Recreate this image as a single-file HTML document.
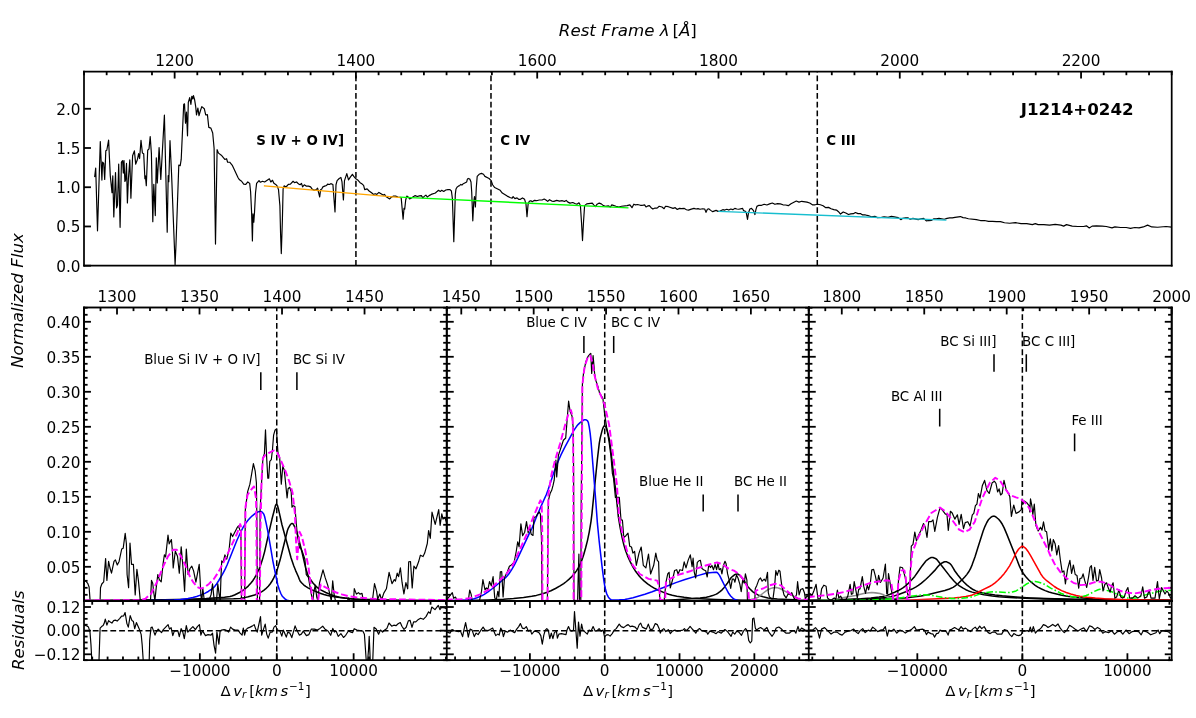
<!DOCTYPE html>
<html><head><meta charset="utf-8"><style>html,body{margin:0;padding:0;background:#fff;overflow:hidden}svg{display:block}</style></head><body>
<svg width="1196" height="718" viewBox="0 0 861.12 516.96" version="1.1">
 <defs>
  <style type="text/css">*{stroke-linejoin: round; stroke-linecap: butt}</style>
 </defs>
 <g id="figure_1">
  <g id="patch_1">
   <path d="M 0 516.96 L 861.12 516.96 L 861.12 0 L 0 0 z" style="fill: #ffffff"/>
  </g>
  <g id="axes_1">
   <g id="patch_2">
    <path d="M 60.48 191.304 L 843.624 191.304 L 843.624 51.552 L 60.48 51.552 z" style="fill: #ffffff"/>
   </g>
   <g id="matplotlib.axis_1">
    <g id="xtick_1">
     <g id="line2d_1">
      <g>
       <path d="M 0 0 L 0 5" transform="translate(125.742 51.552)" style="stroke: #000000; stroke-width: 1.3"/>
      </g>
     </g>
     <g id="text_1">
      <text style="font-size: 11px; font-family: 'DejaVu Sans', sans-serif; text-anchor: middle" x="125.742" y="47.764344" transform="rotate(-0 125.742 47.764344)">1200</text>
     </g>
    </g>
    <g id="xtick_2">
     <g id="line2d_2">
      <g>
       <path d="M 0 0 L 0 5" transform="translate(256.266 51.552)" style="stroke: #000000; stroke-width: 1.3"/>
      </g>
     </g>
     <g id="text_2">
      <text style="font-size: 11px; font-family: 'DejaVu Sans', sans-serif; text-anchor: middle" x="256.266" y="47.764344" transform="rotate(-0 256.266 47.764344)">1400</text>
     </g>
    </g>
    <g id="xtick_3">
     <g id="line2d_3">
      <g>
       <path d="M 0 0 L 0 5" transform="translate(386.79 51.552)" style="stroke: #000000; stroke-width: 1.3"/>
      </g>
     </g>
     <g id="text_3">
      <text style="font-size: 11px; font-family: 'DejaVu Sans', sans-serif; text-anchor: middle" x="386.79" y="47.764344" transform="rotate(-0 386.79 47.764344)">1600</text>
     </g>
    </g>
    <g id="xtick_4">
     <g id="line2d_4">
      <g>
       <path d="M 0 0 L 0 5" transform="translate(517.314 51.552)" style="stroke: #000000; stroke-width: 1.3"/>
      </g>
     </g>
     <g id="text_4">
      <text style="font-size: 11px; font-family: 'DejaVu Sans', sans-serif; text-anchor: middle" x="517.314" y="47.764344" transform="rotate(-0 517.314 47.764344)">1800</text>
     </g>
    </g>
    <g id="xtick_5">
     <g id="line2d_5">
      <g>
       <path d="M 0 0 L 0 5" transform="translate(647.838 51.552)" style="stroke: #000000; stroke-width: 1.3"/>
      </g>
     </g>
     <g id="text_5">
      <text style="font-size: 11px; font-family: 'DejaVu Sans', sans-serif; text-anchor: middle" x="647.838" y="47.764344" transform="rotate(-0 647.838 47.764344)">2000</text>
     </g>
    </g>
    <g id="xtick_6">
     <g id="line2d_6">
      <g>
       <path d="M 0 0 L 0 5" transform="translate(778.362 51.552)" style="stroke: #000000; stroke-width: 1.3"/>
      </g>
     </g>
     <g id="text_6">
      <text style="font-size: 11px; font-family: 'DejaVu Sans', sans-serif; text-anchor: middle" x="778.362" y="47.764344" transform="rotate(-0 778.362 47.764344)">2200</text>
     </g>
    </g>
    <g id="xtick_7">
     <g id="line2d_7">
      <g>
       <path d="M 0 0 L 0 2.6" transform="translate(60.48 51.552)" style="stroke: #000000; stroke-width: 1.3"/>
      </g>
     </g>
    </g>
    <g id="xtick_8">
     <g id="line2d_8">
      <g>
       <path d="M 0 0 L 0 2.6" transform="translate(76.7955 51.552)" style="stroke: #000000; stroke-width: 1.3"/>
      </g>
     </g>
    </g>
    <g id="xtick_9">
     <g id="line2d_9">
      <g>
       <path d="M 0 0 L 0 2.6" transform="translate(93.111 51.552)" style="stroke: #000000; stroke-width: 1.3"/>
      </g>
     </g>
    </g>
    <g id="xtick_10">
     <g id="line2d_10">
      <g>
       <path d="M 0 0 L 0 2.6" transform="translate(109.4265 51.552)" style="stroke: #000000; stroke-width: 1.3"/>
      </g>
     </g>
    </g>
    <g id="xtick_11">
     <g id="line2d_11">
      <g>
       <path d="M 0 0 L 0 2.6" transform="translate(142.0575 51.552)" style="stroke: #000000; stroke-width: 1.3"/>
      </g>
     </g>
    </g>
    <g id="xtick_12">
     <g id="line2d_12">
      <g>
       <path d="M 0 0 L 0 2.6" transform="translate(158.373 51.552)" style="stroke: #000000; stroke-width: 1.3"/>
      </g>
     </g>
    </g>
    <g id="xtick_13">
     <g id="line2d_13">
      <g>
       <path d="M 0 0 L 0 2.6" transform="translate(174.6885 51.552)" style="stroke: #000000; stroke-width: 1.3"/>
      </g>
     </g>
    </g>
    <g id="xtick_14">
     <g id="line2d_14">
      <g>
       <path d="M 0 0 L 0 2.6" transform="translate(191.004 51.552)" style="stroke: #000000; stroke-width: 1.3"/>
      </g>
     </g>
    </g>
    <g id="xtick_15">
     <g id="line2d_15">
      <g>
       <path d="M 0 0 L 0 2.6" transform="translate(207.3195 51.552)" style="stroke: #000000; stroke-width: 1.3"/>
      </g>
     </g>
    </g>
    <g id="xtick_16">
     <g id="line2d_16">
      <g>
       <path d="M 0 0 L 0 2.6" transform="translate(223.635 51.552)" style="stroke: #000000; stroke-width: 1.3"/>
      </g>
     </g>
    </g>
    <g id="xtick_17">
     <g id="line2d_17">
      <g>
       <path d="M 0 0 L 0 2.6" transform="translate(239.9505 51.552)" style="stroke: #000000; stroke-width: 1.3"/>
      </g>
     </g>
    </g>
    <g id="xtick_18">
     <g id="line2d_18">
      <g>
       <path d="M 0 0 L 0 2.6" transform="translate(272.5815 51.552)" style="stroke: #000000; stroke-width: 1.3"/>
      </g>
     </g>
    </g>
    <g id="xtick_19">
     <g id="line2d_19">
      <g>
       <path d="M 0 0 L 0 2.6" transform="translate(288.897 51.552)" style="stroke: #000000; stroke-width: 1.3"/>
      </g>
     </g>
    </g>
    <g id="xtick_20">
     <g id="line2d_20">
      <g>
       <path d="M 0 0 L 0 2.6" transform="translate(305.2125 51.552)" style="stroke: #000000; stroke-width: 1.3"/>
      </g>
     </g>
    </g>
    <g id="xtick_21">
     <g id="line2d_21">
      <g>
       <path d="M 0 0 L 0 2.6" transform="translate(321.528 51.552)" style="stroke: #000000; stroke-width: 1.3"/>
      </g>
     </g>
    </g>
    <g id="xtick_22">
     <g id="line2d_22">
      <g>
       <path d="M 0 0 L 0 2.6" transform="translate(337.8435 51.552)" style="stroke: #000000; stroke-width: 1.3"/>
      </g>
     </g>
    </g>
    <g id="xtick_23">
     <g id="line2d_23">
      <g>
       <path d="M 0 0 L 0 2.6" transform="translate(354.159 51.552)" style="stroke: #000000; stroke-width: 1.3"/>
      </g>
     </g>
    </g>
    <g id="xtick_24">
     <g id="line2d_24">
      <g>
       <path d="M 0 0 L 0 2.6" transform="translate(370.4745 51.552)" style="stroke: #000000; stroke-width: 1.3"/>
      </g>
     </g>
    </g>
    <g id="xtick_25">
     <g id="line2d_25">
      <g>
       <path d="M 0 0 L 0 2.6" transform="translate(403.1055 51.552)" style="stroke: #000000; stroke-width: 1.3"/>
      </g>
     </g>
    </g>
    <g id="xtick_26">
     <g id="line2d_26">
      <g>
       <path d="M 0 0 L 0 2.6" transform="translate(419.421 51.552)" style="stroke: #000000; stroke-width: 1.3"/>
      </g>
     </g>
    </g>
    <g id="xtick_27">
     <g id="line2d_27">
      <g>
       <path d="M 0 0 L 0 2.6" transform="translate(435.7365 51.552)" style="stroke: #000000; stroke-width: 1.3"/>
      </g>
     </g>
    </g>
    <g id="xtick_28">
     <g id="line2d_28">
      <g>
       <path d="M 0 0 L 0 2.6" transform="translate(452.052 51.552)" style="stroke: #000000; stroke-width: 1.3"/>
      </g>
     </g>
    </g>
    <g id="xtick_29">
     <g id="line2d_29">
      <g>
       <path d="M 0 0 L 0 2.6" transform="translate(468.3675 51.552)" style="stroke: #000000; stroke-width: 1.3"/>
      </g>
     </g>
    </g>
    <g id="xtick_30">
     <g id="line2d_30">
      <g>
       <path d="M 0 0 L 0 2.6" transform="translate(484.683 51.552)" style="stroke: #000000; stroke-width: 1.3"/>
      </g>
     </g>
    </g>
    <g id="xtick_31">
     <g id="line2d_31">
      <g>
       <path d="M 0 0 L 0 2.6" transform="translate(500.9985 51.552)" style="stroke: #000000; stroke-width: 1.3"/>
      </g>
     </g>
    </g>
    <g id="xtick_32">
     <g id="line2d_32">
      <g>
       <path d="M 0 0 L 0 2.6" transform="translate(533.6295 51.552)" style="stroke: #000000; stroke-width: 1.3"/>
      </g>
     </g>
    </g>
    <g id="xtick_33">
     <g id="line2d_33">
      <g>
       <path d="M 0 0 L 0 2.6" transform="translate(549.945 51.552)" style="stroke: #000000; stroke-width: 1.3"/>
      </g>
     </g>
    </g>
    <g id="xtick_34">
     <g id="line2d_34">
      <g>
       <path d="M 0 0 L 0 2.6" transform="translate(566.2605 51.552)" style="stroke: #000000; stroke-width: 1.3"/>
      </g>
     </g>
    </g>
    <g id="xtick_35">
     <g id="line2d_35">
      <g>
       <path d="M 0 0 L 0 2.6" transform="translate(582.576 51.552)" style="stroke: #000000; stroke-width: 1.3"/>
      </g>
     </g>
    </g>
    <g id="xtick_36">
     <g id="line2d_36">
      <g>
       <path d="M 0 0 L 0 2.6" transform="translate(598.8915 51.552)" style="stroke: #000000; stroke-width: 1.3"/>
      </g>
     </g>
    </g>
    <g id="xtick_37">
     <g id="line2d_37">
      <g>
       <path d="M 0 0 L 0 2.6" transform="translate(615.207 51.552)" style="stroke: #000000; stroke-width: 1.3"/>
      </g>
     </g>
    </g>
    <g id="xtick_38">
     <g id="line2d_38">
      <g>
       <path d="M 0 0 L 0 2.6" transform="translate(631.5225 51.552)" style="stroke: #000000; stroke-width: 1.3"/>
      </g>
     </g>
    </g>
    <g id="xtick_39">
     <g id="line2d_39">
      <g>
       <path d="M 0 0 L 0 2.6" transform="translate(664.1535 51.552)" style="stroke: #000000; stroke-width: 1.3"/>
      </g>
     </g>
    </g>
    <g id="xtick_40">
     <g id="line2d_40">
      <g>
       <path d="M 0 0 L 0 2.6" transform="translate(680.469 51.552)" style="stroke: #000000; stroke-width: 1.3"/>
      </g>
     </g>
    </g>
    <g id="xtick_41">
     <g id="line2d_41">
      <g>
       <path d="M 0 0 L 0 2.6" transform="translate(696.7845 51.552)" style="stroke: #000000; stroke-width: 1.3"/>
      </g>
     </g>
    </g>
    <g id="xtick_42">
     <g id="line2d_42">
      <g>
       <path d="M 0 0 L 0 2.6" transform="translate(713.1 51.552)" style="stroke: #000000; stroke-width: 1.3"/>
      </g>
     </g>
    </g>
    <g id="xtick_43">
     <g id="line2d_43">
      <g>
       <path d="M 0 0 L 0 2.6" transform="translate(729.4155 51.552)" style="stroke: #000000; stroke-width: 1.3"/>
      </g>
     </g>
    </g>
    <g id="xtick_44">
     <g id="line2d_44">
      <g>
       <path d="M 0 0 L 0 2.6" transform="translate(745.731 51.552)" style="stroke: #000000; stroke-width: 1.3"/>
      </g>
     </g>
    </g>
    <g id="xtick_45">
     <g id="line2d_45">
      <g>
       <path d="M 0 0 L 0 2.6" transform="translate(762.0465 51.552)" style="stroke: #000000; stroke-width: 1.3"/>
      </g>
     </g>
    </g>
    <g id="xtick_46">
     <g id="line2d_46">
      <g>
       <path d="M 0 0 L 0 2.6" transform="translate(794.6775 51.552)" style="stroke: #000000; stroke-width: 1.3"/>
      </g>
     </g>
    </g>
    <g id="xtick_47">
     <g id="line2d_47">
      <g>
       <path d="M 0 0 L 0 2.6" transform="translate(810.993 51.552)" style="stroke: #000000; stroke-width: 1.3"/>
      </g>
     </g>
    </g>
    <g id="xtick_48">
     <g id="line2d_48">
      <g>
       <path d="M 0 0 L 0 2.6" transform="translate(827.3085 51.552)" style="stroke: #000000; stroke-width: 1.3"/>
      </g>
     </g>
    </g>
    <g id="xtick_49">
     <g id="line2d_49">
      <g>
       <path d="M 0 0 L 0 2.6" transform="translate(843.624 51.552)" style="stroke: #000000; stroke-width: 1.3"/>
      </g>
     </g>
    </g>
    <g id="text_7">
     
     <g transform="translate(402.372 26.706062)">
      <text><tspan x="0" y="-0.859375" style="font-style: oblique; font-size: 12px; font-family: 'DejaVu Sans', sans-serif">Rest </tspan><tspan x="30.5742" y="-0.859375" style="font-style: oblique; font-size: 12px; font-family: 'DejaVu Sans', sans-serif">Frame </tspan><tspan x="72.7323" y="-0.859375" style="font-style: oblique; font-size: 12px; font-family: 'DejaVu Sans', sans-serif">λ </tspan><tspan x="81.7822" y="-0.859375" style="font-size: 12px; font-family: 'DejaVu Sans', sans-serif">[</tspan><tspan x="86.4638" y="-0.859375" style="font-style: oblique; font-size: 12px; font-family: 'DejaVu Sans', sans-serif">Å</tspan><tspan x="94.6728" y="-0.859375" style="font-size: 12px; font-family: 'DejaVu Sans', sans-serif">]</tspan></text>
     </g>
    </g>
   </g>
   <g id="matplotlib.axis_2">
    <g id="ytick_1">
     <g id="line2d_50">
      <g>
       <path d="M 0 0 L 5 0" transform="translate(60.48 191.304)" style="stroke: #000000; stroke-width: 1.3"/>
      </g>
     </g>
     <g id="text_8">
      <text style="font-size: 11px; font-family: 'DejaVu Sans', sans-serif; text-anchor: end" x="57.98" y="195.483141" transform="rotate(-0 57.98 195.483141)">0.0</text>
     </g>
    </g>
    <g id="ytick_2">
     <g id="line2d_51">
      <g>
       <path d="M 0 0 L 5 0" transform="translate(60.48 163.055294)" style="stroke: #000000; stroke-width: 1.3"/>
      </g>
     </g>
     <g id="text_9">
      <text style="font-size: 11px; font-family: 'DejaVu Sans', sans-serif; text-anchor: end" x="57.98" y="167.234434" transform="rotate(-0 57.98 167.234434)">0.5</text>
     </g>
    </g>
    <g id="ytick_3">
     <g id="line2d_52">
      <g>
       <path d="M 0 0 L 5 0" transform="translate(60.48 134.806587)" style="stroke: #000000; stroke-width: 1.3"/>
      </g>
     </g>
     <g id="text_10">
      <text style="font-size: 11px; font-family: 'DejaVu Sans', sans-serif; text-anchor: end" x="57.98" y="138.985728" transform="rotate(-0 57.98 138.985728)">1.0</text>
     </g>
    </g>
    <g id="ytick_4">
     <g id="line2d_53">
      <g>
       <path d="M 0 0 L 5 0" transform="translate(60.48 106.557881)" style="stroke: #000000; stroke-width: 1.3"/>
      </g>
     </g>
     <g id="text_11">
      <text style="font-size: 11px; font-family: 'DejaVu Sans', sans-serif; text-anchor: end" x="57.98" y="110.737022" transform="rotate(-0 57.98 110.737022)">1.5</text>
     </g>
    </g>
    <g id="ytick_5">
     <g id="line2d_54">
      <g>
       <path d="M 0 0 L 5 0" transform="translate(60.48 78.309175)" style="stroke: #000000; stroke-width: 1.3"/>
      </g>
     </g>
     <g id="text_12">
      <text style="font-size: 11px; font-family: 'DejaVu Sans', sans-serif; text-anchor: end" x="57.98" y="82.488315" transform="rotate(-0 57.98 82.488315)">2.0</text>
     </g>
    </g>
   </g>
   <g id="line2d_55">
    <path d="M 256.266 191.304 L 256.266 51.552" clip-path="url(#p3af174a0c6)" style="fill: none; stroke-dasharray: 4.18,2.145; stroke-dashoffset: 0; stroke: #000000; stroke-width: 1.1"/>
   </g>
   <g id="line2d_56">
    <path d="M 353.50638 191.304 L 353.50638 51.552" clip-path="url(#p3af174a0c6)" style="fill: none; stroke-dasharray: 4.18,2.145; stroke-dashoffset: 0; stroke: #000000; stroke-width: 1.1"/>
   </g>
   <g id="line2d_57">
    <path d="M 588.44958 191.304 L 588.44958 51.552" clip-path="url(#p3af174a0c6)" style="fill: none; stroke-dasharray: 4.18,2.145; stroke-dashoffset: 0; stroke: #000000; stroke-width: 1.1"/>
   </g>
   <g id="line2d_58">
    <path d="M 68.184 127.13506 L 68.904 120.962084 L 70.2 166.182718 L 72.216 101.940706 L 73.368 129.647317 L 73.872 116.655357 L 74.664 117.66026 L 75.384 129.144865 L 76.176 108.616133 L 76.896 108.185461 L 78.192 100.864025 L 79.416 126.632608 L 80.64 138.691444 L 81.216 126.632608 L 81.936 156.205467 L 83.16 124.192129 L 83.952 149.673598 L 84.6 147.663792 L 85.464 118.162712 L 86.472 163.670461 L 87.408 116.655357 L 88.272 115.650454 L 88.776 124.622802 L 89.28 115.650454 L 89.928 130.65222 L 90.432 129.647317 L 91.08 117.66026 L 91.728 146.156437 L 92.448 128.642414 L 93.456 115.148003 L 94.248 142.639277 L 95.472 112.133294 L 96.768 108.616133 L 97.704 118.162712 L 99 114.645551 L 99.792 110.625939 L 100.512 114.1431 L 101.52 101.079361 L 102.528 110.123488 L 103.464 110.625939 L 104.328 128.642414 L 104.688 126.632608 L 105.336 133.666929 L 106.344 108.185461 L 107.28 107.180558 L 108.144 98.279988 L 109.008 110.625939 L 110.016 159.650849 L 110.736 132.662026 L 111.816 155.200564 L 112.536 113.640648 L 113.256 131.657123 L 114.552 106.175655 L 115.776 129.144865 L 118.368 82.775771 L 120.384 167.187621 L 121.104 126.48905 L 121.536 130.795777 L 122.4 101.294697 L 123.552 125.771263 L 126.072 190.587505 L 126.72 176.016411 L 128.736 118.808721 L 129.744 119.311172 L 130.464 114.789109 L 132.264 75.238999 L 132.84 74.736547 L 133.56 88.73341 L 134.28 80.765965 L 135 97.777537 L 135.576 73.731644 L 136.584 70.286263 L 137.448 75.238999 L 138.096 69.28136 L 138.816 71.291166 L 139.248 68.778908 L 140.112 71.793617 L 140.904 76.746353 L 141.48 82.775771 L 142.488 77.751256 L 143.28 83.278223 L 144.288 79.761062 L 145.296 76.746353 L 147.096 78.253708 L 148.104 82.775771 L 149.328 82.560435 L 150.336 91.748119 L 151.848 92.250571 L 153.144 95.767731 L 154.152 106.749885 L 155.16 175.729296 L 156.312 107.754788 L 157.32 110.267045 L 159.336 111.7744 L 161.856 114.789109 L 163.152 114.286657 L 163.872 116.798915 L 165.384 116.798915 L 167.4 119.311172 L 171.432 127.996405 L 172.44 129.503759 L 173.952 130.508662 L 175.464 132.518468 L 176.976 132.805583 L 178.416 131.011114 L 179.784 132.016017 L 180.432 138.045435 L 181.152 153.047201 L 181.728 173.504154 L 182.16 154.052103 L 182.736 160.009743 L 183.24 153.047201 L 183.96 138.978559 L 184.752 132.016017 L 186.48 130.006211 L 187.488 131.22645 L 189 130.508662 L 190.512 131.011114 L 193.968 128.785972 L 194.976 131.011114 L 196.2 129.790875 L 197.208 132.016017 L 198.504 132.805583 L 199.512 133.810486 L 200.52 136.53808 L 201.528 148.022686 L 202.032 168.838533 L 202.536 182.548281 L 203.328 157.999937 L 203.832 136.035629 L 204.552 133.810486 L 205.56 134.528274 L 206.568 134.025823 L 207.576 132.805583 L 209.088 132.518468 L 211.032 130.508662 L 212.04 131.513565 L 213.552 131.011114 L 215.064 132.518468 L 216.072 133.02092 L 217.08 132.016017 L 217.872 134.528274 L 219.096 133.02092 L 220.608 134.025823 L 222.12 134.025823 L 223.632 134.528274 L 224.64 136.035629 L 226.152 137.040532 L 227.664 136.53808 L 228.672 135.533177 L 230.184 141.84971 L 230.832 136.53808 L 231.696 136.035629 L 232.488 134.528274 L 234.144 133.810486 L 235.152 133.523371 L 235.872 132.518468 L 237.168 132.805583 L 238.176 132.231353 L 239.688 132.805583 L 241.2 152.544749 L 241.92 133.02092 L 242.712 130.006211 L 244.224 128.498856 L 245.448 127.781069 L 246.24 131.011114 L 247.248 144.003074 L 248.04 130.006211 L 249.696 124.981696 L 250.92 129.503759 L 252.216 127.493953 L 253.728 125.484147 L 254.736 126.991502 L 255.96 128.498856 L 256.752 129.001308 L 257.976 130.006211 L 259.272 131.513565 L 260.784 132.518468 L 261.792 133.523371 L 262.584 136.53808 L 264.312 136.035629 L 265.752 137.542983 L 267.768 138.978559 L 268.776 139.983462 L 270.288 139.48101 L 271.296 139.983462 L 272.808 138.547886 L 275.832 140.485913 L 276.84 139.983462 L 277.848 141.490816 L 280.584 143.213507 L 281.88 141.84971 L 283.392 141.203701 L 284.904 141.203701 L 286.416 141.84971 L 287.856 141.993268 L 288.864 142.495719 L 290.232 157.856379 L 290.88 150.032492 L 291.384 150.534943 L 292.104 144.003074 L 292.896 141.203701 L 293.904 141.84971 L 294.912 143.213507 L 295.92 142.782834 L 298.944 140.844807 L 300.456 141.490816 L 301.968 140.988365 L 303.408 140.844807 L 304.416 142.495719 L 305.64 141.203701 L 306.648 140.485913 L 307.656 141.84971 L 308.952 140.844807 L 310.464 139.983462 L 313.488 138.978559 L 314.712 137.830098 L 315.72 137.040532 L 317.016 137.830098 L 318.024 137.040532 L 319.464 137.830098 L 320.976 136.825195 L 322.488 136.53808 L 324 136.53808 L 325.008 137.542983 L 325.728 142.998171 L 326.736 174.006605 L 327.816 139.983462 L 328.32 136.035629 L 329.04 134.815389 L 330.048 134.025823 L 331.056 133.523371 L 331.776 132.805583 L 332.568 133.236256 L 333.576 132.231353 L 336.024 131.011114 L 336.528 129.001308 L 337.104 128.498856 L 338.328 129.001308 L 339.12 131.011114 L 339.624 138.045435 L 340.416 159.00484 L 341.136 145.007977 L 341.64 141.490816 L 342.288 149.027589 L 342.936 135.030726 L 343.584 126.991502 L 344.952 125.484147 L 346.608 124.838138 L 348.12 125.484147 L 349.128 126.991502 L 352.152 128.498856 L 353.664 130.006211 L 354.672 133.02092 L 356.184 135.030726 L 360.144 137.040532 L 361.656 138.978559 L 365.184 141.203701 L 367.2 142.208604 L 368.712 142.782834 L 369.432 141.490816 L 370.728 142.998171 L 372.24 142.495719 L 373.392 143.500622 L 374.688 143.500622 L 376.2 142.495719 L 377.712 143.500622 L 378.72 147.017783 L 379.44 155.990131 L 380.232 147.017783 L 381.024 145.007977 L 382.248 144.505525 L 383.256 145.223313 L 384.768 144.21841 L 386.28 144.505525 L 388.296 144.003074 L 390.312 144.003074 L 391.824 143.285286 L 393.336 144.21841 L 394.344 145.007977 L 395.64 143.787737 L 397.296 144.79264 L 398.808 145.007977 L 400.824 144.290189 L 402.84 144.79264 L 404.856 144.505525 L 406.368 145.007977 L 407.664 144.290189 L 408.888 145.510428 L 410.4 146.228216 L 412.416 145.797543 L 413.856 146.515331 L 415.368 147.017783 L 416.88 146.01288 L 417.888 148.022686 L 418.68 160.009743 L 419.4 173.217039 L 420.12 160.009743 L 420.912 148.022686 L 422.424 146.802446 L 426.456 146.299995 L 427.464 147.520234 L 428.76 148.812252 L 429.912 147.017783 L 431.424 146.228216 L 432.936 146.802446 L 434.448 148.022686 L 435.96 148.525137 L 437.976 148.238022 L 439.488 149.027589 L 440.496 147.520234 L 443.52 148.525137 L 445.536 149.027589 L 447.552 148.525137 L 451.512 148.022686 L 453.528 147.520234 L 455.04 149.53004 L 456.336 147.017783 L 457.56 147.520234 L 459.072 147.233119 L 461.088 147.807349 L 462.6 147.807349 L 464.112 147.520234 L 465.12 149.027589 L 466.416 148.238022 L 467.568 148.022686 L 468.792 149.53004 L 470.088 150.534943 L 471.6 149.817155 L 473.112 149.817155 L 474.624 148.525137 L 476.64 149.027589 L 478.152 150.247828 L 479.16 148.525137 L 481.176 148.812252 L 484.632 150.032492 L 486.144 149.53004 L 487.656 150.822058 L 489.168 150.032492 L 490.68 150.247828 L 492.696 150.032492 L 494.208 151.037395 L 495.72 151.252731 L 497.736 150.534943 L 499.68 150.032492 L 501.12 150.463164 L 502.56 150.176049 L 504 150.678501 L 505.944 150.319607 L 507.384 150.463164 L 508.32 152.903643 L 509.328 150.678501 L 510.264 150.319607 L 511.704 151.468067 L 513.144 152.401191 L 515.592 151.468067 L 517.032 152.185855 L 518.472 151.89874 L 520.416 150.965616 L 521.856 151.252731 L 523.296 150.678501 L 524.736 151.252731 L 526.176 150.463164 L 527.616 150.965616 L 529.056 150.032492 L 530.496 150.463164 L 531.936 150.678501 L 534.672 150.032492 L 535.32 151.611625 L 536.256 151.89874 L 537.264 152.903643 L 538.2 157.999937 L 538.92 153.334316 L 539.856 150.463164 L 541.08 150.032492 L 542.52 151.611625 L 543.528 154.482776 L 544.248 150.965616 L 544.968 148.596916 L 546.408 147.807349 L 548.352 147.807349 L 550.224 147.089561 L 552.168 147.592013 L 554.112 146.802446 L 556.056 146.156437 L 557.928 147.089561 L 559.872 146.658889 L 561.816 146.802446 L 563.76 147.448455 L 565.632 147.592013 L 567.576 148.094464 L 569.52 146.658889 L 573.336 144.720862 L 575.28 145.510428 L 577.224 144.936198 L 581.04 145.510428 L 582.984 146.156437 L 584.928 147.448455 L 586.872 147.448455 L 588.816 147.089561 L 590.688 147.448455 L 592.632 148.094464 L 594.576 149.53004 L 596.52 149.314704 L 598.392 150.319607 L 600.336 150.965616 L 602.28 151.252731 L 603.72 152.401191 L 605.16 154.123882 L 607.104 152.616528 L 608.976 153.334316 L 610.92 154.482776 L 612.504 153.980325 L 614.448 153.836767 L 615.888 153.047201 L 617.76 153.836767 L 619.704 153.836767 L 621.144 154.769891 L 623.088 154.769891 L 625.032 155.272343 L 627.408 156.061909 L 629.856 155.774794 L 631.728 156.707918 L 634.608 156.492582 L 636.552 156.205467 L 639.432 156.492582 L 641.88 155.774794 L 646.704 156.707918 L 648.576 158.143494 L 650.016 157.21037 L 651.96 156.923255 L 653.904 156.923255 L 655.344 157.856379 L 657.288 157.21037 L 661.104 158.143494 L 663.048 157.497485 L 664.992 157.21037 L 666.936 159.076618 L 668.808 158.789503 L 670.752 158.645946 L 672.192 157.641043 L 674.136 157.497485 L 676.08 157.21037 L 679.896 157.856379 L 681.84 157.21037 L 683.784 156.923255 L 685.656 156.923255 L 687.6 156.492582 L 691.488 155.918352 L 693.36 156.707918 L 695.304 156.923255 L 697.248 157.497485 L 703.008 158.143494 L 705.888 158.789503 L 708.84 158.789503 L 711.72 159.363734 L 714.6 159.363734 L 717.48 159.57907 L 720.36 159.57907 L 723.24 160.368636 L 726.984 160.72753 L 731.088 160.296858 L 735.192 161.014646 L 739.224 161.014646 L 743.328 161.732433 L 745.416 161.014646 L 747.432 161.732433 L 751.536 161.732433 L 755.64 162.091327 L 759.744 161.588876 L 763.848 162.091327 L 765.864 162.809115 L 767.88 161.732433 L 771.984 162.809115 L 776.088 163.09623 L 780.192 163.09623 L 782.208 162.593779 L 784.296 164.101133 L 786.312 162.809115 L 789.408 162.593779 L 793.512 162.809115 L 796.536 163.09623 L 800.64 164.101133 L 802.728 163.383345 L 806.832 163.814018 L 810.864 163.814018 L 813.96 164.388248 L 817.056 163.814018 L 820.08 164.101133 L 823.176 163.383345 L 826.272 162.091327 L 829.296 163.383345 L 833.4 163.598682 L 839.52 163.09623 L 843.12 163.526903 L 843.12 163.526903" clip-path="url(#p3af174a0c6)" style="fill: none; stroke: #000000; stroke-width: 0.85; stroke-linecap: square"/>
   </g>
   <g id="line2d_59">
    <path d="M 190.512 133.810486 L 288.36 142.208604" clip-path="url(#p3af174a0c6)" style="fill: none; stroke: #ffa500; stroke-linecap: square"/>
   </g>
   <g id="line2d_60">
    <path d="M 288.36 141.921489 L 452.016 149.673598" clip-path="url(#p3af174a0c6)" style="fill: none; stroke: #00ff00; stroke-linecap: square"/>
   </g>
   <g id="line2d_61">
    <path d="M 517.68 152.185855 L 680.904 158.430609" clip-path="url(#p3af174a0c6)" style="fill: none; stroke: #17becf; stroke-linecap: square"/>
   </g>
   <g id="patch_3">
    <path d="M 60.48 191.304 L 60.48 51.552" style="fill: none; stroke: #000000; stroke-width: 1.25; stroke-linejoin: miter; stroke-linecap: square"/>
   </g>
   <g id="patch_4">
    <path d="M 843.624 191.304 L 843.624 51.552" style="fill: none; stroke: #000000; stroke-width: 1.25; stroke-linejoin: miter; stroke-linecap: square"/>
   </g>
   <g id="patch_5">
    <path d="M 60.48 191.304 L 843.624 191.304" style="fill: none; stroke: #000000; stroke-width: 1.25; stroke-linejoin: miter; stroke-linecap: square"/>
   </g>
   <g id="patch_6">
    <path d="M 60.48 51.552 L 843.624 51.552" style="fill: none; stroke: #000000; stroke-width: 1.25; stroke-linejoin: miter; stroke-linecap: square"/>
   </g>
   <g id="text_13">
    <text style="font-weight: 700; font-size: 9.65px; font-family: 'DejaVu Sans', sans-serif; text-anchor: start" x="184.536" y="104.6683" transform="rotate(-0 184.536 104.6683)">S IV + O IV]</text>
   </g>
   <g id="text_14">
    <text style="font-weight: 700; font-size: 9.65px; font-family: 'DejaVu Sans', sans-serif; text-anchor: start" x="360.216" y="104.6683" transform="rotate(-0 360.216 104.6683)">C IV</text>
   </g>
   <g id="text_15">
    <text style="font-weight: 700; font-size: 9.65px; font-family: 'DejaVu Sans', sans-serif; text-anchor: start" x="594.936" y="104.6683" transform="rotate(-0 594.936 104.6683)">C III</text>
   </g>
   <g id="text_16">
    <text style="font-weight: 700; font-size: 12px; font-family: 'DejaVu Sans', sans-serif; text-anchor: start" x="734.904" y="83.062886" transform="rotate(-0 734.904 83.062886)">J1214+0242</text>
   </g>
  </g>
  <g id="axes_2">
   <g id="patch_7">
    <path d="M 60.48 432.792 L 321.696 432.792 L 321.696 221.4 L 60.48 221.4 z" style="fill: #ffffff"/>
   </g>
   <g id="matplotlib.axis_3">
    <g id="xtick_50"/>
    <g id="xtick_51"/>
    <g id="xtick_52"/>
    <g id="xtick_53"/>
    <g id="xtick_54"/>
   </g>
   <g id="matplotlib.axis_4">
    <g id="ytick_6">
     <g id="line2d_62">
      <g>
       <path d="M 0 0 L 5 0" transform="translate(60.48 408.094318)" style="stroke: #000000; stroke-width: 1.3"/>
      </g>
     </g>
     <g id="line2d_63">
      <g>
       <path d="M 0 0 L -5 0" transform="translate(321.696 408.094318)" style="stroke: #000000; stroke-width: 1.3"/>
      </g>
     </g>
     <g id="text_17">
      <text style="font-size: 11px; font-family: 'DejaVu Sans', sans-serif; text-anchor: end" x="57.98" y="412.273458" transform="rotate(-0 57.98 412.273458)">0.05</text>
     </g>
    </g>
    <g id="ytick_7">
     <g id="line2d_64">
      <g>
       <path d="M 0 0 L 5 0" transform="translate(60.48 382.892601)" style="stroke: #000000; stroke-width: 1.3"/>
      </g>
     </g>
     <g id="line2d_65">
      <g>
       <path d="M 0 0 L -5 0" transform="translate(321.696 382.892601)" style="stroke: #000000; stroke-width: 1.3"/>
      </g>
     </g>
     <g id="text_18">
      <text style="font-size: 11px; font-family: 'DejaVu Sans', sans-serif; text-anchor: end" x="57.98" y="387.071741" transform="rotate(-0 57.98 387.071741)">0.10</text>
     </g>
    </g>
    <g id="ytick_8">
     <g id="line2d_66">
      <g>
       <path d="M 0 0 L 5 0" transform="translate(60.48 357.690884)" style="stroke: #000000; stroke-width: 1.3"/>
      </g>
     </g>
     <g id="line2d_67">
      <g>
       <path d="M 0 0 L -5 0" transform="translate(321.696 357.690884)" style="stroke: #000000; stroke-width: 1.3"/>
      </g>
     </g>
     <g id="text_19">
      <text style="font-size: 11px; font-family: 'DejaVu Sans', sans-serif; text-anchor: end" x="57.98" y="361.870025" transform="rotate(-0 57.98 361.870025)">0.15</text>
     </g>
    </g>
    <g id="ytick_9">
     <g id="line2d_68">
      <g>
       <path d="M 0 0 L 5 0" transform="translate(60.48 332.489167)" style="stroke: #000000; stroke-width: 1.3"/>
      </g>
     </g>
     <g id="line2d_69">
      <g>
       <path d="M 0 0 L -5 0" transform="translate(321.696 332.489167)" style="stroke: #000000; stroke-width: 1.3"/>
      </g>
     </g>
     <g id="text_20">
      <text style="font-size: 11px; font-family: 'DejaVu Sans', sans-serif; text-anchor: end" x="57.98" y="336.668308" transform="rotate(-0 57.98 336.668308)">0.20</text>
     </g>
    </g>
    <g id="ytick_10">
     <g id="line2d_70">
      <g>
       <path d="M 0 0 L 5 0" transform="translate(60.48 307.287451)" style="stroke: #000000; stroke-width: 1.3"/>
      </g>
     </g>
     <g id="line2d_71">
      <g>
       <path d="M 0 0 L -5 0" transform="translate(321.696 307.287451)" style="stroke: #000000; stroke-width: 1.3"/>
      </g>
     </g>
     <g id="text_21">
      <text style="font-size: 11px; font-family: 'DejaVu Sans', sans-serif; text-anchor: end" x="57.98" y="311.466591" transform="rotate(-0 57.98 311.466591)">0.25</text>
     </g>
    </g>
    <g id="ytick_11">
     <g id="line2d_72">
      <g>
       <path d="M 0 0 L 5 0" transform="translate(60.48 282.085734)" style="stroke: #000000; stroke-width: 1.3"/>
      </g>
     </g>
     <g id="line2d_73">
      <g>
       <path d="M 0 0 L -5 0" transform="translate(321.696 282.085734)" style="stroke: #000000; stroke-width: 1.3"/>
      </g>
     </g>
     <g id="text_22">
      <text style="font-size: 11px; font-family: 'DejaVu Sans', sans-serif; text-anchor: end" x="57.98" y="286.264875" transform="rotate(-0 57.98 286.264875)">0.30</text>
     </g>
    </g>
    <g id="ytick_12">
     <g id="line2d_74">
      <g>
       <path d="M 0 0 L 5 0" transform="translate(60.48 256.884017)" style="stroke: #000000; stroke-width: 1.3"/>
      </g>
     </g>
     <g id="line2d_75">
      <g>
       <path d="M 0 0 L -5 0" transform="translate(321.696 256.884017)" style="stroke: #000000; stroke-width: 1.3"/>
      </g>
     </g>
     <g id="text_23">
      <text style="font-size: 11px; font-family: 'DejaVu Sans', sans-serif; text-anchor: end" x="57.98" y="261.063158" transform="rotate(-0 57.98 261.063158)">0.35</text>
     </g>
    </g>
    <g id="ytick_13">
     <g id="line2d_76">
      <g>
       <path d="M 0 0 L 5 0" transform="translate(60.48 231.6823)" style="stroke: #000000; stroke-width: 1.3"/>
      </g>
     </g>
     <g id="line2d_77">
      <g>
       <path d="M 0 0 L -5 0" transform="translate(321.696 231.6823)" style="stroke: #000000; stroke-width: 1.3"/>
      </g>
     </g>
     <g id="text_24">
      <text style="font-size: 11px; font-family: 'DejaVu Sans', sans-serif; text-anchor: end" x="57.98" y="235.861441" transform="rotate(-0 57.98 235.861441)">0.40</text>
     </g>
    </g>
    <g id="ytick_14">
     <g id="line2d_78">
      <g>
       <path d="M 0 0 L 2.6 0" transform="translate(60.48 428.255691)" style="stroke: #000000; stroke-width: 1.3"/>
      </g>
     </g>
     <g id="line2d_79">
      <g>
       <path d="M 0 0 L -2.6 0" transform="translate(321.696 428.255691)" style="stroke: #000000; stroke-width: 1.3"/>
      </g>
     </g>
    </g>
    <g id="ytick_15">
     <g id="line2d_80">
      <g>
       <path d="M 0 0 L 2.6 0" transform="translate(60.48 423.215348)" style="stroke: #000000; stroke-width: 1.3"/>
      </g>
     </g>
     <g id="line2d_81">
      <g>
       <path d="M 0 0 L -2.6 0" transform="translate(321.696 423.215348)" style="stroke: #000000; stroke-width: 1.3"/>
      </g>
     </g>
    </g>
    <g id="ytick_16">
     <g id="line2d_82">
      <g>
       <path d="M 0 0 L 2.6 0" transform="translate(60.48 418.175004)" style="stroke: #000000; stroke-width: 1.3"/>
      </g>
     </g>
     <g id="line2d_83">
      <g>
       <path d="M 0 0 L -2.6 0" transform="translate(321.696 418.175004)" style="stroke: #000000; stroke-width: 1.3"/>
      </g>
     </g>
    </g>
    <g id="ytick_17">
     <g id="line2d_84">
      <g>
       <path d="M 0 0 L 2.6 0" transform="translate(60.48 413.134661)" style="stroke: #000000; stroke-width: 1.3"/>
      </g>
     </g>
     <g id="line2d_85">
      <g>
       <path d="M 0 0 L -2.6 0" transform="translate(321.696 413.134661)" style="stroke: #000000; stroke-width: 1.3"/>
      </g>
     </g>
    </g>
    <g id="ytick_18">
     <g id="line2d_86">
      <g>
       <path d="M 0 0 L 2.6 0" transform="translate(60.48 403.053974)" style="stroke: #000000; stroke-width: 1.3"/>
      </g>
     </g>
     <g id="line2d_87">
      <g>
       <path d="M 0 0 L -2.6 0" transform="translate(321.696 403.053974)" style="stroke: #000000; stroke-width: 1.3"/>
      </g>
     </g>
    </g>
    <g id="ytick_19">
     <g id="line2d_88">
      <g>
       <path d="M 0 0 L 2.6 0" transform="translate(60.48 398.013631)" style="stroke: #000000; stroke-width: 1.3"/>
      </g>
     </g>
     <g id="line2d_89">
      <g>
       <path d="M 0 0 L -2.6 0" transform="translate(321.696 398.013631)" style="stroke: #000000; stroke-width: 1.3"/>
      </g>
     </g>
    </g>
    <g id="ytick_20">
     <g id="line2d_90">
      <g>
       <path d="M 0 0 L 2.6 0" transform="translate(60.48 392.973288)" style="stroke: #000000; stroke-width: 1.3"/>
      </g>
     </g>
     <g id="line2d_91">
      <g>
       <path d="M 0 0 L -2.6 0" transform="translate(321.696 392.973288)" style="stroke: #000000; stroke-width: 1.3"/>
      </g>
     </g>
    </g>
    <g id="ytick_21">
     <g id="line2d_92">
      <g>
       <path d="M 0 0 L 2.6 0" transform="translate(60.48 387.932944)" style="stroke: #000000; stroke-width: 1.3"/>
      </g>
     </g>
     <g id="line2d_93">
      <g>
       <path d="M 0 0 L -2.6 0" transform="translate(321.696 387.932944)" style="stroke: #000000; stroke-width: 1.3"/>
      </g>
     </g>
    </g>
    <g id="ytick_22">
     <g id="line2d_94">
      <g>
       <path d="M 0 0 L 2.6 0" transform="translate(60.48 377.852258)" style="stroke: #000000; stroke-width: 1.3"/>
      </g>
     </g>
     <g id="line2d_95">
      <g>
       <path d="M 0 0 L -2.6 0" transform="translate(321.696 377.852258)" style="stroke: #000000; stroke-width: 1.3"/>
      </g>
     </g>
    </g>
    <g id="ytick_23">
     <g id="line2d_96">
      <g>
       <path d="M 0 0 L 2.6 0" transform="translate(60.48 372.811914)" style="stroke: #000000; stroke-width: 1.3"/>
      </g>
     </g>
     <g id="line2d_97">
      <g>
       <path d="M 0 0 L -2.6 0" transform="translate(321.696 372.811914)" style="stroke: #000000; stroke-width: 1.3"/>
      </g>
     </g>
    </g>
    <g id="ytick_24">
     <g id="line2d_98">
      <g>
       <path d="M 0 0 L 2.6 0" transform="translate(60.48 367.771571)" style="stroke: #000000; stroke-width: 1.3"/>
      </g>
     </g>
     <g id="line2d_99">
      <g>
       <path d="M 0 0 L -2.6 0" transform="translate(321.696 367.771571)" style="stroke: #000000; stroke-width: 1.3"/>
      </g>
     </g>
    </g>
    <g id="ytick_25">
     <g id="line2d_100">
      <g>
       <path d="M 0 0 L 2.6 0" transform="translate(60.48 362.731227)" style="stroke: #000000; stroke-width: 1.3"/>
      </g>
     </g>
     <g id="line2d_101">
      <g>
       <path d="M 0 0 L -2.6 0" transform="translate(321.696 362.731227)" style="stroke: #000000; stroke-width: 1.3"/>
      </g>
     </g>
    </g>
    <g id="ytick_26">
     <g id="line2d_102">
      <g>
       <path d="M 0 0 L 2.6 0" transform="translate(60.48 352.650541)" style="stroke: #000000; stroke-width: 1.3"/>
      </g>
     </g>
     <g id="line2d_103">
      <g>
       <path d="M 0 0 L -2.6 0" transform="translate(321.696 352.650541)" style="stroke: #000000; stroke-width: 1.3"/>
      </g>
     </g>
    </g>
    <g id="ytick_27">
     <g id="line2d_104">
      <g>
       <path d="M 0 0 L 2.6 0" transform="translate(60.48 347.610197)" style="stroke: #000000; stroke-width: 1.3"/>
      </g>
     </g>
     <g id="line2d_105">
      <g>
       <path d="M 0 0 L -2.6 0" transform="translate(321.696 347.610197)" style="stroke: #000000; stroke-width: 1.3"/>
      </g>
     </g>
    </g>
    <g id="ytick_28">
     <g id="line2d_106">
      <g>
       <path d="M 0 0 L 2.6 0" transform="translate(60.48 342.569854)" style="stroke: #000000; stroke-width: 1.3"/>
      </g>
     </g>
     <g id="line2d_107">
      <g>
       <path d="M 0 0 L -2.6 0" transform="translate(321.696 342.569854)" style="stroke: #000000; stroke-width: 1.3"/>
      </g>
     </g>
    </g>
    <g id="ytick_29">
     <g id="line2d_108">
      <g>
       <path d="M 0 0 L 2.6 0" transform="translate(60.48 337.529511)" style="stroke: #000000; stroke-width: 1.3"/>
      </g>
     </g>
     <g id="line2d_109">
      <g>
       <path d="M 0 0 L -2.6 0" transform="translate(321.696 337.529511)" style="stroke: #000000; stroke-width: 1.3"/>
      </g>
     </g>
    </g>
    <g id="ytick_30">
     <g id="line2d_110">
      <g>
       <path d="M 0 0 L 2.6 0" transform="translate(60.48 327.448824)" style="stroke: #000000; stroke-width: 1.3"/>
      </g>
     </g>
     <g id="line2d_111">
      <g>
       <path d="M 0 0 L -2.6 0" transform="translate(321.696 327.448824)" style="stroke: #000000; stroke-width: 1.3"/>
      </g>
     </g>
    </g>
    <g id="ytick_31">
     <g id="line2d_112">
      <g>
       <path d="M 0 0 L 2.6 0" transform="translate(60.48 322.408481)" style="stroke: #000000; stroke-width: 1.3"/>
      </g>
     </g>
     <g id="line2d_113">
      <g>
       <path d="M 0 0 L -2.6 0" transform="translate(321.696 322.408481)" style="stroke: #000000; stroke-width: 1.3"/>
      </g>
     </g>
    </g>
    <g id="ytick_32">
     <g id="line2d_114">
      <g>
       <path d="M 0 0 L 2.6 0" transform="translate(60.48 317.368137)" style="stroke: #000000; stroke-width: 1.3"/>
      </g>
     </g>
     <g id="line2d_115">
      <g>
       <path d="M 0 0 L -2.6 0" transform="translate(321.696 317.368137)" style="stroke: #000000; stroke-width: 1.3"/>
      </g>
     </g>
    </g>
    <g id="ytick_33">
     <g id="line2d_116">
      <g>
       <path d="M 0 0 L 2.6 0" transform="translate(60.48 312.327794)" style="stroke: #000000; stroke-width: 1.3"/>
      </g>
     </g>
     <g id="line2d_117">
      <g>
       <path d="M 0 0 L -2.6 0" transform="translate(321.696 312.327794)" style="stroke: #000000; stroke-width: 1.3"/>
      </g>
     </g>
    </g>
    <g id="ytick_34">
     <g id="line2d_118">
      <g>
       <path d="M 0 0 L 2.6 0" transform="translate(60.48 302.247107)" style="stroke: #000000; stroke-width: 1.3"/>
      </g>
     </g>
     <g id="line2d_119">
      <g>
       <path d="M 0 0 L -2.6 0" transform="translate(321.696 302.247107)" style="stroke: #000000; stroke-width: 1.3"/>
      </g>
     </g>
    </g>
    <g id="ytick_35">
     <g id="line2d_120">
      <g>
       <path d="M 0 0 L 2.6 0" transform="translate(60.48 297.206764)" style="stroke: #000000; stroke-width: 1.3"/>
      </g>
     </g>
     <g id="line2d_121">
      <g>
       <path d="M 0 0 L -2.6 0" transform="translate(321.696 297.206764)" style="stroke: #000000; stroke-width: 1.3"/>
      </g>
     </g>
    </g>
    <g id="ytick_36">
     <g id="line2d_122">
      <g>
       <path d="M 0 0 L 2.6 0" transform="translate(60.48 292.166421)" style="stroke: #000000; stroke-width: 1.3"/>
      </g>
     </g>
     <g id="line2d_123">
      <g>
       <path d="M 0 0 L -2.6 0" transform="translate(321.696 292.166421)" style="stroke: #000000; stroke-width: 1.3"/>
      </g>
     </g>
    </g>
    <g id="ytick_37">
     <g id="line2d_124">
      <g>
       <path d="M 0 0 L 2.6 0" transform="translate(60.48 287.126077)" style="stroke: #000000; stroke-width: 1.3"/>
      </g>
     </g>
     <g id="line2d_125">
      <g>
       <path d="M 0 0 L -2.6 0" transform="translate(321.696 287.126077)" style="stroke: #000000; stroke-width: 1.3"/>
      </g>
     </g>
    </g>
    <g id="ytick_38">
     <g id="line2d_126">
      <g>
       <path d="M 0 0 L 2.6 0" transform="translate(60.48 277.045391)" style="stroke: #000000; stroke-width: 1.3"/>
      </g>
     </g>
     <g id="line2d_127">
      <g>
       <path d="M 0 0 L -2.6 0" transform="translate(321.696 277.045391)" style="stroke: #000000; stroke-width: 1.3"/>
      </g>
     </g>
    </g>
    <g id="ytick_39">
     <g id="line2d_128">
      <g>
       <path d="M 0 0 L 2.6 0" transform="translate(60.48 272.005047)" style="stroke: #000000; stroke-width: 1.3"/>
      </g>
     </g>
     <g id="line2d_129">
      <g>
       <path d="M 0 0 L -2.6 0" transform="translate(321.696 272.005047)" style="stroke: #000000; stroke-width: 1.3"/>
      </g>
     </g>
    </g>
    <g id="ytick_40">
     <g id="line2d_130">
      <g>
       <path d="M 0 0 L 2.6 0" transform="translate(60.48 266.964704)" style="stroke: #000000; stroke-width: 1.3"/>
      </g>
     </g>
     <g id="line2d_131">
      <g>
       <path d="M 0 0 L -2.6 0" transform="translate(321.696 266.964704)" style="stroke: #000000; stroke-width: 1.3"/>
      </g>
     </g>
    </g>
    <g id="ytick_41">
     <g id="line2d_132">
      <g>
       <path d="M 0 0 L 2.6 0" transform="translate(60.48 261.924361)" style="stroke: #000000; stroke-width: 1.3"/>
      </g>
     </g>
     <g id="line2d_133">
      <g>
       <path d="M 0 0 L -2.6 0" transform="translate(321.696 261.924361)" style="stroke: #000000; stroke-width: 1.3"/>
      </g>
     </g>
    </g>
    <g id="ytick_42">
     <g id="line2d_134">
      <g>
       <path d="M 0 0 L 2.6 0" transform="translate(60.48 251.843674)" style="stroke: #000000; stroke-width: 1.3"/>
      </g>
     </g>
     <g id="line2d_135">
      <g>
       <path d="M 0 0 L -2.6 0" transform="translate(321.696 251.843674)" style="stroke: #000000; stroke-width: 1.3"/>
      </g>
     </g>
    </g>
    <g id="ytick_43">
     <g id="line2d_136">
      <g>
       <path d="M 0 0 L 2.6 0" transform="translate(60.48 246.80333)" style="stroke: #000000; stroke-width: 1.3"/>
      </g>
     </g>
     <g id="line2d_137">
      <g>
       <path d="M 0 0 L -2.6 0" transform="translate(321.696 246.80333)" style="stroke: #000000; stroke-width: 1.3"/>
      </g>
     </g>
    </g>
    <g id="ytick_44">
     <g id="line2d_138">
      <g>
       <path d="M 0 0 L 2.6 0" transform="translate(60.48 241.762987)" style="stroke: #000000; stroke-width: 1.3"/>
      </g>
     </g>
     <g id="line2d_139">
      <g>
       <path d="M 0 0 L -2.6 0" transform="translate(321.696 241.762987)" style="stroke: #000000; stroke-width: 1.3"/>
      </g>
     </g>
    </g>
    <g id="ytick_45">
     <g id="line2d_140">
      <g>
       <path d="M 0 0 L 2.6 0" transform="translate(60.48 236.722644)" style="stroke: #000000; stroke-width: 1.3"/>
      </g>
     </g>
     <g id="line2d_141">
      <g>
       <path d="M 0 0 L -2.6 0" transform="translate(321.696 236.722644)" style="stroke: #000000; stroke-width: 1.3"/>
      </g>
     </g>
    </g>
    <g id="ytick_46">
     <g id="line2d_142">
      <g>
       <path d="M 0 0 L 2.6 0" transform="translate(60.48 226.641957)" style="stroke: #000000; stroke-width: 1.3"/>
      </g>
     </g>
     <g id="line2d_143">
      <g>
       <path d="M 0 0 L -2.6 0" transform="translate(321.696 226.641957)" style="stroke: #000000; stroke-width: 1.3"/>
      </g>
     </g>
    </g>
    <g id="ytick_47">
     <g id="line2d_144">
      <g>
       <path d="M 0 0 L 2.6 0" transform="translate(60.48 221.601614)" style="stroke: #000000; stroke-width: 1.3"/>
      </g>
     </g>
     <g id="line2d_145">
      <g>
       <path d="M 0 0 L -2.6 0" transform="translate(321.696 221.601614)" style="stroke: #000000; stroke-width: 1.3"/>
      </g>
     </g>
    </g>
   </g>
   <g id="line2d_146">
    <path d="M 199.256569 432.792 L 199.256569 221.4" clip-path="url(#p72ddb34a2a)" style="fill: none; stroke-dasharray: 4.18,2.145; stroke-dashoffset: 0; stroke: #000000; stroke-width: 1.1"/>
   </g>
   <g id="line2d_147">
    <path d="M 60.48 432.36 L 84.783158 432.245476 L 118.282105 431.845715 L 136.016842 431.409994 L 148.496842 430.907131 L 161.633684 429.969456 L 165.574737 429.484033 L 166.888421 429.161891 L 168.858947 428.359699 L 172.8 426.383564 L 174.770526 425.175307 L 176.741053 423.734853 L 178.711579 421.97603 L 180.682105 419.822429 L 181.995789 418.118372 L 183.309474 416.079924 L 184.623158 413.702026 L 186.593684 409.533534 L 187.907368 406.123934 L 189.221053 402.002172 L 190.534737 397.158422 L 193.818947 382.463273 L 195.789474 373.898443 L 198.416842 363.764871 L 199.073684 362.952082 L 199.730526 363.814831 L 200.387368 366.059161 L 203.014737 377.803262 L 209.583158 401.733817 L 211.553684 407.544765 L 212.867368 410.812162 L 214.837895 415.24778 L 215.494737 417.048716 L 216.151579 418.445922 L 217.465263 419.982846 L 218.778947 421.235512 L 220.092632 422.254454 L 222.063158 423.455172 L 224.690526 424.709731 L 229.945263 426.966922 L 233.229474 428.067179 L 235.856842 428.714198 L 241.768421 429.764966 L 247.68 430.582585 L 252.934737 431.087152 L 258.846316 431.403291 L 271.983158 431.856315 L 286.433684 432.126878 L 315.334737 432.347862 L 322.56 432.36 L 322.56 432.36" clip-path="url(#p72ddb34a2a)" style="fill: none; stroke: #000000; stroke-width: 1.1; stroke-linecap: square"/>
   </g>
   <g id="line2d_148">
    <path d="M 60.48 432.432 L 92.665263 432.320075 L 123.536842 432.020624 L 168.202105 431.16994 L 172.8 430.900702 L 175.427368 430.469981 L 178.711579 429.697537 L 183.309474 428.367476 L 185.936842 427.303808 L 188.564211 425.937006 L 189.877895 425.087879 L 191.191579 424.034039 L 193.162105 422.073554 L 194.475789 420.501504 L 195.789474 418.51074 L 197.103158 416.079342 L 198.416842 413.247649 L 199.730526 409.639047 L 201.701053 403.085302 L 203.671579 395.132023 L 206.955789 381.974074 L 207.612632 380.222268 L 208.926316 377.974762 L 209.583158 377.193069 L 210.24 376.851693 L 210.896842 377.148178 L 211.553684 378.060226 L 212.867368 380.789031 L 213.524211 382.434889 L 214.837895 387.109009 L 217.465263 397.596012 L 220.092632 408.98142 L 221.406316 413.294822 L 222.063158 414.747211 L 224.033684 417.946524 L 225.347368 419.729464 L 226.661053 421.257934 L 227.974737 422.553775 L 229.288421 423.638825 L 231.258947 424.92034 L 234.543158 426.62899 L 237.827368 428.03312 L 241.111579 429.140558 L 244.395789 429.959131 L 248.336842 430.626046 L 254.905263 431.522731 L 260.16 432.02747 L 264.757895 432.262064 L 273.953684 432.36906 L 305.482105 432.55373 L 322.56 432.576 L 322.56 432.576" clip-path="url(#p72ddb34a2a)" style="fill: none; stroke: #000000; stroke-width: 1.1; stroke-linecap: square"/>
   </g>
   <g id="line2d_149">
    <path d="M 108 432.432 L 116.390977 432.321152 L 125.323308 431.996465 L 129.924812 431.582867 L 135.338346 430.86193 L 138.857143 430.218738 L 141.56391 429.459651 L 144.81203 428.301856 L 147.789474 427.020349 L 149.954887 425.851813 L 151.849624 424.605866 L 153.744361 423.104416 L 154.556391 422.299344 L 155.639098 420.897769 L 157.533835 417.949988 L 160.240602 413.426262 L 162.135338 409.783499 L 163.488722 406.775703 L 167.007519 397.997913 L 170.526316 389.183692 L 173.503759 382.673232 L 175.12782 379.541204 L 176.481203 377.379562 L 178.37594 374.795263 L 180 372.913755 L 181.62406 371.367997 L 183.789474 369.595265 L 184.87218 368.938038 L 185.954887 368.53812 L 187.308271 368.230411 L 187.849624 368.219772 L 188.390977 368.451271 L 188.932331 368.925925 L 189.744361 369.941325 L 190.015038 370.415523 L 190.556391 372.061017 L 191.639098 376.835627 L 192.721805 382.064802 L 194.616541 392.894505 L 196.511278 404.184005 L 198.676692 414.904775 L 200.030075 421.187845 L 201.112782 424.567962 L 202.195489 427.329004 L 203.007519 428.863857 L 203.819549 429.856782 L 205.172932 431.176841 L 206.255639 431.960922 L 207.067669 432.319983 L 207.879699 432.437963 L 214.646617 432.572709 L 216 432.576 L 216 432.576" clip-path="url(#p72ddb34a2a)" style="fill: none; stroke: #0000ff; stroke-width: 1.1; stroke-linecap: square"/>
   </g>
   <g id="line2d_150">
    <path d="M 60.48 417.888 L 61.776 418.392 L 63.144 419.976 L 64.152 422.64 L 64.872 432.432 L 65.52 436.32 L 71.64 436.32 L 72.072 432.432 L 72.36 423.144 L 73.296 420.48 L 74.664 418.896 L 76.032 402.12 L 76.968 417.888 L 78.192 404.208 L 79.2 408.96 L 80.28 412.632 L 82.08 404.208 L 83.088 403.128 L 84.456 406.8 L 85.752 404.208 L 87.624 395.28 L 88.704 394.704 L 90.144 383.976 L 91.008 391.536 L 91.512 413.64 L 92.592 423.144 L 93.6 391.032 L 94.68 406.296 L 96.048 406.296 L 97.344 428.4 L 98.568 409.968 L 99.648 417.888 L 101.016 432.432 L 101.52 436.32 L 108 436.32 L 108.36 432.432 L 109.08 417.888 L 109.944 419.976 L 110.808 427.32 L 111.528 432.432 L 112.248 425.232 L 113.616 413.64 L 114.696 417.384 L 116.064 418.896 L 117.504 405.216 L 118.368 399.456 L 119.232 401.04 L 120.96 385.272 L 121.824 391.536 L 123.408 388.44 L 124.128 396.864 L 124.704 408.96 L 126.216 396.864 L 127.8 400.536 L 129.096 412.632 L 130.464 393.696 L 131.544 406.296 L 132.912 425.736 L 134.136 395.28 L 135.432 413.64 L 136.8 409.32 L 138.096 407.664 L 139.392 411.048 L 141.048 419.112 L 143.424 406.368 L 144.072 417.024 L 144.648 428.904 L 145.296 432.72 L 146.016 423.792 L 146.88 430.632 L 147.456 432.72 L 149.04 432.72 L 150.84 431.064 L 151.992 428.112 L 153 420.408 L 154.296 432.72 L 155.88 432.72 L 156.816 420.408 L 157.68 427.248 L 158.544 432.36 L 159.12 415.296 L 159.624 403.776 L 160.632 405.072 L 161.928 399.528 L 163.224 402.552 L 164.952 395.712 L 166.176 383.76 L 167.472 386.352 L 170.712 379.944 L 171.72 378.648 L 172.584 381.24 L 173.448 382.896 L 173.88 432.72 L 176.112 432.72 L 176.616 367.2 L 178.272 354.168 L 179.928 348.624 L 182.448 333.792 L 183.744 339.264 L 184.608 347.544 L 184.968 374.4 L 185.328 432.72 L 186.912 432.72 L 187.272 367.2 L 189.288 329.904 L 190.368 326.592 L 191.16 309.528 L 192.024 329.904 L 192.816 344.232 L 193.464 344.232 L 194.256 332.136 L 195.336 330.984 L 196.128 324.36 L 196.992 313.344 L 198.072 309.528 L 199.008 308.952 L 200.088 325.512 L 201.384 329.904 L 202.536 348.624 L 203.616 335.376 L 204.696 338.688 L 206.712 358.56 L 207.432 351.936 L 208.584 350.856 L 209.664 354.168 L 210.24 365.184 L 211.104 364.104 L 212.328 364.752 L 213.984 384.552 L 215.64 394.488 L 216 393.696 L 217.512 396.72 L 219.528 402.696 L 220.536 413.712 L 222.048 415.728 L 224.496 429.768 L 225.216 432.576 L 226.008 425.808 L 227.016 421.272 L 228.024 429.768 L 228.816 432.576 L 230.04 419.76 L 232.56 410.256 L 234.072 415.728 L 236.088 421.776 L 238.536 432.576 L 239.544 418.248 L 240.552 427.752 L 241.56 432.72 L 250.128 432.72 L 250.92 430.56 L 252 432.72 L 254.52 432.72 L 255.096 423.792 L 256.608 427.752 L 258.12 426.744 L 259.128 427.752 L 260.64 427.248 L 261.648 432.576 L 268.128 432.576 L 269.64 420.264 L 271.152 425.808 L 271.944 431.424 L 273.456 427.68 L 274.752 431.856 L 276.336 427.032 L 278.208 423.936 L 280.152 412.056 L 282.24 420.192 L 283.896 417.312 L 284.76 418.32 L 285.984 412.632 L 286.992 415.152 L 288.288 408.888 L 289.512 419.544 L 290.808 427.68 L 292.248 419.544 L 293.544 423.936 L 294.264 404.496 L 295.56 404.28 L 296.784 423.288 L 298.008 407.664 L 299.52 409.536 L 301.392 404.496 L 302.688 399.744 L 304.56 400.752 L 305.784 398.232 L 307.656 391.32 L 308.592 381.96 L 309.816 387.576 L 311.04 368.784 L 313.344 377.568 L 315.864 366.912 L 316.872 378.216 L 318.096 370.008 L 318.96 373.824 L 320.256 372.528 L 321.48 376.272 L 322.56 374.4 L 322.56 374.4" clip-path="url(#p72ddb34a2a)" style="fill: none; stroke: #000000; stroke-width: 0.85; stroke-linecap: square"/>
   </g>
   <g id="line2d_151">
    <path d="M 60.48 432.288 L 101.016 432.144 L 104.688 431.064 L 108.864 427.32 L 113.112 418.896 L 117.288 408.384 L 120.96 400.536 L 124.704 395.784 L 127.296 395.784 L 129.96 399.96 L 134.136 408.384 L 136.8 415.296 L 139.392 419.544 L 141.912 422.568 L 144.504 423.792 L 147.024 423 L 150.408 420.408 L 153.864 417.024 L 157.248 411.912 L 160.632 405.504 L 164.088 398.232 L 167.472 391.032 L 170.856 383.76 L 172.944 377.352 L 173.448 378.72 L 173.736 403.2 L 174.024 432.432 L 176.04 432.432 L 176.328 403.2 L 176.76 365.04 L 178.2 356.4 L 180.432 353.088 L 182.88 350.28 L 184.32 358.56 L 184.608 374.4 L 184.896 432.432 L 187.128 432.432 L 187.488 381.6 L 188.424 343.152 L 189.288 329.904 L 190.944 327.672 L 193.68 326.016 L 196.992 324.36 L 199.44 325.512 L 202.536 332.136 L 205.776 339.84 L 208.224 346.536 L 210.672 354.816 L 212.328 369.648 L 213.192 391.176 L 213.984 402.696 L 215.64 382.896 L 217.296 386.208 L 219.744 396.144 L 222.264 409.32 L 223.92 422.568 L 224.712 430.848 L 225.504 432.576 L 229.032 432.576 L 230.04 424.8 L 231.048 420.768 L 234.072 422.784 L 238.032 424.8 L 242.064 426.6 L 246.096 427.968 L 251.064 429.264 L 256.104 429.984 L 266.112 430.992 L 276.192 431.352 L 288 431.568 L 322.56 432.072" clip-path="url(#p72ddb34a2a)" style="fill: none; stroke-dasharray: 4.9,2.1; stroke-dashoffset: 0; stroke: #ff00ff; stroke-width: 1.4"/>
   </g>
   <g id="line2d_152">
    <path d="M 187.776 268.056 L 187.776 280.8" clip-path="url(#p72ddb34a2a)" style="fill: none; stroke: #000000; stroke-width: 1.1"/>
   </g>
   <g id="line2d_153">
    <path d="M 213.768 268.056 L 213.768 280.8" clip-path="url(#p72ddb34a2a)" style="fill: none; stroke: #000000; stroke-width: 1.1"/>
   </g>
   <g id="patch_8">
    <path d="M 60.48 432.792 L 60.48 221.4" style="fill: none; stroke: #000000; stroke-width: 1.25; stroke-linejoin: miter; stroke-linecap: square"/>
   </g>
   <g id="patch_9">
    <path d="M 321.696 432.792 L 321.696 221.4" style="fill: none; stroke: #000000; stroke-width: 1.25; stroke-linejoin: miter; stroke-linecap: square"/>
   </g>
   <g id="patch_10">
    <path d="M 60.48 432.792 L 321.696 432.792" style="fill: none; stroke: #000000; stroke-width: 1.25; stroke-linejoin: miter; stroke-linecap: square"/>
   </g>
   <g id="patch_11">
    <path d="M 60.48 221.4 L 321.696 221.4" style="fill: none; stroke: #000000; stroke-width: 1.25; stroke-linejoin: miter; stroke-linecap: square"/>
   </g>
   <g id="text_25">
    <text style="font-size: 9.65px; font-family: 'DejaVu Sans', sans-serif; text-anchor: start" x="103.824" y="262.08" transform="rotate(-0 103.824 262.08)">Blue Si IV + O IV]</text>
   </g>
   <g id="text_26">
    <text style="font-size: 9.65px; font-family: 'DejaVu Sans', sans-serif; text-anchor: start" x="210.888" y="262.08" transform="rotate(-0 210.888 262.08)">BC Si IV</text>
   </g>
  </g>
  <g id="axes_3">
   <g id="patch_12">
    <path d="M 60.48 475.344 L 321.696 475.344 L 321.696 432.792 L 60.48 432.792 z" style="fill: #ffffff"/>
   </g>
   <g id="matplotlib.axis_5">
    <g id="xtick_55">
     <g id="line2d_154">
      <g>
       <path d="M 0 0 L 0 -5" transform="translate(143.897749 475.344)" style="stroke: #000000; stroke-width: 1.3"/>
      </g>
     </g>
     <g id="line2d_155">
      <g>
       <path d="M 0 0 L 0 5" transform="translate(143.897749 432.792)" style="stroke: #000000; stroke-width: 1.3"/>
      </g>
     </g>
     <g id="text_27">
      <text style="font-size: 11px; font-family: 'DejaVu Sans', sans-serif; text-anchor: middle" x="143.897749" y="486.502281" transform="rotate(-0 143.897749 486.502281)">−10000</text>
     </g>
    </g>
    <g id="xtick_56">
     <g id="line2d_156">
      <g>
       <path d="M 0 0 L 0 -5" transform="translate(199.256569 475.344)" style="stroke: #000000; stroke-width: 1.3"/>
      </g>
     </g>
     <g id="line2d_157">
      <g>
       <path d="M 0 0 L 0 5" transform="translate(199.256569 432.792)" style="stroke: #000000; stroke-width: 1.3"/>
      </g>
     </g>
     <g id="text_28">
      <text style="font-size: 11px; font-family: 'DejaVu Sans', sans-serif; text-anchor: middle" x="199.256569" y="486.502281" transform="rotate(-0 199.256569 486.502281)">0</text>
     </g>
    </g>
    <g id="xtick_57">
     <g id="line2d_158">
      <g>
       <path d="M 0 0 L 0 -5" transform="translate(254.61539 475.344)" style="stroke: #000000; stroke-width: 1.3"/>
      </g>
     </g>
     <g id="line2d_159">
      <g>
       <path d="M 0 0 L 0 5" transform="translate(254.61539 432.792)" style="stroke: #000000; stroke-width: 1.3"/>
      </g>
     </g>
     <g id="text_29">
      <text style="font-size: 11px; font-family: 'DejaVu Sans', sans-serif; text-anchor: middle" x="254.61539" y="486.502281" transform="rotate(-0 254.61539 486.502281)">10000</text>
     </g>
    </g>
    <g id="xtick_58">
     <g id="line2d_160">
      <g>
       <path d="M 0 0 L 0 -2.6" transform="translate(66.3954 475.344)" style="stroke: #000000; stroke-width: 1.3"/>
      </g>
     </g>
     <g id="line2d_161">
      <g>
       <path d="M 0 0 L 0 2.6" transform="translate(66.3954 432.792)" style="stroke: #000000; stroke-width: 1.3"/>
      </g>
     </g>
    </g>
    <g id="xtick_59">
     <g id="line2d_162">
      <g>
       <path d="M 0 0 L 0 -2.6" transform="translate(77.467164 475.344)" style="stroke: #000000; stroke-width: 1.3"/>
      </g>
     </g>
     <g id="line2d_163">
      <g>
       <path d="M 0 0 L 0 2.6" transform="translate(77.467164 432.792)" style="stroke: #000000; stroke-width: 1.3"/>
      </g>
     </g>
    </g>
    <g id="xtick_60">
     <g id="line2d_164">
      <g>
       <path d="M 0 0 L 0 -2.6" transform="translate(88.538928 475.344)" style="stroke: #000000; stroke-width: 1.3"/>
      </g>
     </g>
     <g id="line2d_165">
      <g>
       <path d="M 0 0 L 0 2.6" transform="translate(88.538928 432.792)" style="stroke: #000000; stroke-width: 1.3"/>
      </g>
     </g>
    </g>
    <g id="xtick_61">
     <g id="line2d_166">
      <g>
       <path d="M 0 0 L 0 -2.6" transform="translate(99.610693 475.344)" style="stroke: #000000; stroke-width: 1.3"/>
      </g>
     </g>
     <g id="line2d_167">
      <g>
       <path d="M 0 0 L 0 2.6" transform="translate(99.610693 432.792)" style="stroke: #000000; stroke-width: 1.3"/>
      </g>
     </g>
    </g>
    <g id="xtick_62">
     <g id="line2d_168">
      <g>
       <path d="M 0 0 L 0 -2.6" transform="translate(110.682457 475.344)" style="stroke: #000000; stroke-width: 1.3"/>
      </g>
     </g>
     <g id="line2d_169">
      <g>
       <path d="M 0 0 L 0 2.6" transform="translate(110.682457 432.792)" style="stroke: #000000; stroke-width: 1.3"/>
      </g>
     </g>
    </g>
    <g id="xtick_63">
     <g id="line2d_170">
      <g>
       <path d="M 0 0 L 0 -2.6" transform="translate(121.754221 475.344)" style="stroke: #000000; stroke-width: 1.3"/>
      </g>
     </g>
     <g id="line2d_171">
      <g>
       <path d="M 0 0 L 0 2.6" transform="translate(121.754221 432.792)" style="stroke: #000000; stroke-width: 1.3"/>
      </g>
     </g>
    </g>
    <g id="xtick_64">
     <g id="line2d_172">
      <g>
       <path d="M 0 0 L 0 -2.6" transform="translate(132.825985 475.344)" style="stroke: #000000; stroke-width: 1.3"/>
      </g>
     </g>
     <g id="line2d_173">
      <g>
       <path d="M 0 0 L 0 2.6" transform="translate(132.825985 432.792)" style="stroke: #000000; stroke-width: 1.3"/>
      </g>
     </g>
    </g>
    <g id="xtick_65">
     <g id="line2d_174">
      <g>
       <path d="M 0 0 L 0 -2.6" transform="translate(154.969513 475.344)" style="stroke: #000000; stroke-width: 1.3"/>
      </g>
     </g>
     <g id="line2d_175">
      <g>
       <path d="M 0 0 L 0 2.6" transform="translate(154.969513 432.792)" style="stroke: #000000; stroke-width: 1.3"/>
      </g>
     </g>
    </g>
    <g id="xtick_66">
     <g id="line2d_176">
      <g>
       <path d="M 0 0 L 0 -2.6" transform="translate(166.041277 475.344)" style="stroke: #000000; stroke-width: 1.3"/>
      </g>
     </g>
     <g id="line2d_177">
      <g>
       <path d="M 0 0 L 0 2.6" transform="translate(166.041277 432.792)" style="stroke: #000000; stroke-width: 1.3"/>
      </g>
     </g>
    </g>
    <g id="xtick_67">
     <g id="line2d_178">
      <g>
       <path d="M 0 0 L 0 -2.6" transform="translate(177.113041 475.344)" style="stroke: #000000; stroke-width: 1.3"/>
      </g>
     </g>
     <g id="line2d_179">
      <g>
       <path d="M 0 0 L 0 2.6" transform="translate(177.113041 432.792)" style="stroke: #000000; stroke-width: 1.3"/>
      </g>
     </g>
    </g>
    <g id="xtick_68">
     <g id="line2d_180">
      <g>
       <path d="M 0 0 L 0 -2.6" transform="translate(188.184805 475.344)" style="stroke: #000000; stroke-width: 1.3"/>
      </g>
     </g>
     <g id="line2d_181">
      <g>
       <path d="M 0 0 L 0 2.6" transform="translate(188.184805 432.792)" style="stroke: #000000; stroke-width: 1.3"/>
      </g>
     </g>
    </g>
    <g id="xtick_69">
     <g id="line2d_182">
      <g>
       <path d="M 0 0 L 0 -2.6" transform="translate(210.328334 475.344)" style="stroke: #000000; stroke-width: 1.3"/>
      </g>
     </g>
     <g id="line2d_183">
      <g>
       <path d="M 0 0 L 0 2.6" transform="translate(210.328334 432.792)" style="stroke: #000000; stroke-width: 1.3"/>
      </g>
     </g>
    </g>
    <g id="xtick_70">
     <g id="line2d_184">
      <g>
       <path d="M 0 0 L 0 -2.6" transform="translate(221.400098 475.344)" style="stroke: #000000; stroke-width: 1.3"/>
      </g>
     </g>
     <g id="line2d_185">
      <g>
       <path d="M 0 0 L 0 2.6" transform="translate(221.400098 432.792)" style="stroke: #000000; stroke-width: 1.3"/>
      </g>
     </g>
    </g>
    <g id="xtick_71">
     <g id="line2d_186">
      <g>
       <path d="M 0 0 L 0 -2.6" transform="translate(232.471862 475.344)" style="stroke: #000000; stroke-width: 1.3"/>
      </g>
     </g>
     <g id="line2d_187">
      <g>
       <path d="M 0 0 L 0 2.6" transform="translate(232.471862 432.792)" style="stroke: #000000; stroke-width: 1.3"/>
      </g>
     </g>
    </g>
    <g id="xtick_72">
     <g id="line2d_188">
      <g>
       <path d="M 0 0 L 0 -2.6" transform="translate(243.543626 475.344)" style="stroke: #000000; stroke-width: 1.3"/>
      </g>
     </g>
     <g id="line2d_189">
      <g>
       <path d="M 0 0 L 0 2.6" transform="translate(243.543626 432.792)" style="stroke: #000000; stroke-width: 1.3"/>
      </g>
     </g>
    </g>
    <g id="xtick_73">
     <g id="line2d_190">
      <g>
       <path d="M 0 0 L 0 -2.6" transform="translate(265.687154 475.344)" style="stroke: #000000; stroke-width: 1.3"/>
      </g>
     </g>
     <g id="line2d_191">
      <g>
       <path d="M 0 0 L 0 2.6" transform="translate(265.687154 432.792)" style="stroke: #000000; stroke-width: 1.3"/>
      </g>
     </g>
    </g>
    <g id="xtick_74">
     <g id="line2d_192">
      <g>
       <path d="M 0 0 L 0 -2.6" transform="translate(276.758918 475.344)" style="stroke: #000000; stroke-width: 1.3"/>
      </g>
     </g>
     <g id="line2d_193">
      <g>
       <path d="M 0 0 L 0 2.6" transform="translate(276.758918 432.792)" style="stroke: #000000; stroke-width: 1.3"/>
      </g>
     </g>
    </g>
    <g id="xtick_75">
     <g id="line2d_194">
      <g>
       <path d="M 0 0 L 0 -2.6" transform="translate(287.830682 475.344)" style="stroke: #000000; stroke-width: 1.3"/>
      </g>
     </g>
     <g id="line2d_195">
      <g>
       <path d="M 0 0 L 0 2.6" transform="translate(287.830682 432.792)" style="stroke: #000000; stroke-width: 1.3"/>
      </g>
     </g>
    </g>
    <g id="xtick_76">
     <g id="line2d_196">
      <g>
       <path d="M 0 0 L 0 -2.6" transform="translate(298.902446 475.344)" style="stroke: #000000; stroke-width: 1.3"/>
      </g>
     </g>
     <g id="line2d_197">
      <g>
       <path d="M 0 0 L 0 2.6" transform="translate(298.902446 432.792)" style="stroke: #000000; stroke-width: 1.3"/>
      </g>
     </g>
    </g>
    <g id="xtick_77">
     <g id="line2d_198">
      <g>
       <path d="M 0 0 L 0 -2.6" transform="translate(309.97421 475.344)" style="stroke: #000000; stroke-width: 1.3"/>
      </g>
     </g>
     <g id="line2d_199">
      <g>
       <path d="M 0 0 L 0 2.6" transform="translate(309.97421 432.792)" style="stroke: #000000; stroke-width: 1.3"/>
      </g>
     </g>
    </g>
    <g id="xtick_78">
     <g id="line2d_200">
      <g>
       <path d="M 0 0 L 0 -2.6" transform="translate(321.045975 475.344)" style="stroke: #000000; stroke-width: 1.3"/>
      </g>
     </g>
     <g id="line2d_201">
      <g>
       <path d="M 0 0 L 0 2.6" transform="translate(321.045975 432.792)" style="stroke: #000000; stroke-width: 1.3"/>
      </g>
     </g>
    </g>
    <g id="text_30">
     
     <g transform="translate(158.774 501.213672)">
      <text><tspan x="0" y="-0.178125" style="font-size: 10.7px; font-family: 'DejaVu Sans', sans-serif">Δ </tspan><tspan x="9.09922" y="-0.178125" style="font-style: oblique; font-size: 10.7px; font-family: 'DejaVu Sans', sans-serif">v</tspan><tspan x="15.461" y="1.62656" style="font-style: oblique; font-size: 7.49px; font-family: 'DejaVu Sans', sans-serif">r </tspan><tspan x="20.6009" y="-0.178125" style="font-size: 10.7px; font-family: 'DejaVu Sans', sans-serif">[</tspan><tspan x="24.7949" y="-0.178125" style="font-style: oblique; font-size: 10.7px; font-family: 'DejaVu Sans', sans-serif">km </tspan><tspan x="43.2374" y="-0.178125" style="font-style: oblique; font-size: 10.7px; font-family: 'DejaVu Sans', sans-serif">s</tspan><tspan x="49.349" y="-4.38906" style="font-size: 7.49px; font-family: 'DejaVu Sans', sans-serif">−1</tspan><tspan x="60.7426" y="-0.178125" style="font-size: 10.7px; font-family: 'DejaVu Sans', sans-serif">]</tspan></text>
     </g>
    </g>
   </g>
   <g id="matplotlib.axis_6">
    <g id="ytick_48">
     <g id="line2d_202">
      <g>
       <path d="M 0 0 L 5 0" transform="translate(60.48 471.0888)" style="stroke: #000000; stroke-width: 1.3"/>
      </g>
     </g>
     <g id="line2d_203">
      <g>
       <path d="M 0 0 L -5 0" transform="translate(321.696 471.0888)" style="stroke: #000000; stroke-width: 1.3"/>
      </g>
     </g>
     <g id="text_31">
      <text style="font-size: 11px; font-family: 'DejaVu Sans', sans-serif; text-anchor: end" x="57.98" y="475.267941" transform="rotate(-0 57.98 475.267941)">−0.12</text>
     </g>
    </g>
    <g id="ytick_49">
     <g id="line2d_204">
      <g>
       <path d="M 0 0 L 5 0" transform="translate(60.48 454.068)" style="stroke: #000000; stroke-width: 1.3"/>
      </g>
     </g>
     <g id="line2d_205">
      <g>
       <path d="M 0 0 L -5 0" transform="translate(321.696 454.068)" style="stroke: #000000; stroke-width: 1.3"/>
      </g>
     </g>
     <g id="text_32">
      <text style="font-size: 11px; font-family: 'DejaVu Sans', sans-serif; text-anchor: end" x="57.98" y="458.247141" transform="rotate(-0 57.98 458.247141)">0.00</text>
     </g>
    </g>
    <g id="ytick_50">
     <g id="line2d_206">
      <g>
       <path d="M 0 0 L 5 0" transform="translate(60.48 437.0472)" style="stroke: #000000; stroke-width: 1.3"/>
      </g>
     </g>
     <g id="line2d_207">
      <g>
       <path d="M 0 0 L -5 0" transform="translate(321.696 437.0472)" style="stroke: #000000; stroke-width: 1.3"/>
      </g>
     </g>
     <g id="text_33">
      <text style="font-size: 11px; font-family: 'DejaVu Sans', sans-serif; text-anchor: end" x="57.98" y="441.226341" transform="rotate(-0 57.98 441.226341)">0.12</text>
     </g>
    </g>
    <g id="ytick_51">
     <g id="line2d_208">
      <g>
       <path d="M 0 0 L 2.6 0" transform="translate(60.48 475.344)" style="stroke: #000000; stroke-width: 1.3"/>
      </g>
     </g>
     <g id="line2d_209">
      <g>
       <path d="M 0 0 L -2.6 0" transform="translate(321.696 475.344)" style="stroke: #000000; stroke-width: 1.3"/>
      </g>
     </g>
    </g>
    <g id="ytick_52">
     <g id="line2d_210">
      <g>
       <path d="M 0 0 L 2.6 0" transform="translate(60.48 466.8336)" style="stroke: #000000; stroke-width: 1.3"/>
      </g>
     </g>
     <g id="line2d_211">
      <g>
       <path d="M 0 0 L -2.6 0" transform="translate(321.696 466.8336)" style="stroke: #000000; stroke-width: 1.3"/>
      </g>
     </g>
    </g>
    <g id="ytick_53">
     <g id="line2d_212">
      <g>
       <path d="M 0 0 L 2.6 0" transform="translate(60.48 462.5784)" style="stroke: #000000; stroke-width: 1.3"/>
      </g>
     </g>
     <g id="line2d_213">
      <g>
       <path d="M 0 0 L -2.6 0" transform="translate(321.696 462.5784)" style="stroke: #000000; stroke-width: 1.3"/>
      </g>
     </g>
    </g>
    <g id="ytick_54">
     <g id="line2d_214">
      <g>
       <path d="M 0 0 L 2.6 0" transform="translate(60.48 458.3232)" style="stroke: #000000; stroke-width: 1.3"/>
      </g>
     </g>
     <g id="line2d_215">
      <g>
       <path d="M 0 0 L -2.6 0" transform="translate(321.696 458.3232)" style="stroke: #000000; stroke-width: 1.3"/>
      </g>
     </g>
    </g>
    <g id="ytick_55">
     <g id="line2d_216">
      <g>
       <path d="M 0 0 L 2.6 0" transform="translate(60.48 449.8128)" style="stroke: #000000; stroke-width: 1.3"/>
      </g>
     </g>
     <g id="line2d_217">
      <g>
       <path d="M 0 0 L -2.6 0" transform="translate(321.696 449.8128)" style="stroke: #000000; stroke-width: 1.3"/>
      </g>
     </g>
    </g>
    <g id="ytick_56">
     <g id="line2d_218">
      <g>
       <path d="M 0 0 L 2.6 0" transform="translate(60.48 445.5576)" style="stroke: #000000; stroke-width: 1.3"/>
      </g>
     </g>
     <g id="line2d_219">
      <g>
       <path d="M 0 0 L -2.6 0" transform="translate(321.696 445.5576)" style="stroke: #000000; stroke-width: 1.3"/>
      </g>
     </g>
    </g>
    <g id="ytick_57">
     <g id="line2d_220">
      <g>
       <path d="M 0 0 L 2.6 0" transform="translate(60.48 441.3024)" style="stroke: #000000; stroke-width: 1.3"/>
      </g>
     </g>
     <g id="line2d_221">
      <g>
       <path d="M 0 0 L -2.6 0" transform="translate(321.696 441.3024)" style="stroke: #000000; stroke-width: 1.3"/>
      </g>
     </g>
    </g>
    <g id="ytick_58">
     <g id="line2d_222">
      <g>
       <path d="M 0 0 L 2.6 0" transform="translate(60.48 432.792)" style="stroke: #000000; stroke-width: 1.3"/>
      </g>
     </g>
     <g id="line2d_223">
      <g>
       <path d="M 0 0 L -2.6 0" transform="translate(321.696 432.792)" style="stroke: #000000; stroke-width: 1.3"/>
      </g>
     </g>
    </g>
   </g>
   <g id="line2d_224">
    <path d="M 199.256569 475.344 L 199.256569 432.792" clip-path="url(#pa6996b7261)" style="fill: none; stroke-dasharray: 4.18,2.145; stroke-dashoffset: 0; stroke: #000000; stroke-width: 1.1"/>
   </g>
   <g id="line2d_225">
    <path d="M 60.48 454.068 L 321.696 454.068" clip-path="url(#pa6996b7261)" style="fill: none; stroke-dasharray: 4.18,2.145; stroke-dashoffset: 0; stroke: #000000; stroke-width: 1.1"/>
   </g>
   <g id="line2d_226">
    <path d="M 60.48 450.072 L 61.92 450.432 L 63.72 451.512 L 64.8 455.112 L 65.52 464.472 L 66.096 475.344 L 66.6 480.96 L 70.92 480.96 L 71.28 475.344 L 72.072 452.232 L 73.152 451.152 L 74.232 450.432 L 74.952 448.992 L 75.816 445.752 L 76.968 450.072 L 78.192 446.832 L 79.416 447.912 L 80.568 448.632 L 81.792 446.832 L 83.016 446.472 L 84.312 447.192 L 86.112 445.392 L 87.552 443.592 L 88.992 443.448 L 90.072 441 L 91.368 448.992 L 92.376 451.512 L 93.744 443.232 L 95.04 446.832 L 96.048 447.552 L 96.984 452.592 L 98.208 448.272 L 100.584 453.672 L 101.664 456.912 L 102.384 464.472 L 103.104 475.344 L 103.68 480.96 L 106.92 480.96 L 107.424 475.344 L 107.784 460.872 L 108.72 451.872 L 109.584 451.512 L 111.6 457.272 L 112.464 455.112 L 113.904 452.952 L 116.28 455.472 L 117.576 453.312 L 121.032 449.712 L 122.04 452.952 L 123.192 451.872 L 124.416 457.632 L 125.496 454.392 L 128.016 454.032 L 129.096 458.352 L 130.392 452.592 L 131.616 455.112 L 132.696 459.792 L 134.136 450.432 L 135.216 455.112 L 136.728 453.312 L 138.888 451.152 L 140.688 453.312 L 142.128 451.152 L 143.568 449.712 L 144.648 457.272 L 145.728 454.032 L 147.96 457.632 L 149.76 456.912 L 151.92 457.272 L 153 455.832 L 154.08 464.472 L 155.232 470.304 L 156.168 455.112 L 157.608 463.752 L 158.472 454.392 L 159.552 453.672 L 161.352 453.312 L 162.792 453.672 L 164.592 455.112 L 166.032 451.512 L 167.472 452.952 L 169.272 453.672 L 171.432 453.672 L 172.872 455.832 L 174.312 457.272 L 175.176 452.232 L 176.112 457.272 L 177.12 453.312 L 178.344 452.232 L 180.144 451.512 L 181.584 450.792 L 183.024 449.712 L 184.104 452.952 L 185.184 455.112 L 187.56 443.952 L 188.424 457.272 L 189.504 453.672 L 190.944 449.352 L 192.024 456.552 L 193.104 459.432 L 194.544 455.112 L 195.984 455.112 L 197.28 451.512 L 198.504 450.432 L 199.656 453.672 L 201.456 454.032 L 202.896 457.992 L 203.976 453.672 L 206.136 458.712 L 207.216 455.112 L 208.656 455.832 L 210.096 459.072 L 212.472 450.648 L 213.696 453.672 L 215.496 457.272 L 216.936 456.552 L 218.376 454.392 L 220.608 457.632 L 222.408 456.912 L 224.208 452.952 L 226.368 452.952 L 228.528 453.672 L 230.4 452.448 L 232.344 450.864 L 233.856 452.808 L 236.16 454.32 L 238.104 457.416 L 239.616 452.448 L 240.768 455.112 L 241.992 454.32 L 243.504 458.208 L 245.448 456.264 L 247.32 459 L 248.904 457.416 L 250.848 454.32 L 252.72 455.112 L 253.872 455.472 L 255.024 452.664 L 256.968 453.6 L 261.216 454.32 L 262.368 456.624 L 263.664 475.2 L 264.24 480.96 L 265.32 468 L 265.824 458.208 L 266.832 480.96 L 268.2 480.96 L 269.28 451.656 L 270.864 452.808 L 272.592 456.624 L 273.96 453.6 L 275.472 455.112 L 276.984 453.6 L 278.568 452.448 L 280.08 448.56 L 282.024 450.864 L 283.536 450.144 L 285.12 450.504 L 286.632 449.136 L 288.216 448.2 L 289.368 450.864 L 290.88 453.168 L 292.464 451.656 L 293.976 447.048 L 295.272 446.616 L 296.64 451.656 L 297.792 447.768 L 299.376 447.768 L 300.888 446.256 L 302.832 445.104 L 304.776 445.896 L 306.72 443.952 L 308.592 440.496 L 309.744 441.648 L 310.896 437.04 L 313.2 438.912 L 315.576 435.888 L 316.728 438.912 L 317.88 437.4 L 320.184 437.76 L 321.336 438.192 L 322.56 437.76 L 322.56 437.76" clip-path="url(#pa6996b7261)" style="fill: none; stroke: #000000; stroke-width: 0.85; stroke-linecap: square"/>
   </g>
   <g id="patch_13">
    <path d="M 60.48 475.344 L 60.48 432.792" style="fill: none; stroke: #000000; stroke-width: 1.25; stroke-linejoin: miter; stroke-linecap: square"/>
   </g>
   <g id="patch_14">
    <path d="M 321.696 475.344 L 321.696 432.792" style="fill: none; stroke: #000000; stroke-width: 1.25; stroke-linejoin: miter; stroke-linecap: square"/>
   </g>
   <g id="patch_15">
    <path d="M 60.48 475.344 L 321.696 475.344" style="fill: none; stroke: #000000; stroke-width: 1.25; stroke-linejoin: miter; stroke-linecap: square"/>
   </g>
   <g id="patch_16">
    <path d="M 60.48 432.792 L 321.696 432.792" style="fill: none; stroke: #000000; stroke-width: 1.25; stroke-linejoin: miter; stroke-linecap: square"/>
   </g>
  </g>
  <g id="axes_4">
   <g id="matplotlib.axis_7">
    <g id="xtick_79">
     <g id="line2d_227">
      <g>
       <path d="M 0 0 L 0 5" transform="translate(84.243111 221.4)" style="stroke: #000000; stroke-width: 1.3"/>
      </g>
     </g>
     <g id="text_34">
      <text style="font-size: 11px; font-family: 'DejaVu Sans', sans-serif; text-anchor: middle" x="84.243111" y="217.512344" transform="rotate(-0 84.243111 217.512344)">1300</text>
     </g>
    </g>
    <g id="xtick_80">
     <g id="line2d_228">
      <g>
       <path d="M 0 0 L 0 5" transform="translate(143.650889 221.4)" style="stroke: #000000; stroke-width: 1.3"/>
      </g>
     </g>
     <g id="text_35">
      <text style="font-size: 11px; font-family: 'DejaVu Sans', sans-serif; text-anchor: middle" x="143.650889" y="217.512344" transform="rotate(-0 143.650889 217.512344)">1350</text>
     </g>
    </g>
    <g id="xtick_81">
     <g id="line2d_229">
      <g>
       <path d="M 0 0 L 0 5" transform="translate(203.058667 221.4)" style="stroke: #000000; stroke-width: 1.3"/>
      </g>
     </g>
     <g id="text_36">
      <text style="font-size: 11px; font-family: 'DejaVu Sans', sans-serif; text-anchor: middle" x="203.058667" y="217.512344" transform="rotate(-0 203.058667 217.512344)">1400</text>
     </g>
    </g>
    <g id="xtick_82">
     <g id="line2d_230">
      <g>
       <path d="M 0 0 L 0 5" transform="translate(262.466445 221.4)" style="stroke: #000000; stroke-width: 1.3"/>
      </g>
     </g>
     <g id="text_37">
      <text style="font-size: 11px; font-family: 'DejaVu Sans', sans-serif; text-anchor: middle" x="262.466445" y="217.512344" transform="rotate(-0 262.466445 217.512344)">1450</text>
     </g>
    </g>
    <g id="xtick_83">
     <g id="line2d_231">
      <g>
       <path d="M 0 0 L 0 2.6" transform="translate(60.48 221.4)" style="stroke: #000000; stroke-width: 1.3"/>
      </g>
     </g>
    </g>
    <g id="xtick_84">
     <g id="line2d_232">
      <g>
       <path d="M 0 0 L 0 2.6" transform="translate(72.361556 221.4)" style="stroke: #000000; stroke-width: 1.3"/>
      </g>
     </g>
    </g>
    <g id="xtick_85">
     <g id="line2d_233">
      <g>
       <path d="M 0 0 L 0 2.6" transform="translate(96.124667 221.4)" style="stroke: #000000; stroke-width: 1.3"/>
      </g>
     </g>
    </g>
    <g id="xtick_86">
     <g id="line2d_234">
      <g>
       <path d="M 0 0 L 0 2.6" transform="translate(108.006222 221.4)" style="stroke: #000000; stroke-width: 1.3"/>
      </g>
     </g>
    </g>
    <g id="xtick_87">
     <g id="line2d_235">
      <g>
       <path d="M 0 0 L 0 2.6" transform="translate(119.887778 221.4)" style="stroke: #000000; stroke-width: 1.3"/>
      </g>
     </g>
    </g>
    <g id="xtick_88">
     <g id="line2d_236">
      <g>
       <path d="M 0 0 L 0 2.6" transform="translate(131.769334 221.4)" style="stroke: #000000; stroke-width: 1.3"/>
      </g>
     </g>
    </g>
    <g id="xtick_89">
     <g id="line2d_237">
      <g>
       <path d="M 0 0 L 0 2.6" transform="translate(155.532445 221.4)" style="stroke: #000000; stroke-width: 1.3"/>
      </g>
     </g>
    </g>
    <g id="xtick_90">
     <g id="line2d_238">
      <g>
       <path d="M 0 0 L 0 2.6" transform="translate(167.414 221.4)" style="stroke: #000000; stroke-width: 1.3"/>
      </g>
     </g>
    </g>
    <g id="xtick_91">
     <g id="line2d_239">
      <g>
       <path d="M 0 0 L 0 2.6" transform="translate(179.295556 221.4)" style="stroke: #000000; stroke-width: 1.3"/>
      </g>
     </g>
    </g>
    <g id="xtick_92">
     <g id="line2d_240">
      <g>
       <path d="M 0 0 L 0 2.6" transform="translate(191.177112 221.4)" style="stroke: #000000; stroke-width: 1.3"/>
      </g>
     </g>
    </g>
    <g id="xtick_93">
     <g id="line2d_241">
      <g>
       <path d="M 0 0 L 0 2.6" transform="translate(214.940223 221.4)" style="stroke: #000000; stroke-width: 1.3"/>
      </g>
     </g>
    </g>
    <g id="xtick_94">
     <g id="line2d_242">
      <g>
       <path d="M 0 0 L 0 2.6" transform="translate(226.821778 221.4)" style="stroke: #000000; stroke-width: 1.3"/>
      </g>
     </g>
    </g>
    <g id="xtick_95">
     <g id="line2d_243">
      <g>
       <path d="M 0 0 L 0 2.6" transform="translate(238.703334 221.4)" style="stroke: #000000; stroke-width: 1.3"/>
      </g>
     </g>
    </g>
    <g id="xtick_96">
     <g id="line2d_244">
      <g>
       <path d="M 0 0 L 0 2.6" transform="translate(250.58489 221.4)" style="stroke: #000000; stroke-width: 1.3"/>
      </g>
     </g>
    </g>
    <g id="xtick_97">
     <g id="line2d_245">
      <g>
       <path d="M 0 0 L 0 2.6" transform="translate(274.348001 221.4)" style="stroke: #000000; stroke-width: 1.3"/>
      </g>
     </g>
    </g>
    <g id="xtick_98">
     <g id="line2d_246">
      <g>
       <path d="M 0 0 L 0 2.6" transform="translate(286.229557 221.4)" style="stroke: #000000; stroke-width: 1.3"/>
      </g>
     </g>
    </g>
    <g id="xtick_99">
     <g id="line2d_247">
      <g>
       <path d="M 0 0 L 0 2.6" transform="translate(298.111112 221.4)" style="stroke: #000000; stroke-width: 1.3"/>
      </g>
     </g>
    </g>
    <g id="xtick_100">
     <g id="line2d_248">
      <g>
       <path d="M 0 0 L 0 2.6" transform="translate(309.992668 221.4)" style="stroke: #000000; stroke-width: 1.3"/>
      </g>
     </g>
    </g>
   </g>
   <g id="patch_17">
    <path d="M 60.48 432.792 L 60.48 221.4" style="fill: none; stroke: #000000; stroke-width: 1.25; stroke-linejoin: miter; stroke-linecap: square"/>
   </g>
   <g id="patch_18">
    <path d="M 321.696 432.792 L 321.696 221.4" style="fill: none; stroke: #000000; stroke-width: 1.25; stroke-linejoin: miter; stroke-linecap: square"/>
   </g>
   <g id="patch_19">
    <path d="M 60.48 432.792 L 321.696 432.792" style="fill: none; stroke: #000000; stroke-width: 1.25; stroke-linejoin: miter; stroke-linecap: square"/>
   </g>
   <g id="patch_20">
    <path d="M 60.48 221.4 L 321.696 221.4" style="fill: none; stroke: #000000; stroke-width: 1.25; stroke-linejoin: miter; stroke-linecap: square"/>
   </g>
  </g>
  <g id="axes_5">
   <g id="patch_21">
    <path d="M 321.696 432.792 L 582.336 432.792 L 582.336 221.4 L 321.696 221.4 z" style="fill: #ffffff"/>
   </g>
   <g id="matplotlib.axis_8">
    <g id="xtick_101"/>
    <g id="xtick_102"/>
    <g id="xtick_103"/>
    <g id="xtick_104"/>
    <g id="xtick_105"/>
   </g>
   <g id="matplotlib.axis_9">
    <g id="ytick_59">
     <g id="line2d_249">
      <g>
       <path d="M 0 0 L 5 0" transform="translate(321.696 408.094318)" style="stroke: #000000; stroke-width: 1.3"/>
      </g>
     </g>
     <g id="line2d_250">
      <g>
       <path d="M 0 0 L -5 0" transform="translate(582.336 408.094318)" style="stroke: #000000; stroke-width: 1.3"/>
      </g>
     </g>
    </g>
    <g id="ytick_60">
     <g id="line2d_251">
      <g>
       <path d="M 0 0 L 5 0" transform="translate(321.696 382.892601)" style="stroke: #000000; stroke-width: 1.3"/>
      </g>
     </g>
     <g id="line2d_252">
      <g>
       <path d="M 0 0 L -5 0" transform="translate(582.336 382.892601)" style="stroke: #000000; stroke-width: 1.3"/>
      </g>
     </g>
    </g>
    <g id="ytick_61">
     <g id="line2d_253">
      <g>
       <path d="M 0 0 L 5 0" transform="translate(321.696 357.690884)" style="stroke: #000000; stroke-width: 1.3"/>
      </g>
     </g>
     <g id="line2d_254">
      <g>
       <path d="M 0 0 L -5 0" transform="translate(582.336 357.690884)" style="stroke: #000000; stroke-width: 1.3"/>
      </g>
     </g>
    </g>
    <g id="ytick_62">
     <g id="line2d_255">
      <g>
       <path d="M 0 0 L 5 0" transform="translate(321.696 332.489167)" style="stroke: #000000; stroke-width: 1.3"/>
      </g>
     </g>
     <g id="line2d_256">
      <g>
       <path d="M 0 0 L -5 0" transform="translate(582.336 332.489167)" style="stroke: #000000; stroke-width: 1.3"/>
      </g>
     </g>
    </g>
    <g id="ytick_63">
     <g id="line2d_257">
      <g>
       <path d="M 0 0 L 5 0" transform="translate(321.696 307.287451)" style="stroke: #000000; stroke-width: 1.3"/>
      </g>
     </g>
     <g id="line2d_258">
      <g>
       <path d="M 0 0 L -5 0" transform="translate(582.336 307.287451)" style="stroke: #000000; stroke-width: 1.3"/>
      </g>
     </g>
    </g>
    <g id="ytick_64">
     <g id="line2d_259">
      <g>
       <path d="M 0 0 L 5 0" transform="translate(321.696 282.085734)" style="stroke: #000000; stroke-width: 1.3"/>
      </g>
     </g>
     <g id="line2d_260">
      <g>
       <path d="M 0 0 L -5 0" transform="translate(582.336 282.085734)" style="stroke: #000000; stroke-width: 1.3"/>
      </g>
     </g>
    </g>
    <g id="ytick_65">
     <g id="line2d_261">
      <g>
       <path d="M 0 0 L 5 0" transform="translate(321.696 256.884017)" style="stroke: #000000; stroke-width: 1.3"/>
      </g>
     </g>
     <g id="line2d_262">
      <g>
       <path d="M 0 0 L -5 0" transform="translate(582.336 256.884017)" style="stroke: #000000; stroke-width: 1.3"/>
      </g>
     </g>
    </g>
    <g id="ytick_66">
     <g id="line2d_263">
      <g>
       <path d="M 0 0 L 5 0" transform="translate(321.696 231.6823)" style="stroke: #000000; stroke-width: 1.3"/>
      </g>
     </g>
     <g id="line2d_264">
      <g>
       <path d="M 0 0 L -5 0" transform="translate(582.336 231.6823)" style="stroke: #000000; stroke-width: 1.3"/>
      </g>
     </g>
    </g>
    <g id="ytick_67">
     <g id="line2d_265">
      <g>
       <path d="M 0 0 L 2.6 0" transform="translate(321.696 428.255691)" style="stroke: #000000; stroke-width: 1.3"/>
      </g>
     </g>
     <g id="line2d_266">
      <g>
       <path d="M 0 0 L -2.6 0" transform="translate(582.336 428.255691)" style="stroke: #000000; stroke-width: 1.3"/>
      </g>
     </g>
    </g>
    <g id="ytick_68">
     <g id="line2d_267">
      <g>
       <path d="M 0 0 L 2.6 0" transform="translate(321.696 423.215348)" style="stroke: #000000; stroke-width: 1.3"/>
      </g>
     </g>
     <g id="line2d_268">
      <g>
       <path d="M 0 0 L -2.6 0" transform="translate(582.336 423.215348)" style="stroke: #000000; stroke-width: 1.3"/>
      </g>
     </g>
    </g>
    <g id="ytick_69">
     <g id="line2d_269">
      <g>
       <path d="M 0 0 L 2.6 0" transform="translate(321.696 418.175004)" style="stroke: #000000; stroke-width: 1.3"/>
      </g>
     </g>
     <g id="line2d_270">
      <g>
       <path d="M 0 0 L -2.6 0" transform="translate(582.336 418.175004)" style="stroke: #000000; stroke-width: 1.3"/>
      </g>
     </g>
    </g>
    <g id="ytick_70">
     <g id="line2d_271">
      <g>
       <path d="M 0 0 L 2.6 0" transform="translate(321.696 413.134661)" style="stroke: #000000; stroke-width: 1.3"/>
      </g>
     </g>
     <g id="line2d_272">
      <g>
       <path d="M 0 0 L -2.6 0" transform="translate(582.336 413.134661)" style="stroke: #000000; stroke-width: 1.3"/>
      </g>
     </g>
    </g>
    <g id="ytick_71">
     <g id="line2d_273">
      <g>
       <path d="M 0 0 L 2.6 0" transform="translate(321.696 403.053974)" style="stroke: #000000; stroke-width: 1.3"/>
      </g>
     </g>
     <g id="line2d_274">
      <g>
       <path d="M 0 0 L -2.6 0" transform="translate(582.336 403.053974)" style="stroke: #000000; stroke-width: 1.3"/>
      </g>
     </g>
    </g>
    <g id="ytick_72">
     <g id="line2d_275">
      <g>
       <path d="M 0 0 L 2.6 0" transform="translate(321.696 398.013631)" style="stroke: #000000; stroke-width: 1.3"/>
      </g>
     </g>
     <g id="line2d_276">
      <g>
       <path d="M 0 0 L -2.6 0" transform="translate(582.336 398.013631)" style="stroke: #000000; stroke-width: 1.3"/>
      </g>
     </g>
    </g>
    <g id="ytick_73">
     <g id="line2d_277">
      <g>
       <path d="M 0 0 L 2.6 0" transform="translate(321.696 392.973288)" style="stroke: #000000; stroke-width: 1.3"/>
      </g>
     </g>
     <g id="line2d_278">
      <g>
       <path d="M 0 0 L -2.6 0" transform="translate(582.336 392.973288)" style="stroke: #000000; stroke-width: 1.3"/>
      </g>
     </g>
    </g>
    <g id="ytick_74">
     <g id="line2d_279">
      <g>
       <path d="M 0 0 L 2.6 0" transform="translate(321.696 387.932944)" style="stroke: #000000; stroke-width: 1.3"/>
      </g>
     </g>
     <g id="line2d_280">
      <g>
       <path d="M 0 0 L -2.6 0" transform="translate(582.336 387.932944)" style="stroke: #000000; stroke-width: 1.3"/>
      </g>
     </g>
    </g>
    <g id="ytick_75">
     <g id="line2d_281">
      <g>
       <path d="M 0 0 L 2.6 0" transform="translate(321.696 377.852258)" style="stroke: #000000; stroke-width: 1.3"/>
      </g>
     </g>
     <g id="line2d_282">
      <g>
       <path d="M 0 0 L -2.6 0" transform="translate(582.336 377.852258)" style="stroke: #000000; stroke-width: 1.3"/>
      </g>
     </g>
    </g>
    <g id="ytick_76">
     <g id="line2d_283">
      <g>
       <path d="M 0 0 L 2.6 0" transform="translate(321.696 372.811914)" style="stroke: #000000; stroke-width: 1.3"/>
      </g>
     </g>
     <g id="line2d_284">
      <g>
       <path d="M 0 0 L -2.6 0" transform="translate(582.336 372.811914)" style="stroke: #000000; stroke-width: 1.3"/>
      </g>
     </g>
    </g>
    <g id="ytick_77">
     <g id="line2d_285">
      <g>
       <path d="M 0 0 L 2.6 0" transform="translate(321.696 367.771571)" style="stroke: #000000; stroke-width: 1.3"/>
      </g>
     </g>
     <g id="line2d_286">
      <g>
       <path d="M 0 0 L -2.6 0" transform="translate(582.336 367.771571)" style="stroke: #000000; stroke-width: 1.3"/>
      </g>
     </g>
    </g>
    <g id="ytick_78">
     <g id="line2d_287">
      <g>
       <path d="M 0 0 L 2.6 0" transform="translate(321.696 362.731227)" style="stroke: #000000; stroke-width: 1.3"/>
      </g>
     </g>
     <g id="line2d_288">
      <g>
       <path d="M 0 0 L -2.6 0" transform="translate(582.336 362.731227)" style="stroke: #000000; stroke-width: 1.3"/>
      </g>
     </g>
    </g>
    <g id="ytick_79">
     <g id="line2d_289">
      <g>
       <path d="M 0 0 L 2.6 0" transform="translate(321.696 352.650541)" style="stroke: #000000; stroke-width: 1.3"/>
      </g>
     </g>
     <g id="line2d_290">
      <g>
       <path d="M 0 0 L -2.6 0" transform="translate(582.336 352.650541)" style="stroke: #000000; stroke-width: 1.3"/>
      </g>
     </g>
    </g>
    <g id="ytick_80">
     <g id="line2d_291">
      <g>
       <path d="M 0 0 L 2.6 0" transform="translate(321.696 347.610197)" style="stroke: #000000; stroke-width: 1.3"/>
      </g>
     </g>
     <g id="line2d_292">
      <g>
       <path d="M 0 0 L -2.6 0" transform="translate(582.336 347.610197)" style="stroke: #000000; stroke-width: 1.3"/>
      </g>
     </g>
    </g>
    <g id="ytick_81">
     <g id="line2d_293">
      <g>
       <path d="M 0 0 L 2.6 0" transform="translate(321.696 342.569854)" style="stroke: #000000; stroke-width: 1.3"/>
      </g>
     </g>
     <g id="line2d_294">
      <g>
       <path d="M 0 0 L -2.6 0" transform="translate(582.336 342.569854)" style="stroke: #000000; stroke-width: 1.3"/>
      </g>
     </g>
    </g>
    <g id="ytick_82">
     <g id="line2d_295">
      <g>
       <path d="M 0 0 L 2.6 0" transform="translate(321.696 337.529511)" style="stroke: #000000; stroke-width: 1.3"/>
      </g>
     </g>
     <g id="line2d_296">
      <g>
       <path d="M 0 0 L -2.6 0" transform="translate(582.336 337.529511)" style="stroke: #000000; stroke-width: 1.3"/>
      </g>
     </g>
    </g>
    <g id="ytick_83">
     <g id="line2d_297">
      <g>
       <path d="M 0 0 L 2.6 0" transform="translate(321.696 327.448824)" style="stroke: #000000; stroke-width: 1.3"/>
      </g>
     </g>
     <g id="line2d_298">
      <g>
       <path d="M 0 0 L -2.6 0" transform="translate(582.336 327.448824)" style="stroke: #000000; stroke-width: 1.3"/>
      </g>
     </g>
    </g>
    <g id="ytick_84">
     <g id="line2d_299">
      <g>
       <path d="M 0 0 L 2.6 0" transform="translate(321.696 322.408481)" style="stroke: #000000; stroke-width: 1.3"/>
      </g>
     </g>
     <g id="line2d_300">
      <g>
       <path d="M 0 0 L -2.6 0" transform="translate(582.336 322.408481)" style="stroke: #000000; stroke-width: 1.3"/>
      </g>
     </g>
    </g>
    <g id="ytick_85">
     <g id="line2d_301">
      <g>
       <path d="M 0 0 L 2.6 0" transform="translate(321.696 317.368137)" style="stroke: #000000; stroke-width: 1.3"/>
      </g>
     </g>
     <g id="line2d_302">
      <g>
       <path d="M 0 0 L -2.6 0" transform="translate(582.336 317.368137)" style="stroke: #000000; stroke-width: 1.3"/>
      </g>
     </g>
    </g>
    <g id="ytick_86">
     <g id="line2d_303">
      <g>
       <path d="M 0 0 L 2.6 0" transform="translate(321.696 312.327794)" style="stroke: #000000; stroke-width: 1.3"/>
      </g>
     </g>
     <g id="line2d_304">
      <g>
       <path d="M 0 0 L -2.6 0" transform="translate(582.336 312.327794)" style="stroke: #000000; stroke-width: 1.3"/>
      </g>
     </g>
    </g>
    <g id="ytick_87">
     <g id="line2d_305">
      <g>
       <path d="M 0 0 L 2.6 0" transform="translate(321.696 302.247107)" style="stroke: #000000; stroke-width: 1.3"/>
      </g>
     </g>
     <g id="line2d_306">
      <g>
       <path d="M 0 0 L -2.6 0" transform="translate(582.336 302.247107)" style="stroke: #000000; stroke-width: 1.3"/>
      </g>
     </g>
    </g>
    <g id="ytick_88">
     <g id="line2d_307">
      <g>
       <path d="M 0 0 L 2.6 0" transform="translate(321.696 297.206764)" style="stroke: #000000; stroke-width: 1.3"/>
      </g>
     </g>
     <g id="line2d_308">
      <g>
       <path d="M 0 0 L -2.6 0" transform="translate(582.336 297.206764)" style="stroke: #000000; stroke-width: 1.3"/>
      </g>
     </g>
    </g>
    <g id="ytick_89">
     <g id="line2d_309">
      <g>
       <path d="M 0 0 L 2.6 0" transform="translate(321.696 292.166421)" style="stroke: #000000; stroke-width: 1.3"/>
      </g>
     </g>
     <g id="line2d_310">
      <g>
       <path d="M 0 0 L -2.6 0" transform="translate(582.336 292.166421)" style="stroke: #000000; stroke-width: 1.3"/>
      </g>
     </g>
    </g>
    <g id="ytick_90">
     <g id="line2d_311">
      <g>
       <path d="M 0 0 L 2.6 0" transform="translate(321.696 287.126077)" style="stroke: #000000; stroke-width: 1.3"/>
      </g>
     </g>
     <g id="line2d_312">
      <g>
       <path d="M 0 0 L -2.6 0" transform="translate(582.336 287.126077)" style="stroke: #000000; stroke-width: 1.3"/>
      </g>
     </g>
    </g>
    <g id="ytick_91">
     <g id="line2d_313">
      <g>
       <path d="M 0 0 L 2.6 0" transform="translate(321.696 277.045391)" style="stroke: #000000; stroke-width: 1.3"/>
      </g>
     </g>
     <g id="line2d_314">
      <g>
       <path d="M 0 0 L -2.6 0" transform="translate(582.336 277.045391)" style="stroke: #000000; stroke-width: 1.3"/>
      </g>
     </g>
    </g>
    <g id="ytick_92">
     <g id="line2d_315">
      <g>
       <path d="M 0 0 L 2.6 0" transform="translate(321.696 272.005047)" style="stroke: #000000; stroke-width: 1.3"/>
      </g>
     </g>
     <g id="line2d_316">
      <g>
       <path d="M 0 0 L -2.6 0" transform="translate(582.336 272.005047)" style="stroke: #000000; stroke-width: 1.3"/>
      </g>
     </g>
    </g>
    <g id="ytick_93">
     <g id="line2d_317">
      <g>
       <path d="M 0 0 L 2.6 0" transform="translate(321.696 266.964704)" style="stroke: #000000; stroke-width: 1.3"/>
      </g>
     </g>
     <g id="line2d_318">
      <g>
       <path d="M 0 0 L -2.6 0" transform="translate(582.336 266.964704)" style="stroke: #000000; stroke-width: 1.3"/>
      </g>
     </g>
    </g>
    <g id="ytick_94">
     <g id="line2d_319">
      <g>
       <path d="M 0 0 L 2.6 0" transform="translate(321.696 261.924361)" style="stroke: #000000; stroke-width: 1.3"/>
      </g>
     </g>
     <g id="line2d_320">
      <g>
       <path d="M 0 0 L -2.6 0" transform="translate(582.336 261.924361)" style="stroke: #000000; stroke-width: 1.3"/>
      </g>
     </g>
    </g>
    <g id="ytick_95">
     <g id="line2d_321">
      <g>
       <path d="M 0 0 L 2.6 0" transform="translate(321.696 251.843674)" style="stroke: #000000; stroke-width: 1.3"/>
      </g>
     </g>
     <g id="line2d_322">
      <g>
       <path d="M 0 0 L -2.6 0" transform="translate(582.336 251.843674)" style="stroke: #000000; stroke-width: 1.3"/>
      </g>
     </g>
    </g>
    <g id="ytick_96">
     <g id="line2d_323">
      <g>
       <path d="M 0 0 L 2.6 0" transform="translate(321.696 246.80333)" style="stroke: #000000; stroke-width: 1.3"/>
      </g>
     </g>
     <g id="line2d_324">
      <g>
       <path d="M 0 0 L -2.6 0" transform="translate(582.336 246.80333)" style="stroke: #000000; stroke-width: 1.3"/>
      </g>
     </g>
    </g>
    <g id="ytick_97">
     <g id="line2d_325">
      <g>
       <path d="M 0 0 L 2.6 0" transform="translate(321.696 241.762987)" style="stroke: #000000; stroke-width: 1.3"/>
      </g>
     </g>
     <g id="line2d_326">
      <g>
       <path d="M 0 0 L -2.6 0" transform="translate(582.336 241.762987)" style="stroke: #000000; stroke-width: 1.3"/>
      </g>
     </g>
    </g>
    <g id="ytick_98">
     <g id="line2d_327">
      <g>
       <path d="M 0 0 L 2.6 0" transform="translate(321.696 236.722644)" style="stroke: #000000; stroke-width: 1.3"/>
      </g>
     </g>
     <g id="line2d_328">
      <g>
       <path d="M 0 0 L -2.6 0" transform="translate(582.336 236.722644)" style="stroke: #000000; stroke-width: 1.3"/>
      </g>
     </g>
    </g>
    <g id="ytick_99">
     <g id="line2d_329">
      <g>
       <path d="M 0 0 L 2.6 0" transform="translate(321.696 226.641957)" style="stroke: #000000; stroke-width: 1.3"/>
      </g>
     </g>
     <g id="line2d_330">
      <g>
       <path d="M 0 0 L -2.6 0" transform="translate(582.336 226.641957)" style="stroke: #000000; stroke-width: 1.3"/>
      </g>
     </g>
    </g>
    <g id="ytick_100">
     <g id="line2d_331">
      <g>
       <path d="M 0 0 L 2.6 0" transform="translate(321.696 221.601614)" style="stroke: #000000; stroke-width: 1.3"/>
      </g>
     </g>
     <g id="line2d_332">
      <g>
       <path d="M 0 0 L -2.6 0" transform="translate(582.336 221.601614)" style="stroke: #000000; stroke-width: 1.3"/>
      </g>
     </g>
    </g>
   </g>
   <g id="line2d_333">
    <path d="M 435.397594 432.792 L 435.397594 221.4" clip-path="url(#p6b570c8475)" style="fill: none; stroke-dasharray: 4.18,2.145; stroke-dashoffset: 0; stroke: #000000; stroke-width: 1.1"/>
   </g>
   <g id="line2d_334">
    <path d="M 321.12 432.576 L 334.913684 432.41123 L 351.334737 432.004269 L 362.501053 431.497201 L 369.726316 430.961104 L 376.951579 430.184782 L 382.863158 429.348835 L 386.147368 428.675258 L 390.088421 427.625871 L 394.029474 426.356574 L 396.656842 425.304004 L 399.941053 423.71209 L 403.225263 421.84189 L 405.852632 420.14856 L 407.823158 418.6719 L 409.793684 416.973995 L 411.764211 415.029943 L 413.734737 412.794048 L 415.048421 411.021979 L 416.362105 408.924341 L 417.675789 406.410399 L 418.989474 403.171038 L 420.303158 399.189585 L 421.616842 394.597251 L 422.930526 389.403321 L 424.244211 383.09715 L 425.557895 375.158793 L 426.214737 369.800157 L 428.185263 349.914015 L 430.155789 330.390813 L 431.469474 319.221729 L 432.126316 315.435217 L 433.44 310.221822 L 434.096842 308.204131 L 434.753684 306.891103 L 435.410526 306.51589 L 436.067368 307.157409 L 436.724211 308.628863 L 437.381053 310.723894 L 438.694737 316.024259 L 439.351579 320.478679 L 441.322105 337.653803 L 443.292632 353.069229 L 445.263158 372.353778 L 446.576842 380.249131 L 447.890526 386.894518 L 449.204211 392.48803 L 450.517895 396.708381 L 451.831579 400.214173 L 453.802105 404.605565 L 455.772632 408.365244 L 457.743158 411.507443 L 459.713684 414.097096 L 461.684211 416.343771 L 463.654737 418.257919 L 466.282105 420.379131 L 468.909474 422.213251 L 471.536842 423.762583 L 474.164211 425.032625 L 478.105263 426.702474 L 481.389474 427.869493 L 484.016842 428.608444 L 487.301053 429.267031 L 492.555789 430.084091 L 497.810526 430.660024 L 503.722105 431.037521 L 515.545263 431.570323 L 528.682105 431.930887 L 550.357895 432.228513 L 577.945263 432.425984 L 583.2 432.432 L 583.2 432.432" clip-path="url(#p6b570c8475)" style="fill: none; stroke: #000000; stroke-width: 1.1; stroke-linecap: square"/>
   </g>
   <g id="line2d_335">
    <path d="M 432 432.576 L 452.463158 432.466125 L 477.094737 432.105529 L 486.189474 431.787819 L 497.557895 431.160317 L 504 430.644537 L 508.547368 430.056385 L 510.821053 429.550889 L 513.094737 428.831641 L 515.747368 427.752855 L 516.884211 427.119552 L 518.4 426.019195 L 519.915789 424.681319 L 521.431579 422.926313 L 523.705263 419.926484 L 526.357895 415.979429 L 527.494737 414.933377 L 529.010526 413.773131 L 529.768421 413.384281 L 530.526316 413.211247 L 531.284211 413.346355 L 532.042105 413.804372 L 533.178947 414.873241 L 535.073684 416.987209 L 536.210526 418.73399 L 538.484211 422.385804 L 540 424.121902 L 541.894737 425.959118 L 543.410526 427.076545 L 545.684211 428.306495 L 547.578947 429.111636 L 549.473684 429.706804 L 552.884211 430.481182 L 555.915789 430.953892 L 559.705263 431.275104 L 566.905263 431.656797 L 582.821053 432.207105 L 583.2 432.216 L 583.2 432.216" clip-path="url(#p6b570c8475)" style="fill: none; stroke: #000000; stroke-width: 1.1; stroke-linecap: square"/>
   </g>
   <g id="line2d_336">
    <path d="M 321.12 432.432 L 329.658947 432.323033 L 334.913684 432.096414 L 338.854737 431.690871 L 340.825263 431.251773 L 343.452632 430.373699 L 346.736842 429.012253 L 348.707368 427.934167 L 351.334737 426.172701 L 354.618947 423.720764 L 361.844211 417.779724 L 363.814737 416.151512 L 365.128421 414.763904 L 366.442105 413.08857 L 368.412632 410.160133 L 370.383158 406.789996 L 372.353684 402.749767 L 380.892632 384.548013 L 382.863158 380.686321 L 384.176842 377.494214 L 386.147368 372.428453 L 389.431579 364.767115 L 393.372632 356.027343 L 394.686316 352.436061 L 399.284211 338.67027 L 401.911579 332.025354 L 403.882105 327.576544 L 406.509474 322.352255 L 413.077895 310.010232 L 415.048421 307.153613 L 416.362105 305.519585 L 417.675789 304.269079 L 419.646316 302.784994 L 420.303158 302.429249 L 420.96 302.220014 L 421.616842 302.206781 L 422.273684 302.433864 L 422.930526 302.869062 L 423.587368 304.073045 L 424.244211 307.389466 L 424.901053 311.819356 L 425.557895 317.930323 L 428.842105 359.272496 L 430.155789 377.052475 L 431.469474 390.270369 L 433.44 407.591924 L 434.753684 417.933284 L 435.410526 421.784676 L 436.067368 424.844332 L 436.724211 427.194112 L 437.381053 428.717613 L 438.037895 429.925735 L 438.694737 430.827344 L 439.351579 431.381432 L 440.008421 431.767707 L 440.665263 431.927997 L 445.92 431.809831 L 449.861053 431.562318 L 452.488421 431.120753 L 455.772632 430.323267 L 464.311579 427.906609 L 469.566316 426.110327 L 476.791579 423.405389 L 486.644211 419.4992 L 493.212632 417.294846 L 502.408421 414.454636 L 508.976842 412.629321 L 510.947368 412.354948 L 514.888421 412.073305 L 516.202105 412.109346 L 516.858947 412.651343 L 518.172632 414.448645 L 519.486316 417.110739 L 522.113684 422.458502 L 524.741053 427.337368 L 526.054737 429.073125 L 527.368421 430.446696 L 528.682105 431.360066 L 529.995789 432.013413 L 531.309474 432.356424 L 535.250526 432.499164 L 558.24 432.561106 L 583.2 432.576 L 583.2 432.576" clip-path="url(#p6b570c8475)" style="fill: none; stroke: #0000ff; stroke-width: 1.1; stroke-linecap: square"/>
   </g>
   <g id="line2d_337">
    <path d="M 525.6 432.576 L 531.374436 432.462022 L 537.581955 432.122926 L 540.180451 431.752563 L 542.778947 431.151254 L 545.088722 430.41129 L 545.954887 429.880683 L 549.130827 427.309995 L 551.873684 425.221826 L 553.606015 424.254654 L 555.049624 423.632436 L 556.781955 423.177245 L 558.081203 423.001908 L 559.23609 423.091417 L 560.968421 423.491173 L 562.267669 424.082806 L 566.021053 426.143566 L 573.239098 430.349184 L 575.26015 431.279667 L 576.559398 431.650644 L 580.168421 432.236482 L 582.622556 432.4241 L 583.2 432.432 L 583.2 432.432" clip-path="url(#p6b570c8475)" style="fill: none; stroke: #8c8c8c; stroke-width: 1.1; stroke-linecap: square"/>
   </g>
   <g id="line2d_338">
    <path d="M 321.12 432.576 L 325.656 426.744 L 326.664 430.776 L 327.96 429.84 L 329.112 432.576 L 337.176 432.576 L 338.184 424.8 L 339.192 427.752 L 339.984 432.576 L 345.168 432.576 L 346.68 425.808 L 347.688 417.24 L 349.2 424.8 L 350.208 423.288 L 351.216 424.8 L 352.44 418.752 L 353.736 421.776 L 355.032 415.224 L 356.184 430.272 L 357.192 432.576 L 358.416 425.808 L 359.208 429.768 L 360.216 411.768 L 361.224 411.552 L 362.232 429.768 L 363.24 415.728 L 365.256 411.768 L 366.768 407.736 L 368.28 406.728 L 370.224 404.712 L 371.736 396.72 L 372.744 390.168 L 373.752 393.696 L 375.048 377.136 L 376.272 385.632 L 377.784 383.184 L 379.08 375.624 L 380.304 383.688 L 381.312 379.152 L 382.464 384.624 L 383.76 385.488 L 384.48 372.6 L 385.92 372.096 L 387 370.08 L 388.224 368.64 L 389.088 370.08 L 389.88 388.8 L 390.24 432.432 L 394.128 432.432 L 394.632 372.24 L 394.848 360.216 L 396.072 355.392 L 397.224 353.016 L 398.232 349.344 L 399.024 345.744 L 400.248 331.344 L 400.824 343.368 L 402.048 327.744 L 402.48 326.592 L 405.648 316.944 L 407.304 315.36 L 409.392 288.864 L 410.472 296.136 L 411.84 299.52 L 412.632 307.224 L 412.992 338.4 L 413.28 432.432 L 415.872 432.432 L 416.232 417.6 L 416.808 398.952 L 417.24 432.432 L 418.176 432.432 L 418.464 360 L 419.328 276.84 L 420.12 268.848 L 421.704 260.856 L 423.288 256.824 L 424.44 255.24 L 425.376 254.448 L 426.024 268.848 L 427.032 256.032 L 428.112 268.848 L 428.904 273.672 L 430.56 278.496 L 431.784 283.32 L 432.936 284.904 L 434.088 286.848 L 435.312 297.72 L 436.968 308.952 L 438.552 318.528 L 439.848 328.176 L 440.928 340.992 L 441.72 344.16 L 443.088 358.128 L 445.896 358.128 L 447.12 374.4 L 448.128 374.4 L 449.136 387 L 450.648 385.704 L 452.16 383.832 L 453.384 393.264 L 454.68 393.84 L 455.688 398.232 L 456.912 397.008 L 458.136 407.016 L 460.08 398.232 L 461.664 393.84 L 463.176 407.016 L 465.048 408.888 L 466.92 398.88 L 468.432 413.28 L 470.664 407.016 L 472.176 398.232 L 473.184 403.272 L 474.192 404.496 L 475.056 432.072 L 478.224 432.072 L 479.448 419.544 L 480.744 413.28 L 481.752 412.056 L 482.616 423.288 L 484.2 417.6 L 485.712 410.76 L 487.224 410.184 L 488.232 413.28 L 489.528 410.184 L 491.4 410.76 L 492.624 404.496 L 493.92 408.888 L 495.504 403.272 L 497.016 399.528 L 498.312 407.952 L 499.032 401.904 L 499.824 411.696 L 500.904 416.16 L 502.056 404.928 L 503.208 403.776 L 504.288 403.416 L 505.44 409.392 L 506.592 410.184 L 508.104 410.904 L 509.184 415.44 L 510.336 406.44 L 511.488 408.672 L 512.568 407.16 L 513.72 410.184 L 514.872 406.44 L 515.952 410.184 L 516.96 405.648 L 517.824 410.184 L 518.976 409.392 L 519.768 413.208 L 520.848 407.16 L 522 404.136 L 522.72 405.648 L 523.872 413.208 L 525.024 417.672 L 526.104 423.72 L 527.256 416.952 L 528.408 416.952 L 529.128 419.184 L 530.28 413.928 L 531.36 416.16 L 532.728 420.696 L 533.664 425.952 L 534.744 417.672 L 535.896 419.976 L 536.688 413.208 L 537.768 417.672 L 538.128 432 L 543.456 432 L 543.816 423.72 L 544.896 421.488 L 546.408 417.312 L 547.56 416.16 L 548.712 418.464 L 550.224 416.952 L 551.304 418.464 L 552.6 412.056 L 553.176 426.744 L 553.968 429.696 L 555.48 431.208 L 556.56 431.208 L 557.712 422.208 L 558.576 410.904 L 559.584 414.288 L 560.736 410.544 L 561.6 411.336 L 562.248 416.952 L 562.968 422.208 L 564.48 428.256 L 565.992 430.488 L 567.504 427.464 L 569.016 428.256 L 570.096 426.744 L 571.248 429.696 L 571.968 431.208 L 573.48 428.256 L 574.272 418.824 L 575.352 428.256 L 576.504 424.44 L 578.016 423.72 L 579.168 426.744 L 579.888 431.208 L 581.04 428.976 L 583.2 430.488 L 583.2 430.488" clip-path="url(#p6b570c8475)" style="fill: none; stroke: #000000; stroke-width: 0.85; stroke-linecap: square"/>
   </g>
   <g id="line2d_339">
    <path d="M 321.12 431.784 L 331.128 431.568 L 338.184 430.776 L 346.176 427.752 L 353.232 423.792 L 359.208 418.248 L 364.248 413.712 L 369.288 406.728 L 374.256 395.712 L 379.296 384.624 L 383.976 372.24 L 387 365.04 L 389.088 360.216 L 390.024 362.016 L 390.384 381.6 L 390.6 432.432 L 394.272 432.432 L 394.632 381.6 L 394.848 355.392 L 397.224 340.92 L 399.672 331.344 L 403.272 319.32 L 406.872 306.072 L 408.888 299.304 L 409.896 297 L 411.048 295.2 L 412.272 300.024 L 412.704 316.8 L 412.992 432.432 L 418.536 432.432 L 418.968 345.6 L 419.328 276.84 L 420.912 264.024 L 423.288 256.824 L 424.944 256.032 L 426.528 260.856 L 428.112 270.432 L 430.56 280.08 L 433.728 287.28 L 435.312 291.312 L 438.552 305.712 L 441.72 329.76 L 444.168 349.056 L 445.608 370.656 L 448.128 384.48 L 451.872 398.232 L 455.688 407.016 L 460.656 413.28 L 466.92 416.808 L 473.184 418.032 L 474.48 422.064 L 475.488 432.072 L 478.872 432.072 L 479.448 419.544 L 481.968 417.024 L 488.232 413.928 L 494.496 412.056 L 496.8 411.336 L 501.336 409.392 L 508.104 407.16 L 516.384 404.928 L 520.128 406.44 L 524.592 409.392 L 528.408 410.904 L 532.152 413.208 L 535.176 416.952 L 537.768 422.208 L 538.92 426.744 L 539.28 432 L 543.816 432 L 544.176 425.232 L 549.432 423.72 L 553.968 421.488 L 558.432 420.336 L 562.248 421.488 L 565.992 424.872 L 569.736 428.256 L 574.272 430.848 L 579.528 431.64 L 583.2 432" clip-path="url(#p6b570c8475)" style="fill: none; stroke-dasharray: 4.9,2.1; stroke-dashoffset: 0; stroke: #ff00ff; stroke-width: 1.4"/>
   </g>
   <g id="line2d_340">
    <path d="M 420.408 241.92 L 420.408 254.088" clip-path="url(#p6b570c8475)" style="fill: none; stroke: #000000; stroke-width: 1.1"/>
   </g>
   <g id="line2d_341">
    <path d="M 441.864 241.92 L 441.864 254.088" clip-path="url(#p6b570c8475)" style="fill: none; stroke: #000000; stroke-width: 1.1"/>
   </g>
   <g id="line2d_342">
    <path d="M 506.304 356.112 L 506.304 368.352" clip-path="url(#p6b570c8475)" style="fill: none; stroke: #000000; stroke-width: 1.1"/>
   </g>
   <g id="line2d_343">
    <path d="M 531.36 356.112 L 531.36 368.352" clip-path="url(#p6b570c8475)" style="fill: none; stroke: #000000; stroke-width: 1.1"/>
   </g>
   <g id="patch_22">
    <path d="M 321.696 432.792 L 321.696 221.4" style="fill: none; stroke: #000000; stroke-width: 1.25; stroke-linejoin: miter; stroke-linecap: square"/>
   </g>
   <g id="patch_23">
    <path d="M 582.336 432.792 L 582.336 221.4" style="fill: none; stroke: #000000; stroke-width: 1.25; stroke-linejoin: miter; stroke-linecap: square"/>
   </g>
   <g id="patch_24">
    <path d="M 321.696 432.792 L 582.336 432.792" style="fill: none; stroke: #000000; stroke-width: 1.25; stroke-linejoin: miter; stroke-linecap: square"/>
   </g>
   <g id="patch_25">
    <path d="M 321.696 221.4 L 582.336 221.4" style="fill: none; stroke: #000000; stroke-width: 1.25; stroke-linejoin: miter; stroke-linecap: square"/>
   </g>
   <g id="text_38">
    <text style="font-size: 9.65px; font-family: 'DejaVu Sans', sans-serif; text-anchor: start" x="378.864" y="235.512" transform="rotate(-0 378.864 235.512)">Blue C IV</text>
   </g>
   <g id="text_39">
    <text style="font-size: 9.65px; font-family: 'DejaVu Sans', sans-serif; text-anchor: start" x="439.92" y="235.512" transform="rotate(-0 439.92 235.512)">BC C IV</text>
   </g>
   <g id="text_40">
    <text style="font-size: 9.65px; font-family: 'DejaVu Sans', sans-serif; text-anchor: start" x="460.08" y="349.92" transform="rotate(-0 460.08 349.92)">Blue He II</text>
   </g>
   <g id="text_41">
    <text style="font-size: 9.65px; font-family: 'DejaVu Sans', sans-serif; text-anchor: start" x="528.48" y="349.92" transform="rotate(-0 528.48 349.92)">BC He II</text>
   </g>
  </g>
  <g id="axes_6">
   <g id="patch_26">
    <path d="M 321.696 475.344 L 582.336 475.344 L 582.336 432.792 L 321.696 432.792 z" style="fill: #ffffff"/>
   </g>
   <g id="matplotlib.axis_10">
    <g id="xtick_106">
     <g id="line2d_344">
      <g>
       <path d="M 0 0 L 0 -5" transform="translate(381.527393 475.344)" style="stroke: #000000; stroke-width: 1.3"/>
      </g>
     </g>
     <g id="line2d_345">
      <g>
       <path d="M 0 0 L 0 5" transform="translate(381.527393 432.792)" style="stroke: #000000; stroke-width: 1.3"/>
      </g>
     </g>
     <g id="text_42">
      <text style="font-size: 11px; font-family: 'DejaVu Sans', sans-serif; text-anchor: middle" x="381.527393" y="486.502281" transform="rotate(-0 381.527393 486.502281)">−10000</text>
     </g>
    </g>
    <g id="xtick_107">
     <g id="line2d_346">
      <g>
       <path d="M 0 0 L 0 -5" transform="translate(435.397594 475.344)" style="stroke: #000000; stroke-width: 1.3"/>
      </g>
     </g>
     <g id="line2d_347">
      <g>
       <path d="M 0 0 L 0 5" transform="translate(435.397594 432.792)" style="stroke: #000000; stroke-width: 1.3"/>
      </g>
     </g>
     <g id="text_43">
      <text style="font-size: 11px; font-family: 'DejaVu Sans', sans-serif; text-anchor: middle" x="435.397594" y="486.502281" transform="rotate(-0 435.397594 486.502281)">0</text>
     </g>
    </g>
    <g id="xtick_108">
     <g id="line2d_348">
      <g>
       <path d="M 0 0 L 0 -5" transform="translate(489.267794 475.344)" style="stroke: #000000; stroke-width: 1.3"/>
      </g>
     </g>
     <g id="line2d_349">
      <g>
       <path d="M 0 0 L 0 5" transform="translate(489.267794 432.792)" style="stroke: #000000; stroke-width: 1.3"/>
      </g>
     </g>
     <g id="text_44">
      <text style="font-size: 11px; font-family: 'DejaVu Sans', sans-serif; text-anchor: middle" x="489.267794" y="486.502281" transform="rotate(-0 489.267794 486.502281)">10000</text>
     </g>
    </g>
    <g id="xtick_109">
     <g id="line2d_350">
      <g>
       <path d="M 0 0 L 0 -5" transform="translate(543.137995 475.344)" style="stroke: #000000; stroke-width: 1.3"/>
      </g>
     </g>
     <g id="line2d_351">
      <g>
       <path d="M 0 0 L 0 5" transform="translate(543.137995 432.792)" style="stroke: #000000; stroke-width: 1.3"/>
      </g>
     </g>
     <g id="text_45">
      <text style="font-size: 11px; font-family: 'DejaVu Sans', sans-serif; text-anchor: middle" x="543.137995" y="486.502281" transform="rotate(-0 543.137995 486.502281)">20000</text>
     </g>
    </g>
    <g id="xtick_110">
     <g id="line2d_352">
      <g>
       <path d="M 0 0 L 0 -2.6" transform="translate(327.657192 475.344)" style="stroke: #000000; stroke-width: 1.3"/>
      </g>
     </g>
     <g id="line2d_353">
      <g>
       <path d="M 0 0 L 0 2.6" transform="translate(327.657192 432.792)" style="stroke: #000000; stroke-width: 1.3"/>
      </g>
     </g>
    </g>
    <g id="xtick_111">
     <g id="line2d_354">
      <g>
       <path d="M 0 0 L 0 -2.6" transform="translate(338.431232 475.344)" style="stroke: #000000; stroke-width: 1.3"/>
      </g>
     </g>
     <g id="line2d_355">
      <g>
       <path d="M 0 0 L 0 2.6" transform="translate(338.431232 432.792)" style="stroke: #000000; stroke-width: 1.3"/>
      </g>
     </g>
    </g>
    <g id="xtick_112">
     <g id="line2d_356">
      <g>
       <path d="M 0 0 L 0 -2.6" transform="translate(349.205272 475.344)" style="stroke: #000000; stroke-width: 1.3"/>
      </g>
     </g>
     <g id="line2d_357">
      <g>
       <path d="M 0 0 L 0 2.6" transform="translate(349.205272 432.792)" style="stroke: #000000; stroke-width: 1.3"/>
      </g>
     </g>
    </g>
    <g id="xtick_113">
     <g id="line2d_358">
      <g>
       <path d="M 0 0 L 0 -2.6" transform="translate(359.979312 475.344)" style="stroke: #000000; stroke-width: 1.3"/>
      </g>
     </g>
     <g id="line2d_359">
      <g>
       <path d="M 0 0 L 0 2.6" transform="translate(359.979312 432.792)" style="stroke: #000000; stroke-width: 1.3"/>
      </g>
     </g>
    </g>
    <g id="xtick_114">
     <g id="line2d_360">
      <g>
       <path d="M 0 0 L 0 -2.6" transform="translate(370.753353 475.344)" style="stroke: #000000; stroke-width: 1.3"/>
      </g>
     </g>
     <g id="line2d_361">
      <g>
       <path d="M 0 0 L 0 2.6" transform="translate(370.753353 432.792)" style="stroke: #000000; stroke-width: 1.3"/>
      </g>
     </g>
    </g>
    <g id="xtick_115">
     <g id="line2d_362">
      <g>
       <path d="M 0 0 L 0 -2.6" transform="translate(392.301433 475.344)" style="stroke: #000000; stroke-width: 1.3"/>
      </g>
     </g>
     <g id="line2d_363">
      <g>
       <path d="M 0 0 L 0 2.6" transform="translate(392.301433 432.792)" style="stroke: #000000; stroke-width: 1.3"/>
      </g>
     </g>
    </g>
    <g id="xtick_116">
     <g id="line2d_364">
      <g>
       <path d="M 0 0 L 0 -2.6" transform="translate(403.075473 475.344)" style="stroke: #000000; stroke-width: 1.3"/>
      </g>
     </g>
     <g id="line2d_365">
      <g>
       <path d="M 0 0 L 0 2.6" transform="translate(403.075473 432.792)" style="stroke: #000000; stroke-width: 1.3"/>
      </g>
     </g>
    </g>
    <g id="xtick_117">
     <g id="line2d_366">
      <g>
       <path d="M 0 0 L 0 -2.6" transform="translate(413.849513 475.344)" style="stroke: #000000; stroke-width: 1.3"/>
      </g>
     </g>
     <g id="line2d_367">
      <g>
       <path d="M 0 0 L 0 2.6" transform="translate(413.849513 432.792)" style="stroke: #000000; stroke-width: 1.3"/>
      </g>
     </g>
    </g>
    <g id="xtick_118">
     <g id="line2d_368">
      <g>
       <path d="M 0 0 L 0 -2.6" transform="translate(424.623553 475.344)" style="stroke: #000000; stroke-width: 1.3"/>
      </g>
     </g>
     <g id="line2d_369">
      <g>
       <path d="M 0 0 L 0 2.6" transform="translate(424.623553 432.792)" style="stroke: #000000; stroke-width: 1.3"/>
      </g>
     </g>
    </g>
    <g id="xtick_119">
     <g id="line2d_370">
      <g>
       <path d="M 0 0 L 0 -2.6" transform="translate(446.171634 475.344)" style="stroke: #000000; stroke-width: 1.3"/>
      </g>
     </g>
     <g id="line2d_371">
      <g>
       <path d="M 0 0 L 0 2.6" transform="translate(446.171634 432.792)" style="stroke: #000000; stroke-width: 1.3"/>
      </g>
     </g>
    </g>
    <g id="xtick_120">
     <g id="line2d_372">
      <g>
       <path d="M 0 0 L 0 -2.6" transform="translate(456.945674 475.344)" style="stroke: #000000; stroke-width: 1.3"/>
      </g>
     </g>
     <g id="line2d_373">
      <g>
       <path d="M 0 0 L 0 2.6" transform="translate(456.945674 432.792)" style="stroke: #000000; stroke-width: 1.3"/>
      </g>
     </g>
    </g>
    <g id="xtick_121">
     <g id="line2d_374">
      <g>
       <path d="M 0 0 L 0 -2.6" transform="translate(467.719714 475.344)" style="stroke: #000000; stroke-width: 1.3"/>
      </g>
     </g>
     <g id="line2d_375">
      <g>
       <path d="M 0 0 L 0 2.6" transform="translate(467.719714 432.792)" style="stroke: #000000; stroke-width: 1.3"/>
      </g>
     </g>
    </g>
    <g id="xtick_122">
     <g id="line2d_376">
      <g>
       <path d="M 0 0 L 0 -2.6" transform="translate(478.493754 475.344)" style="stroke: #000000; stroke-width: 1.3"/>
      </g>
     </g>
     <g id="line2d_377">
      <g>
       <path d="M 0 0 L 0 2.6" transform="translate(478.493754 432.792)" style="stroke: #000000; stroke-width: 1.3"/>
      </g>
     </g>
    </g>
    <g id="xtick_123">
     <g id="line2d_378">
      <g>
       <path d="M 0 0 L 0 -2.6" transform="translate(500.041835 475.344)" style="stroke: #000000; stroke-width: 1.3"/>
      </g>
     </g>
     <g id="line2d_379">
      <g>
       <path d="M 0 0 L 0 2.6" transform="translate(500.041835 432.792)" style="stroke: #000000; stroke-width: 1.3"/>
      </g>
     </g>
    </g>
    <g id="xtick_124">
     <g id="line2d_380">
      <g>
       <path d="M 0 0 L 0 -2.6" transform="translate(510.815875 475.344)" style="stroke: #000000; stroke-width: 1.3"/>
      </g>
     </g>
     <g id="line2d_381">
      <g>
       <path d="M 0 0 L 0 2.6" transform="translate(510.815875 432.792)" style="stroke: #000000; stroke-width: 1.3"/>
      </g>
     </g>
    </g>
    <g id="xtick_125">
     <g id="line2d_382">
      <g>
       <path d="M 0 0 L 0 -2.6" transform="translate(521.589915 475.344)" style="stroke: #000000; stroke-width: 1.3"/>
      </g>
     </g>
     <g id="line2d_383">
      <g>
       <path d="M 0 0 L 0 2.6" transform="translate(521.589915 432.792)" style="stroke: #000000; stroke-width: 1.3"/>
      </g>
     </g>
    </g>
    <g id="xtick_126">
     <g id="line2d_384">
      <g>
       <path d="M 0 0 L 0 -2.6" transform="translate(532.363955 475.344)" style="stroke: #000000; stroke-width: 1.3"/>
      </g>
     </g>
     <g id="line2d_385">
      <g>
       <path d="M 0 0 L 0 2.6" transform="translate(532.363955 432.792)" style="stroke: #000000; stroke-width: 1.3"/>
      </g>
     </g>
    </g>
    <g id="xtick_127">
     <g id="line2d_386">
      <g>
       <path d="M 0 0 L 0 -2.6" transform="translate(553.912036 475.344)" style="stroke: #000000; stroke-width: 1.3"/>
      </g>
     </g>
     <g id="line2d_387">
      <g>
       <path d="M 0 0 L 0 2.6" transform="translate(553.912036 432.792)" style="stroke: #000000; stroke-width: 1.3"/>
      </g>
     </g>
    </g>
    <g id="xtick_128">
     <g id="line2d_388">
      <g>
       <path d="M 0 0 L 0 -2.6" transform="translate(564.686076 475.344)" style="stroke: #000000; stroke-width: 1.3"/>
      </g>
     </g>
     <g id="line2d_389">
      <g>
       <path d="M 0 0 L 0 2.6" transform="translate(564.686076 432.792)" style="stroke: #000000; stroke-width: 1.3"/>
      </g>
     </g>
    </g>
    <g id="xtick_129">
     <g id="line2d_390">
      <g>
       <path d="M 0 0 L 0 -2.6" transform="translate(575.460116 475.344)" style="stroke: #000000; stroke-width: 1.3"/>
      </g>
     </g>
     <g id="line2d_391">
      <g>
       <path d="M 0 0 L 0 2.6" transform="translate(575.460116 432.792)" style="stroke: #000000; stroke-width: 1.3"/>
      </g>
     </g>
    </g>
    <g id="text_46">
     
     <g transform="translate(419.702 501.213672)">
      <text><tspan x="0" y="-0.178125" style="font-size: 10.7px; font-family: 'DejaVu Sans', sans-serif">Δ </tspan><tspan x="9.09922" y="-0.178125" style="font-style: oblique; font-size: 10.7px; font-family: 'DejaVu Sans', sans-serif">v</tspan><tspan x="15.461" y="1.62656" style="font-style: oblique; font-size: 7.49px; font-family: 'DejaVu Sans', sans-serif">r </tspan><tspan x="20.6009" y="-0.178125" style="font-size: 10.7px; font-family: 'DejaVu Sans', sans-serif">[</tspan><tspan x="24.7949" y="-0.178125" style="font-style: oblique; font-size: 10.7px; font-family: 'DejaVu Sans', sans-serif">km </tspan><tspan x="43.2374" y="-0.178125" style="font-style: oblique; font-size: 10.7px; font-family: 'DejaVu Sans', sans-serif">s</tspan><tspan x="49.349" y="-4.38906" style="font-size: 7.49px; font-family: 'DejaVu Sans', sans-serif">−1</tspan><tspan x="60.7426" y="-0.178125" style="font-size: 10.7px; font-family: 'DejaVu Sans', sans-serif">]</tspan></text>
     </g>
    </g>
   </g>
   <g id="matplotlib.axis_11">
    <g id="ytick_101">
     <g id="line2d_392">
      <g>
       <path d="M 0 0 L 5 0" transform="translate(321.696 471.0888)" style="stroke: #000000; stroke-width: 1.3"/>
      </g>
     </g>
     <g id="line2d_393">
      <g>
       <path d="M 0 0 L -5 0" transform="translate(582.336 471.0888)" style="stroke: #000000; stroke-width: 1.3"/>
      </g>
     </g>
    </g>
    <g id="ytick_102">
     <g id="line2d_394">
      <g>
       <path d="M 0 0 L 5 0" transform="translate(321.696 454.068)" style="stroke: #000000; stroke-width: 1.3"/>
      </g>
     </g>
     <g id="line2d_395">
      <g>
       <path d="M 0 0 L -5 0" transform="translate(582.336 454.068)" style="stroke: #000000; stroke-width: 1.3"/>
      </g>
     </g>
    </g>
    <g id="ytick_103">
     <g id="line2d_396">
      <g>
       <path d="M 0 0 L 5 0" transform="translate(321.696 437.0472)" style="stroke: #000000; stroke-width: 1.3"/>
      </g>
     </g>
     <g id="line2d_397">
      <g>
       <path d="M 0 0 L -5 0" transform="translate(582.336 437.0472)" style="stroke: #000000; stroke-width: 1.3"/>
      </g>
     </g>
    </g>
    <g id="ytick_104">
     <g id="line2d_398">
      <g>
       <path d="M 0 0 L 2.6 0" transform="translate(321.696 475.344)" style="stroke: #000000; stroke-width: 1.3"/>
      </g>
     </g>
     <g id="line2d_399">
      <g>
       <path d="M 0 0 L -2.6 0" transform="translate(582.336 475.344)" style="stroke: #000000; stroke-width: 1.3"/>
      </g>
     </g>
    </g>
    <g id="ytick_105">
     <g id="line2d_400">
      <g>
       <path d="M 0 0 L 2.6 0" transform="translate(321.696 466.8336)" style="stroke: #000000; stroke-width: 1.3"/>
      </g>
     </g>
     <g id="line2d_401">
      <g>
       <path d="M 0 0 L -2.6 0" transform="translate(582.336 466.8336)" style="stroke: #000000; stroke-width: 1.3"/>
      </g>
     </g>
    </g>
    <g id="ytick_106">
     <g id="line2d_402">
      <g>
       <path d="M 0 0 L 2.6 0" transform="translate(321.696 462.5784)" style="stroke: #000000; stroke-width: 1.3"/>
      </g>
     </g>
     <g id="line2d_403">
      <g>
       <path d="M 0 0 L -2.6 0" transform="translate(582.336 462.5784)" style="stroke: #000000; stroke-width: 1.3"/>
      </g>
     </g>
    </g>
    <g id="ytick_107">
     <g id="line2d_404">
      <g>
       <path d="M 0 0 L 2.6 0" transform="translate(321.696 458.3232)" style="stroke: #000000; stroke-width: 1.3"/>
      </g>
     </g>
     <g id="line2d_405">
      <g>
       <path d="M 0 0 L -2.6 0" transform="translate(582.336 458.3232)" style="stroke: #000000; stroke-width: 1.3"/>
      </g>
     </g>
    </g>
    <g id="ytick_108">
     <g id="line2d_406">
      <g>
       <path d="M 0 0 L 2.6 0" transform="translate(321.696 449.8128)" style="stroke: #000000; stroke-width: 1.3"/>
      </g>
     </g>
     <g id="line2d_407">
      <g>
       <path d="M 0 0 L -2.6 0" transform="translate(582.336 449.8128)" style="stroke: #000000; stroke-width: 1.3"/>
      </g>
     </g>
    </g>
    <g id="ytick_109">
     <g id="line2d_408">
      <g>
       <path d="M 0 0 L 2.6 0" transform="translate(321.696 445.5576)" style="stroke: #000000; stroke-width: 1.3"/>
      </g>
     </g>
     <g id="line2d_409">
      <g>
       <path d="M 0 0 L -2.6 0" transform="translate(582.336 445.5576)" style="stroke: #000000; stroke-width: 1.3"/>
      </g>
     </g>
    </g>
    <g id="ytick_110">
     <g id="line2d_410">
      <g>
       <path d="M 0 0 L 2.6 0" transform="translate(321.696 441.3024)" style="stroke: #000000; stroke-width: 1.3"/>
      </g>
     </g>
     <g id="line2d_411">
      <g>
       <path d="M 0 0 L -2.6 0" transform="translate(582.336 441.3024)" style="stroke: #000000; stroke-width: 1.3"/>
      </g>
     </g>
    </g>
    <g id="ytick_111">
     <g id="line2d_412">
      <g>
       <path d="M 0 0 L 2.6 0" transform="translate(321.696 432.792)" style="stroke: #000000; stroke-width: 1.3"/>
      </g>
     </g>
     <g id="line2d_413">
      <g>
       <path d="M 0 0 L -2.6 0" transform="translate(582.336 432.792)" style="stroke: #000000; stroke-width: 1.3"/>
      </g>
     </g>
    </g>
   </g>
   <g id="line2d_414">
    <path d="M 435.397594 475.344 L 435.397594 432.792" clip-path="url(#p6846031a18)" style="fill: none; stroke-dasharray: 4.18,2.145; stroke-dashoffset: 0; stroke: #000000; stroke-width: 1.1"/>
   </g>
   <g id="line2d_415">
    <path d="M 321.696 454.068 L 582.336 454.068" clip-path="url(#p6846031a18)" style="fill: none; stroke-dasharray: 4.18,2.145; stroke-dashoffset: 0; stroke: #000000; stroke-width: 1.1"/>
   </g>
   <g id="line2d_416">
    <path d="M 321.84 455.112 L 324 455.832 L 325.44 453.312 L 326.88 454.032 L 330.12 454.752 L 331.56 454.392 L 333.072 458.352 L 334.152 452.952 L 335.232 448.272 L 336.312 453.672 L 337.176 458.712 L 338.472 452.952 L 339.912 453.672 L 341.496 458.352 L 342.792 455.832 L 344.232 456.912 L 346.032 454.032 L 347.832 451.512 L 349.272 453.672 L 351.432 454.032 L 352.872 453.312 L 354.744 452.232 L 355.824 455.112 L 356.904 457.632 L 358.344 456.552 L 359.424 457.272 L 360.504 452.232 L 361.584 454.032 L 362.448 458.352 L 363.744 454.392 L 365.544 455.112 L 367.344 453.672 L 369.144 454.752 L 370.584 455.472 L 372.024 452.952 L 373.464 451.152 L 374.688 448.992 L 376.056 452.232 L 377.496 452.592 L 378.936 451.152 L 380.376 454.392 L 381.816 453.672 L 382.896 456.552 L 384.696 454.392 L 386.496 454.752 L 388.296 455.832 L 389.376 457.632 L 390.456 463.752 L 391.536 457.272 L 392.616 453.672 L 393.696 452.592 L 394.776 453.672 L 395.856 459.792 L 396.936 455.832 L 398.088 459.792 L 399.168 455.472 L 400.608 454.392 L 401.328 459.432 L 402.408 456.552 L 404.208 456.192 L 407.52 456.912 L 408.24 453.672 L 409.32 451.152 L 410.4 453.672 L 411.84 454.392 L 412.92 453.672 L 413.64 440.28 L 415.584 466.704 L 416.52 447.912 L 417.6 457.992 L 418.752 449.352 L 419.688 453.672 L 422.856 456.552 L 424.152 453.672 L 425.592 454.392 L 427.032 451.152 L 428.472 454.392 L 429.912 454.032 L 431.352 452.592 L 432.792 454.392 L 434.232 453.672 L 435.312 458.712 L 436.392 457.272 L 437.832 456.912 L 439.272 457.992 L 440.784 456.192 L 442.224 453.672 L 443.664 452.592 L 445.824 449.352 L 447.264 451.152 L 449.064 451.872 L 450.864 450.432 L 452.304 449.712 L 453.744 451.152 L 455.184 450.792 L 457.344 451.512 L 458.784 453.312 L 460.224 449.712 L 461.304 448.632 L 462.456 451.512 L 465.336 452.952 L 466.776 449.352 L 468.216 453.312 L 470.016 452.952 L 471.816 448.992 L 473.256 449.712 L 474.696 452.952 L 475.416 455.832 L 476.496 453.672 L 477.936 452.592 L 479.376 454.752 L 481.176 453.312 L 482.616 456.192 L 484.128 454.392 L 485.928 453.672 L 487.728 454.392 L 491.688 453.672 L 492.768 452.592 L 493.92 454.032 L 495.432 452.88 L 496.872 451.008 L 498.384 452.88 L 499.896 454.392 L 500.976 455.904 L 502.128 453.672 L 503.64 452.52 L 505.152 454.032 L 506.952 454.392 L 508.824 455.112 L 509.616 456.624 L 511.056 454.392 L 513.36 455.112 L 515.592 456.264 L 517.032 454.752 L 519.336 455.904 L 521.928 453.24 L 523.8 454.752 L 526.392 458.136 L 527.544 455.112 L 528.984 456.624 L 530.496 454.392 L 532.008 455.112 L 533.88 457.416 L 535.32 454.392 L 536.832 452.52 L 538.128 454.392 L 539.064 461.088 L 540.216 462.96 L 541.296 461.52 L 541.872 445.464 L 542.808 445.032 L 543.816 452.16 L 544.68 453.672 L 546.192 452.52 L 547.632 451.8 L 549.144 452.88 L 550.656 453.24 L 552.168 451.8 L 553.608 455.112 L 555.912 458.136 L 557.352 455.904 L 558.864 452.16 L 560.736 451.44 L 562.248 452.52 L 564.12 454.392 L 565.992 455.904 L 568.224 455.904 L 570.096 454.392 L 571.896 454.032 L 573.048 455.904 L 574.56 451.008 L 575.64 454.392 L 577.152 452.16 L 579.024 453.24 L 580.536 454.392 L 581.976 454.032 L 583.2 454.32 L 583.2 454.32" clip-path="url(#p6846031a18)" style="fill: none; stroke: #000000; stroke-width: 0.85; stroke-linecap: square"/>
   </g>
   <g id="patch_27">
    <path d="M 321.696 475.344 L 321.696 432.792" style="fill: none; stroke: #000000; stroke-width: 1.25; stroke-linejoin: miter; stroke-linecap: square"/>
   </g>
   <g id="patch_28">
    <path d="M 582.336 475.344 L 582.336 432.792" style="fill: none; stroke: #000000; stroke-width: 1.25; stroke-linejoin: miter; stroke-linecap: square"/>
   </g>
   <g id="patch_29">
    <path d="M 321.696 475.344 L 582.336 475.344" style="fill: none; stroke: #000000; stroke-width: 1.25; stroke-linejoin: miter; stroke-linecap: square"/>
   </g>
   <g id="patch_30">
    <path d="M 321.696 432.792 L 582.336 432.792" style="fill: none; stroke: #000000; stroke-width: 1.25; stroke-linejoin: miter; stroke-linecap: square"/>
   </g>
  </g>
  <g id="axes_7">
   <g id="matplotlib.axis_12">
    <g id="xtick_130">
     <g id="line2d_417">
      <g>
       <path d="M 0 0 L 0 5" transform="translate(332.1216 221.4)" style="stroke: #000000; stroke-width: 1.3"/>
      </g>
     </g>
     <g id="text_47">
      <text style="font-size: 11px; font-family: 'DejaVu Sans', sans-serif; text-anchor: middle" x="332.1216" y="217.512344" transform="rotate(-0 332.1216 217.512344)">1450</text>
     </g>
    </g>
    <g id="xtick_131">
     <g id="line2d_418">
      <g>
       <path d="M 0 0 L 0 5" transform="translate(384.2496 221.4)" style="stroke: #000000; stroke-width: 1.3"/>
      </g>
     </g>
     <g id="text_48">
      <text style="font-size: 11px; font-family: 'DejaVu Sans', sans-serif; text-anchor: middle" x="384.2496" y="217.512344" transform="rotate(-0 384.2496 217.512344)">1500</text>
     </g>
    </g>
    <g id="xtick_132">
     <g id="line2d_419">
      <g>
       <path d="M 0 0 L 0 5" transform="translate(436.3776 221.4)" style="stroke: #000000; stroke-width: 1.3"/>
      </g>
     </g>
     <g id="text_49">
      <text style="font-size: 11px; font-family: 'DejaVu Sans', sans-serif; text-anchor: middle" x="436.3776" y="217.512344" transform="rotate(-0 436.3776 217.512344)">1550</text>
     </g>
    </g>
    <g id="xtick_133">
     <g id="line2d_420">
      <g>
       <path d="M 0 0 L 0 5" transform="translate(488.5056 221.4)" style="stroke: #000000; stroke-width: 1.3"/>
      </g>
     </g>
     <g id="text_50">
      <text style="font-size: 11px; font-family: 'DejaVu Sans', sans-serif; text-anchor: middle" x="488.5056" y="217.512344" transform="rotate(-0 488.5056 217.512344)">1600</text>
     </g>
    </g>
    <g id="xtick_134">
     <g id="line2d_421">
      <g>
       <path d="M 0 0 L 0 5" transform="translate(540.6336 221.4)" style="stroke: #000000; stroke-width: 1.3"/>
      </g>
     </g>
     <g id="text_51">
      <text style="font-size: 11px; font-family: 'DejaVu Sans', sans-serif; text-anchor: middle" x="540.6336" y="217.512344" transform="rotate(-0 540.6336 217.512344)">1650</text>
     </g>
    </g>
    <g id="xtick_135">
     <g id="line2d_422">
      <g>
       <path d="M 0 0 L 0 2.6" transform="translate(321.696 221.4)" style="stroke: #000000; stroke-width: 1.3"/>
      </g>
     </g>
    </g>
    <g id="xtick_136">
     <g id="line2d_423">
      <g>
       <path d="M 0 0 L 0 2.6" transform="translate(342.5472 221.4)" style="stroke: #000000; stroke-width: 1.3"/>
      </g>
     </g>
    </g>
    <g id="xtick_137">
     <g id="line2d_424">
      <g>
       <path d="M 0 0 L 0 2.6" transform="translate(352.9728 221.4)" style="stroke: #000000; stroke-width: 1.3"/>
      </g>
     </g>
    </g>
    <g id="xtick_138">
     <g id="line2d_425">
      <g>
       <path d="M 0 0 L 0 2.6" transform="translate(363.3984 221.4)" style="stroke: #000000; stroke-width: 1.3"/>
      </g>
     </g>
    </g>
    <g id="xtick_139">
     <g id="line2d_426">
      <g>
       <path d="M 0 0 L 0 2.6" transform="translate(373.824 221.4)" style="stroke: #000000; stroke-width: 1.3"/>
      </g>
     </g>
    </g>
    <g id="xtick_140">
     <g id="line2d_427">
      <g>
       <path d="M 0 0 L 0 2.6" transform="translate(394.6752 221.4)" style="stroke: #000000; stroke-width: 1.3"/>
      </g>
     </g>
    </g>
    <g id="xtick_141">
     <g id="line2d_428">
      <g>
       <path d="M 0 0 L 0 2.6" transform="translate(405.1008 221.4)" style="stroke: #000000; stroke-width: 1.3"/>
      </g>
     </g>
    </g>
    <g id="xtick_142">
     <g id="line2d_429">
      <g>
       <path d="M 0 0 L 0 2.6" transform="translate(415.5264 221.4)" style="stroke: #000000; stroke-width: 1.3"/>
      </g>
     </g>
    </g>
    <g id="xtick_143">
     <g id="line2d_430">
      <g>
       <path d="M 0 0 L 0 2.6" transform="translate(425.952 221.4)" style="stroke: #000000; stroke-width: 1.3"/>
      </g>
     </g>
    </g>
    <g id="xtick_144">
     <g id="line2d_431">
      <g>
       <path d="M 0 0 L 0 2.6" transform="translate(446.8032 221.4)" style="stroke: #000000; stroke-width: 1.3"/>
      </g>
     </g>
    </g>
    <g id="xtick_145">
     <g id="line2d_432">
      <g>
       <path d="M 0 0 L 0 2.6" transform="translate(457.2288 221.4)" style="stroke: #000000; stroke-width: 1.3"/>
      </g>
     </g>
    </g>
    <g id="xtick_146">
     <g id="line2d_433">
      <g>
       <path d="M 0 0 L 0 2.6" transform="translate(467.6544 221.4)" style="stroke: #000000; stroke-width: 1.3"/>
      </g>
     </g>
    </g>
    <g id="xtick_147">
     <g id="line2d_434">
      <g>
       <path d="M 0 0 L 0 2.6" transform="translate(478.08 221.4)" style="stroke: #000000; stroke-width: 1.3"/>
      </g>
     </g>
    </g>
    <g id="xtick_148">
     <g id="line2d_435">
      <g>
       <path d="M 0 0 L 0 2.6" transform="translate(498.9312 221.4)" style="stroke: #000000; stroke-width: 1.3"/>
      </g>
     </g>
    </g>
    <g id="xtick_149">
     <g id="line2d_436">
      <g>
       <path d="M 0 0 L 0 2.6" transform="translate(509.3568 221.4)" style="stroke: #000000; stroke-width: 1.3"/>
      </g>
     </g>
    </g>
    <g id="xtick_150">
     <g id="line2d_437">
      <g>
       <path d="M 0 0 L 0 2.6" transform="translate(519.7824 221.4)" style="stroke: #000000; stroke-width: 1.3"/>
      </g>
     </g>
    </g>
    <g id="xtick_151">
     <g id="line2d_438">
      <g>
       <path d="M 0 0 L 0 2.6" transform="translate(530.208 221.4)" style="stroke: #000000; stroke-width: 1.3"/>
      </g>
     </g>
    </g>
    <g id="xtick_152">
     <g id="line2d_439">
      <g>
       <path d="M 0 0 L 0 2.6" transform="translate(551.0592 221.4)" style="stroke: #000000; stroke-width: 1.3"/>
      </g>
     </g>
    </g>
    <g id="xtick_153">
     <g id="line2d_440">
      <g>
       <path d="M 0 0 L 0 2.6" transform="translate(561.4848 221.4)" style="stroke: #000000; stroke-width: 1.3"/>
      </g>
     </g>
    </g>
    <g id="xtick_154">
     <g id="line2d_441">
      <g>
       <path d="M 0 0 L 0 2.6" transform="translate(571.9104 221.4)" style="stroke: #000000; stroke-width: 1.3"/>
      </g>
     </g>
    </g>
    <g id="xtick_155">
     <g id="line2d_442">
      <g>
       <path d="M 0 0 L 0 2.6" transform="translate(582.336 221.4)" style="stroke: #000000; stroke-width: 1.3"/>
      </g>
     </g>
    </g>
   </g>
   <g id="patch_31">
    <path d="M 321.696 432.792 L 321.696 221.4" style="fill: none; stroke: #000000; stroke-width: 1.25; stroke-linejoin: miter; stroke-linecap: square"/>
   </g>
   <g id="patch_32">
    <path d="M 582.336 432.792 L 582.336 221.4" style="fill: none; stroke: #000000; stroke-width: 1.25; stroke-linejoin: miter; stroke-linecap: square"/>
   </g>
   <g id="patch_33">
    <path d="M 321.696 432.792 L 582.336 432.792" style="fill: none; stroke: #000000; stroke-width: 1.25; stroke-linejoin: miter; stroke-linecap: square"/>
   </g>
   <g id="patch_34">
    <path d="M 321.696 221.4 L 582.336 221.4" style="fill: none; stroke: #000000; stroke-width: 1.25; stroke-linejoin: miter; stroke-linecap: square"/>
   </g>
  </g>
  <g id="axes_8">
   <g id="patch_35">
    <path d="M 582.336 432.792 L 843.624 432.792 L 843.624 221.4 L 582.336 221.4 z" style="fill: #ffffff"/>
   </g>
   <g id="matplotlib.axis_13">
    <g id="xtick_156"/>
    <g id="xtick_157"/>
    <g id="xtick_158"/>
    <g id="xtick_159"/>
    <g id="xtick_160"/>
    <g id="xtick_161"/>
    <g id="xtick_162"/>
   </g>
   <g id="matplotlib.axis_14">
    <g id="ytick_112">
     <g id="line2d_443">
      <g>
       <path d="M 0 0 L 5 0" transform="translate(582.336 408.094318)" style="stroke: #000000; stroke-width: 1.3"/>
      </g>
     </g>
     <g id="line2d_444">
      <g>
       <path d="M 0 0 L -5 0" transform="translate(843.624 408.094318)" style="stroke: #000000; stroke-width: 1.3"/>
      </g>
     </g>
    </g>
    <g id="ytick_113">
     <g id="line2d_445">
      <g>
       <path d="M 0 0 L 5 0" transform="translate(582.336 382.892601)" style="stroke: #000000; stroke-width: 1.3"/>
      </g>
     </g>
     <g id="line2d_446">
      <g>
       <path d="M 0 0 L -5 0" transform="translate(843.624 382.892601)" style="stroke: #000000; stroke-width: 1.3"/>
      </g>
     </g>
    </g>
    <g id="ytick_114">
     <g id="line2d_447">
      <g>
       <path d="M 0 0 L 5 0" transform="translate(582.336 357.690884)" style="stroke: #000000; stroke-width: 1.3"/>
      </g>
     </g>
     <g id="line2d_448">
      <g>
       <path d="M 0 0 L -5 0" transform="translate(843.624 357.690884)" style="stroke: #000000; stroke-width: 1.3"/>
      </g>
     </g>
    </g>
    <g id="ytick_115">
     <g id="line2d_449">
      <g>
       <path d="M 0 0 L 5 0" transform="translate(582.336 332.489167)" style="stroke: #000000; stroke-width: 1.3"/>
      </g>
     </g>
     <g id="line2d_450">
      <g>
       <path d="M 0 0 L -5 0" transform="translate(843.624 332.489167)" style="stroke: #000000; stroke-width: 1.3"/>
      </g>
     </g>
    </g>
    <g id="ytick_116">
     <g id="line2d_451">
      <g>
       <path d="M 0 0 L 5 0" transform="translate(582.336 307.287451)" style="stroke: #000000; stroke-width: 1.3"/>
      </g>
     </g>
     <g id="line2d_452">
      <g>
       <path d="M 0 0 L -5 0" transform="translate(843.624 307.287451)" style="stroke: #000000; stroke-width: 1.3"/>
      </g>
     </g>
    </g>
    <g id="ytick_117">
     <g id="line2d_453">
      <g>
       <path d="M 0 0 L 5 0" transform="translate(582.336 282.085734)" style="stroke: #000000; stroke-width: 1.3"/>
      </g>
     </g>
     <g id="line2d_454">
      <g>
       <path d="M 0 0 L -5 0" transform="translate(843.624 282.085734)" style="stroke: #000000; stroke-width: 1.3"/>
      </g>
     </g>
    </g>
    <g id="ytick_118">
     <g id="line2d_455">
      <g>
       <path d="M 0 0 L 5 0" transform="translate(582.336 256.884017)" style="stroke: #000000; stroke-width: 1.3"/>
      </g>
     </g>
     <g id="line2d_456">
      <g>
       <path d="M 0 0 L -5 0" transform="translate(843.624 256.884017)" style="stroke: #000000; stroke-width: 1.3"/>
      </g>
     </g>
    </g>
    <g id="ytick_119">
     <g id="line2d_457">
      <g>
       <path d="M 0 0 L 5 0" transform="translate(582.336 231.6823)" style="stroke: #000000; stroke-width: 1.3"/>
      </g>
     </g>
     <g id="line2d_458">
      <g>
       <path d="M 0 0 L -5 0" transform="translate(843.624 231.6823)" style="stroke: #000000; stroke-width: 1.3"/>
      </g>
     </g>
    </g>
    <g id="ytick_120">
     <g id="line2d_459">
      <g>
       <path d="M 0 0 L 2.6 0" transform="translate(582.336 428.255691)" style="stroke: #000000; stroke-width: 1.3"/>
      </g>
     </g>
     <g id="line2d_460">
      <g>
       <path d="M 0 0 L -2.6 0" transform="translate(843.624 428.255691)" style="stroke: #000000; stroke-width: 1.3"/>
      </g>
     </g>
    </g>
    <g id="ytick_121">
     <g id="line2d_461">
      <g>
       <path d="M 0 0 L 2.6 0" transform="translate(582.336 423.215348)" style="stroke: #000000; stroke-width: 1.3"/>
      </g>
     </g>
     <g id="line2d_462">
      <g>
       <path d="M 0 0 L -2.6 0" transform="translate(843.624 423.215348)" style="stroke: #000000; stroke-width: 1.3"/>
      </g>
     </g>
    </g>
    <g id="ytick_122">
     <g id="line2d_463">
      <g>
       <path d="M 0 0 L 2.6 0" transform="translate(582.336 418.175004)" style="stroke: #000000; stroke-width: 1.3"/>
      </g>
     </g>
     <g id="line2d_464">
      <g>
       <path d="M 0 0 L -2.6 0" transform="translate(843.624 418.175004)" style="stroke: #000000; stroke-width: 1.3"/>
      </g>
     </g>
    </g>
    <g id="ytick_123">
     <g id="line2d_465">
      <g>
       <path d="M 0 0 L 2.6 0" transform="translate(582.336 413.134661)" style="stroke: #000000; stroke-width: 1.3"/>
      </g>
     </g>
     <g id="line2d_466">
      <g>
       <path d="M 0 0 L -2.6 0" transform="translate(843.624 413.134661)" style="stroke: #000000; stroke-width: 1.3"/>
      </g>
     </g>
    </g>
    <g id="ytick_124">
     <g id="line2d_467">
      <g>
       <path d="M 0 0 L 2.6 0" transform="translate(582.336 403.053974)" style="stroke: #000000; stroke-width: 1.3"/>
      </g>
     </g>
     <g id="line2d_468">
      <g>
       <path d="M 0 0 L -2.6 0" transform="translate(843.624 403.053974)" style="stroke: #000000; stroke-width: 1.3"/>
      </g>
     </g>
    </g>
    <g id="ytick_125">
     <g id="line2d_469">
      <g>
       <path d="M 0 0 L 2.6 0" transform="translate(582.336 398.013631)" style="stroke: #000000; stroke-width: 1.3"/>
      </g>
     </g>
     <g id="line2d_470">
      <g>
       <path d="M 0 0 L -2.6 0" transform="translate(843.624 398.013631)" style="stroke: #000000; stroke-width: 1.3"/>
      </g>
     </g>
    </g>
    <g id="ytick_126">
     <g id="line2d_471">
      <g>
       <path d="M 0 0 L 2.6 0" transform="translate(582.336 392.973288)" style="stroke: #000000; stroke-width: 1.3"/>
      </g>
     </g>
     <g id="line2d_472">
      <g>
       <path d="M 0 0 L -2.6 0" transform="translate(843.624 392.973288)" style="stroke: #000000; stroke-width: 1.3"/>
      </g>
     </g>
    </g>
    <g id="ytick_127">
     <g id="line2d_473">
      <g>
       <path d="M 0 0 L 2.6 0" transform="translate(582.336 387.932944)" style="stroke: #000000; stroke-width: 1.3"/>
      </g>
     </g>
     <g id="line2d_474">
      <g>
       <path d="M 0 0 L -2.6 0" transform="translate(843.624 387.932944)" style="stroke: #000000; stroke-width: 1.3"/>
      </g>
     </g>
    </g>
    <g id="ytick_128">
     <g id="line2d_475">
      <g>
       <path d="M 0 0 L 2.6 0" transform="translate(582.336 377.852258)" style="stroke: #000000; stroke-width: 1.3"/>
      </g>
     </g>
     <g id="line2d_476">
      <g>
       <path d="M 0 0 L -2.6 0" transform="translate(843.624 377.852258)" style="stroke: #000000; stroke-width: 1.3"/>
      </g>
     </g>
    </g>
    <g id="ytick_129">
     <g id="line2d_477">
      <g>
       <path d="M 0 0 L 2.6 0" transform="translate(582.336 372.811914)" style="stroke: #000000; stroke-width: 1.3"/>
      </g>
     </g>
     <g id="line2d_478">
      <g>
       <path d="M 0 0 L -2.6 0" transform="translate(843.624 372.811914)" style="stroke: #000000; stroke-width: 1.3"/>
      </g>
     </g>
    </g>
    <g id="ytick_130">
     <g id="line2d_479">
      <g>
       <path d="M 0 0 L 2.6 0" transform="translate(582.336 367.771571)" style="stroke: #000000; stroke-width: 1.3"/>
      </g>
     </g>
     <g id="line2d_480">
      <g>
       <path d="M 0 0 L -2.6 0" transform="translate(843.624 367.771571)" style="stroke: #000000; stroke-width: 1.3"/>
      </g>
     </g>
    </g>
    <g id="ytick_131">
     <g id="line2d_481">
      <g>
       <path d="M 0 0 L 2.6 0" transform="translate(582.336 362.731227)" style="stroke: #000000; stroke-width: 1.3"/>
      </g>
     </g>
     <g id="line2d_482">
      <g>
       <path d="M 0 0 L -2.6 0" transform="translate(843.624 362.731227)" style="stroke: #000000; stroke-width: 1.3"/>
      </g>
     </g>
    </g>
    <g id="ytick_132">
     <g id="line2d_483">
      <g>
       <path d="M 0 0 L 2.6 0" transform="translate(582.336 352.650541)" style="stroke: #000000; stroke-width: 1.3"/>
      </g>
     </g>
     <g id="line2d_484">
      <g>
       <path d="M 0 0 L -2.6 0" transform="translate(843.624 352.650541)" style="stroke: #000000; stroke-width: 1.3"/>
      </g>
     </g>
    </g>
    <g id="ytick_133">
     <g id="line2d_485">
      <g>
       <path d="M 0 0 L 2.6 0" transform="translate(582.336 347.610197)" style="stroke: #000000; stroke-width: 1.3"/>
      </g>
     </g>
     <g id="line2d_486">
      <g>
       <path d="M 0 0 L -2.6 0" transform="translate(843.624 347.610197)" style="stroke: #000000; stroke-width: 1.3"/>
      </g>
     </g>
    </g>
    <g id="ytick_134">
     <g id="line2d_487">
      <g>
       <path d="M 0 0 L 2.6 0" transform="translate(582.336 342.569854)" style="stroke: #000000; stroke-width: 1.3"/>
      </g>
     </g>
     <g id="line2d_488">
      <g>
       <path d="M 0 0 L -2.6 0" transform="translate(843.624 342.569854)" style="stroke: #000000; stroke-width: 1.3"/>
      </g>
     </g>
    </g>
    <g id="ytick_135">
     <g id="line2d_489">
      <g>
       <path d="M 0 0 L 2.6 0" transform="translate(582.336 337.529511)" style="stroke: #000000; stroke-width: 1.3"/>
      </g>
     </g>
     <g id="line2d_490">
      <g>
       <path d="M 0 0 L -2.6 0" transform="translate(843.624 337.529511)" style="stroke: #000000; stroke-width: 1.3"/>
      </g>
     </g>
    </g>
    <g id="ytick_136">
     <g id="line2d_491">
      <g>
       <path d="M 0 0 L 2.6 0" transform="translate(582.336 327.448824)" style="stroke: #000000; stroke-width: 1.3"/>
      </g>
     </g>
     <g id="line2d_492">
      <g>
       <path d="M 0 0 L -2.6 0" transform="translate(843.624 327.448824)" style="stroke: #000000; stroke-width: 1.3"/>
      </g>
     </g>
    </g>
    <g id="ytick_137">
     <g id="line2d_493">
      <g>
       <path d="M 0 0 L 2.6 0" transform="translate(582.336 322.408481)" style="stroke: #000000; stroke-width: 1.3"/>
      </g>
     </g>
     <g id="line2d_494">
      <g>
       <path d="M 0 0 L -2.6 0" transform="translate(843.624 322.408481)" style="stroke: #000000; stroke-width: 1.3"/>
      </g>
     </g>
    </g>
    <g id="ytick_138">
     <g id="line2d_495">
      <g>
       <path d="M 0 0 L 2.6 0" transform="translate(582.336 317.368137)" style="stroke: #000000; stroke-width: 1.3"/>
      </g>
     </g>
     <g id="line2d_496">
      <g>
       <path d="M 0 0 L -2.6 0" transform="translate(843.624 317.368137)" style="stroke: #000000; stroke-width: 1.3"/>
      </g>
     </g>
    </g>
    <g id="ytick_139">
     <g id="line2d_497">
      <g>
       <path d="M 0 0 L 2.6 0" transform="translate(582.336 312.327794)" style="stroke: #000000; stroke-width: 1.3"/>
      </g>
     </g>
     <g id="line2d_498">
      <g>
       <path d="M 0 0 L -2.6 0" transform="translate(843.624 312.327794)" style="stroke: #000000; stroke-width: 1.3"/>
      </g>
     </g>
    </g>
    <g id="ytick_140">
     <g id="line2d_499">
      <g>
       <path d="M 0 0 L 2.6 0" transform="translate(582.336 302.247107)" style="stroke: #000000; stroke-width: 1.3"/>
      </g>
     </g>
     <g id="line2d_500">
      <g>
       <path d="M 0 0 L -2.6 0" transform="translate(843.624 302.247107)" style="stroke: #000000; stroke-width: 1.3"/>
      </g>
     </g>
    </g>
    <g id="ytick_141">
     <g id="line2d_501">
      <g>
       <path d="M 0 0 L 2.6 0" transform="translate(582.336 297.206764)" style="stroke: #000000; stroke-width: 1.3"/>
      </g>
     </g>
     <g id="line2d_502">
      <g>
       <path d="M 0 0 L -2.6 0" transform="translate(843.624 297.206764)" style="stroke: #000000; stroke-width: 1.3"/>
      </g>
     </g>
    </g>
    <g id="ytick_142">
     <g id="line2d_503">
      <g>
       <path d="M 0 0 L 2.6 0" transform="translate(582.336 292.166421)" style="stroke: #000000; stroke-width: 1.3"/>
      </g>
     </g>
     <g id="line2d_504">
      <g>
       <path d="M 0 0 L -2.6 0" transform="translate(843.624 292.166421)" style="stroke: #000000; stroke-width: 1.3"/>
      </g>
     </g>
    </g>
    <g id="ytick_143">
     <g id="line2d_505">
      <g>
       <path d="M 0 0 L 2.6 0" transform="translate(582.336 287.126077)" style="stroke: #000000; stroke-width: 1.3"/>
      </g>
     </g>
     <g id="line2d_506">
      <g>
       <path d="M 0 0 L -2.6 0" transform="translate(843.624 287.126077)" style="stroke: #000000; stroke-width: 1.3"/>
      </g>
     </g>
    </g>
    <g id="ytick_144">
     <g id="line2d_507">
      <g>
       <path d="M 0 0 L 2.6 0" transform="translate(582.336 277.045391)" style="stroke: #000000; stroke-width: 1.3"/>
      </g>
     </g>
     <g id="line2d_508">
      <g>
       <path d="M 0 0 L -2.6 0" transform="translate(843.624 277.045391)" style="stroke: #000000; stroke-width: 1.3"/>
      </g>
     </g>
    </g>
    <g id="ytick_145">
     <g id="line2d_509">
      <g>
       <path d="M 0 0 L 2.6 0" transform="translate(582.336 272.005047)" style="stroke: #000000; stroke-width: 1.3"/>
      </g>
     </g>
     <g id="line2d_510">
      <g>
       <path d="M 0 0 L -2.6 0" transform="translate(843.624 272.005047)" style="stroke: #000000; stroke-width: 1.3"/>
      </g>
     </g>
    </g>
    <g id="ytick_146">
     <g id="line2d_511">
      <g>
       <path d="M 0 0 L 2.6 0" transform="translate(582.336 266.964704)" style="stroke: #000000; stroke-width: 1.3"/>
      </g>
     </g>
     <g id="line2d_512">
      <g>
       <path d="M 0 0 L -2.6 0" transform="translate(843.624 266.964704)" style="stroke: #000000; stroke-width: 1.3"/>
      </g>
     </g>
    </g>
    <g id="ytick_147">
     <g id="line2d_513">
      <g>
       <path d="M 0 0 L 2.6 0" transform="translate(582.336 261.924361)" style="stroke: #000000; stroke-width: 1.3"/>
      </g>
     </g>
     <g id="line2d_514">
      <g>
       <path d="M 0 0 L -2.6 0" transform="translate(843.624 261.924361)" style="stroke: #000000; stroke-width: 1.3"/>
      </g>
     </g>
    </g>
    <g id="ytick_148">
     <g id="line2d_515">
      <g>
       <path d="M 0 0 L 2.6 0" transform="translate(582.336 251.843674)" style="stroke: #000000; stroke-width: 1.3"/>
      </g>
     </g>
     <g id="line2d_516">
      <g>
       <path d="M 0 0 L -2.6 0" transform="translate(843.624 251.843674)" style="stroke: #000000; stroke-width: 1.3"/>
      </g>
     </g>
    </g>
    <g id="ytick_149">
     <g id="line2d_517">
      <g>
       <path d="M 0 0 L 2.6 0" transform="translate(582.336 246.80333)" style="stroke: #000000; stroke-width: 1.3"/>
      </g>
     </g>
     <g id="line2d_518">
      <g>
       <path d="M 0 0 L -2.6 0" transform="translate(843.624 246.80333)" style="stroke: #000000; stroke-width: 1.3"/>
      </g>
     </g>
    </g>
    <g id="ytick_150">
     <g id="line2d_519">
      <g>
       <path d="M 0 0 L 2.6 0" transform="translate(582.336 241.762987)" style="stroke: #000000; stroke-width: 1.3"/>
      </g>
     </g>
     <g id="line2d_520">
      <g>
       <path d="M 0 0 L -2.6 0" transform="translate(843.624 241.762987)" style="stroke: #000000; stroke-width: 1.3"/>
      </g>
     </g>
    </g>
    <g id="ytick_151">
     <g id="line2d_521">
      <g>
       <path d="M 0 0 L 2.6 0" transform="translate(582.336 236.722644)" style="stroke: #000000; stroke-width: 1.3"/>
      </g>
     </g>
     <g id="line2d_522">
      <g>
       <path d="M 0 0 L -2.6 0" transform="translate(843.624 236.722644)" style="stroke: #000000; stroke-width: 1.3"/>
      </g>
     </g>
    </g>
    <g id="ytick_152">
     <g id="line2d_523">
      <g>
       <path d="M 0 0 L 2.6 0" transform="translate(582.336 226.641957)" style="stroke: #000000; stroke-width: 1.3"/>
      </g>
     </g>
     <g id="line2d_524">
      <g>
       <path d="M 0 0 L -2.6 0" transform="translate(843.624 226.641957)" style="stroke: #000000; stroke-width: 1.3"/>
      </g>
     </g>
    </g>
    <g id="ytick_153">
     <g id="line2d_525">
      <g>
       <path d="M 0 0 L 2.6 0" transform="translate(582.336 221.601614)" style="stroke: #000000; stroke-width: 1.3"/>
      </g>
     </g>
     <g id="line2d_526">
      <g>
       <path d="M 0 0 L -2.6 0" transform="translate(843.624 221.601614)" style="stroke: #000000; stroke-width: 1.3"/>
      </g>
     </g>
    </g>
   </g>
   <g id="line2d_527">
    <path d="M 736.104671 432.792 L 736.104671 221.4" clip-path="url(#pd8fa815792)" style="fill: none; stroke-dasharray: 4.18,2.145; stroke-dashoffset: 0; stroke: #000000; stroke-width: 1.1"/>
   </g>
   <g id="line2d_528">
    <path d="M 581.76 432.216 L 592.269474 432.104754 L 606.063158 431.71188 L 619.856842 431.120568 L 627.082105 430.572067 L 632.993684 429.919301 L 635.621053 429.479673 L 638.248421 428.764173 L 640.875789 427.818231 L 644.16 426.392382 L 648.101053 424.460253 L 650.071579 423.247295 L 652.042105 421.752506 L 654.012632 420.003457 L 656.64 417.284615 L 658.610526 414.991772 L 660.581053 412.2477 L 663.865263 407.473397 L 666.492632 404.082655 L 667.149474 403.428278 L 669.12 402.044628 L 670.433684 401.437966 L 671.090526 401.329825 L 671.747368 401.38717 L 673.061053 401.874557 L 674.374737 402.6684 L 675.688421 404.229994 L 678.315789 407.656806 L 683.570526 414.461828 L 686.854737 418.346793 L 688.825263 420.289351 L 690.795789 421.780262 L 693.423158 423.502954 L 695.393684 424.584689 L 697.364211 425.461506 L 699.991579 426.327324 L 703.275789 427.141655 L 708.530526 428.147384 L 714.442105 429.093308 L 719.04 429.617472 L 726.922105 430.166175 L 738.088421 430.731871 L 751.882105 431.194151 L 774.214737 431.684268 L 799.174737 432.000907 L 837.928421 432.278486 L 843.84 432.288 L 843.84 432.288" clip-path="url(#pd8fa815792)" style="fill: none; stroke: #000000; stroke-width: 1.1; stroke-linecap: square"/>
   </g>
   <g id="line2d_529">
    <path d="M 581.76 432.288 L 595.553684 432.172114 L 611.974737 431.79246 L 625.768421 431.277505 L 632.336842 430.803325 L 638.248421 430.177802 L 641.532632 429.71475 L 643.503158 429.199032 L 647.444211 427.801063 L 652.698947 425.878402 L 656.64 424.120313 L 659.267368 422.741589 L 661.237895 421.529479 L 663.208421 420.053535 L 666.492632 417.21902 L 669.12 414.75009 L 673.061053 410.682697 L 675.031579 408.302181 L 676.345263 406.766176 L 677.002105 406.15624 L 678.315789 405.323418 L 679.629474 404.670838 L 680.286316 404.479092 L 680.943158 404.426631 L 681.6 404.540778 L 682.913684 405.152673 L 684.227368 406.040717 L 684.884211 406.76682 L 686.197895 408.849457 L 687.511579 411.114253 L 689.482105 413.794779 L 692.109474 417.076263 L 694.08 419.259679 L 696.050526 421.09124 L 698.677895 423.185891 L 700.648421 424.469871 L 702.618947 425.415251 L 704.589474 426.109854 L 707.216842 426.764999 L 711.814737 427.697749 L 716.412632 428.415267 L 721.667368 428.994117 L 731.52 429.823229 L 742.029474 430.480138 L 753.195789 430.946167 L 772.244211 431.4561 L 793.92 431.807596 L 833.987368 432.189332 L 843.84 432.216 L 843.84 432.216" clip-path="url(#pd8fa815792)" style="fill: none; stroke: #000000; stroke-width: 1.1; stroke-linecap: square"/>
   </g>
   <g id="line2d_530">
    <path d="M 581.76 432.36 L 602.122105 432.072159 L 631.68 431.408033 L 644.816842 430.934333 L 651.385263 430.53873 L 657.296842 429.904438 L 663.208421 429.065407 L 667.806316 428.168071 L 675.031579 426.492975 L 680.286316 425.153973 L 683.570526 424.058042 L 686.197895 422.90584 L 687.511579 422.064998 L 689.482105 420.461583 L 692.766316 417.360554 L 694.736842 415.307453 L 696.050526 413.724669 L 697.364211 411.882017 L 698.677895 409.630405 L 699.991579 406.512854 L 701.962105 401.049175 L 703.932632 394.796952 L 707.873684 382.384005 L 709.187368 378.932338 L 710.501053 376.201705 L 711.814737 374.004903 L 713.128421 372.741354 L 714.442105 371.855341 L 715.098947 371.62837 L 715.755789 371.618559 L 716.412632 371.847467 L 717.726316 372.757691 L 719.04 373.890559 L 720.353684 375.494709 L 721.667368 377.487667 L 722.981053 380.050053 L 724.951579 384.779758 L 731.52 401.253711 L 734.147368 408.021576 L 735.461053 410.784273 L 736.774737 412.858268 L 738.745263 415.44955 L 740.715789 417.58699 L 742.686316 419.383634 L 745.313684 421.411769 L 747.284211 422.689219 L 749.911579 424.088864 L 752.538947 425.241671 L 755.166316 426.193519 L 757.793684 426.953404 L 763.705263 428.317205 L 768.303158 429.233824 L 772.901053 429.852636 L 780.126316 430.614744 L 786.694737 431.072617 L 799.174737 431.601806 L 812.311579 431.931865 L 837.928421 432.270698 L 843.84 432.288 L 843.84 432.288" clip-path="url(#pd8fa815792)" style="fill: none; stroke: #000000; stroke-width: 1.1; stroke-linecap: square"/>
   </g>
   <g id="line2d_531">
    <path d="M 581.76 432.72 L 637.591579 432.609409 L 646.787368 432.353479 L 663.865263 431.594239 L 686.854737 430.489587 L 691.452632 430.057056 L 695.393684 429.478806 L 698.677895 428.817711 L 699.991579 428.426149 L 701.962105 427.586325 L 705.246316 425.846729 L 708.530526 424.196561 L 712.471579 422.273196 L 714.442105 421.074968 L 716.412632 419.624106 L 718.383158 417.934356 L 721.010526 415.334437 L 722.981053 413.024579 L 724.951579 410.365973 L 726.922105 407.374896 L 728.235789 404.978218 L 731.52 398.304 L 732.833684 396.187567 L 733.490526 395.287893 L 734.804211 394.015595 L 735.461053 393.536804 L 736.117895 393.336053 L 736.774737 393.502113 L 738.088421 394.472034 L 738.745263 395.077325 L 740.058947 396.876141 L 742.029474 400.078542 L 749.254737 413.08143 L 750.568421 415.029179 L 751.882105 416.536367 L 753.852632 418.292838 L 759.107368 422.272495 L 761.077895 423.53388 L 764.362105 425.221359 L 767.646316 426.611451 L 770.930526 427.712733 L 774.871579 428.805442 L 777.498947 429.336288 L 782.753684 430.042984 L 788.665263 430.635678 L 795.233684 431.074828 L 807.713684 431.60101 L 821.507368 431.944573 L 842.526316 432.212058 L 843.84 432.216 L 843.84 432.216" clip-path="url(#pd8fa815792)" style="fill: none; stroke: #ff0000; stroke-width: 1.1; stroke-linecap: square"/>
   </g>
   <g id="line2d_532">
    <path d="M 581.76 432.36 L 588.985263 432.243184 L 597.524211 431.860311 L 600.151579 431.577711 L 605.406316 430.626835 L 615.915789 428.807673 L 621.827368 427.316029 L 625.768421 426.754085 L 627.738947 426.673939 L 630.366316 426.867382 L 633.650526 427.387531 L 635.621053 427.980784 L 636.277895 428.247319 L 637.591579 429.136061 L 638.905263 429.974226 L 641.532632 430.979859 L 643.503158 431.499689 L 646.130526 431.832138 L 650.728421 432.214499 L 654.669474 432.356354 L 686.854737 432.445448 L 789.978947 432.567933 L 843.84 432.576 L 843.84 432.576" clip-path="url(#pd8fa815792)" style="fill: none; stroke: #8c8c8c; stroke-width: 1.1; stroke-linecap: square"/>
   </g>
   <g id="line2d_533">
    <path d="M 581.76 432.504 L 604.092632 432.393726 L 624.454737 432.090694 L 635.621053 431.612675 L 642.846316 431.134689 L 646.787368 430.711085 L 652.698947 429.710042 L 657.296842 429.07587 L 663.208421 428.379919 L 665.835789 428.257531 L 667.806316 428.335513 L 670.433684 428.708366 L 678.315789 430.085561 L 684.884211 430.86838 L 687.511579 430.990506 L 690.795789 430.882988 L 694.736842 430.476792 L 699.334737 429.775357 L 701.305263 429.195981 L 706.56 427.332604 L 710.501053 426.548203 L 713.128421 426.18117 L 715.098947 426.096651 L 718.383158 426.237933 L 725.608421 426.671907 L 726.922105 426.598214 L 728.892632 426.23357 L 731.52 425.462633 L 732.833684 424.736779 L 738.745263 420.686231 L 740.715789 419.672514 L 742.686316 418.795938 L 744 418.538094 L 745.313684 418.60975 L 747.284211 418.993262 L 749.911579 419.795592 L 751.225263 420.287128 L 752.538947 421.021404 L 756.48 423.455629 L 761.734737 426.044573 L 763.705263 427.121496 L 766.989474 428.422776 L 768.96 429.023749 L 771.587368 429.554122 L 774.214737 429.950435 L 776.185263 430.055457 L 777.498947 429.951608 L 779.469474 429.541668 L 782.096842 428.776148 L 783.410526 428.188611 L 788.008421 425.803798 L 790.635789 424.67229 L 791.949474 424.309253 L 793.263158 424.241496 L 794.576842 424.480937 L 800.488421 426.084195 L 803.772632 427.496151 L 810.997895 430.517105 L 812.311579 430.632 L 817.566316 430.614668 L 818.88 430.318851 L 824.134737 428.483683 L 832.673684 426.216501 L 834.644211 425.718452 L 836.614737 425.449199 L 841.212632 425.085308 L 843.84 425.016 L 843.84 425.016" clip-path="url(#pd8fa815792)" style="fill: none; stroke-dasharray: 4.84,1.65,1.1,1.65; stroke-dashoffset: 0; stroke: #00ff00; stroke-width: 1.1"/>
   </g>
   <g id="line2d_534">
    <path d="M 582.12 427.824 L 583.056 427.248 L 584.712 428.544 L 586.008 425.304 L 587.592 420.696 L 588.96 431.136 L 590.544 431.136 L 591.552 424.008 L 593.136 421.344 L 594.792 422.064 L 595.8 430.488 L 597.24 431.856 L 599.04 431.64 L 600.624 430.488 L 601.776 431.64 L 602.928 424.944 L 603.936 430.488 L 605.232 429.192 L 606.6 431.856 L 609.12 431.64 L 610.416 429.192 L 612.072 420.696 L 613.008 427.896 L 614.016 427.536 L 615.024 418.752 L 617.256 430.488 L 618.264 424.296 L 619.2 424.008 L 620.856 415.224 L 621.864 422.064 L 623.16 427.248 L 624.456 421.344 L 625.392 424.656 L 626.688 419.4 L 627.696 410.328 L 628.992 409.968 L 630.288 414.864 L 631.584 421.056 L 632.592 414.216 L 633.888 419.4 L 635.832 416.16 L 637.488 406.08 L 638.424 427.248 L 639.072 427.248 L 639.72 412.92 L 641.376 422.712 L 642.672 429.192 L 643.68 431.784 L 645.84 431.64 L 646.272 430.488 L 646.92 417.456 L 648 408.24 L 649.872 408.816 L 651.744 415.728 L 653.616 428.256 L 654.912 428.256 L 656.136 393.192 L 657.36 391.896 L 658.656 383.184 L 659.88 389.448 L 661.176 385.704 L 663.048 381.888 L 664.92 376.92 L 666.144 379.44 L 667.44 386.928 L 668.664 375.624 L 670.536 375.624 L 671.76 374.4 L 673.056 382.536 L 674.928 372.528 L 676.8 365.616 L 678.672 367.488 L 680.544 370.008 L 681.84 370.656 L 682.776 381.888 L 684.288 368.136 L 685.584 369.36 L 687.456 373.752 L 689.328 370.656 L 690.552 377.496 L 692.064 370.368 L 693.72 380.664 L 694.944 376.272 L 696.816 375.624 L 698.4 378.792 L 700.056 370.728 L 701.136 369.648 L 702.288 364.104 L 703.368 363.024 L 704.448 355.32 L 705.6 358.632 L 707.256 349.776 L 708.912 345.888 L 710.568 353.088 L 712.224 355.32 L 714.384 347.544 L 716.04 346.464 L 717.12 348.12 L 718.272 354.168 L 719.352 352.008 L 720.432 356.4 L 721.584 355.32 L 722.88 345.888 L 724.32 352.008 L 727.056 357.48 L 728.208 371.808 L 729.864 363.6 L 731.52 369.648 L 733.68 368.568 L 735.336 366.912 L 735.912 359.712 L 736.488 363.024 L 737.568 360.792 L 739.224 361.944 L 740.88 364.104 L 741.456 368.568 L 741.96 359.136 L 743.112 365.184 L 743.616 370.728 L 744.696 363.024 L 745.848 378.432 L 747.504 382.32 L 749.16 379.584 L 750.24 381.744 L 751.32 375.696 L 752.472 382.32 L 753.552 382.896 L 754.632 391.68 L 754.992 395.712 L 756.216 388.008 L 757.368 396.576 L 758.376 388.44 L 759.672 391.464 L 760.896 399.528 L 762.192 392.76 L 763.488 403.416 L 764.784 411.912 L 766.008 411.048 L 767.088 420.408 L 768.6 410.184 L 770.328 403.416 L 771.552 412.776 L 772.848 406.8 L 774.144 413.64 L 775.44 414.432 L 776.664 423.432 L 777.528 416.592 L 778.824 416.16 L 779.832 413.208 L 780.984 417.888 L 782.424 423 L 783.792 415.296 L 784.8 408.528 L 785.808 407.232 L 786.96 417.888 L 788.184 408.528 L 789.48 418.32 L 790.776 417.888 L 791.784 410.184 L 793.152 416.16 L 794.16 425.52 L 795.456 420.84 L 796.752 419.616 L 797.976 423.432 L 799.272 426.384 L 800.28 422.136 L 801.432 419.616 L 802.728 430.632 L 803.952 429.84 L 805.68 424.728 L 806.976 429.84 L 808.272 430.632 L 809.496 429.84 L 810.792 425.52 L 812.088 423 L 813.384 430.632 L 815.4 430.632 L 817.2 428.976 L 819.288 430.632 L 821.448 428.976 L 822.744 422.568 L 824.04 430.632 L 825.696 429.84 L 827.424 424.8 L 828.72 430.632 L 831.6 430.632 L 833.4 418.752 L 834.696 431.064 L 836.352 423 L 838.8 427.68 L 840.168 425.52 L 841.464 427.248 L 842.76 430.632 L 843.84 429.12 L 843.84 429.12" clip-path="url(#pd8fa815792)" style="fill: none; stroke: #000000; stroke-width: 0.85; stroke-linecap: square"/>
   </g>
   <g id="line2d_535">
    <path d="M 581.76 429.984 L 583.056 429.84 L 588.24 429.192 L 594.792 428.544 L 601.272 427.536 L 607.824 426.24 L 614.304 424.296 L 620.856 421.704 L 627.336 419.4 L 633.888 418.464 L 639.072 417.816 L 640.368 418.104 L 641.736 420.048 L 642.672 425.304 L 643.176 431.64 L 646.056 431.64 L 646.92 418.104 L 648.864 410.976 L 650.52 410.4 L 651.168 410.76 L 652.104 414.864 L 652.752 423.36 L 653.184 432 L 654.768 432 L 655.56 410.4 L 656.784 398.16 L 660.528 388.152 L 665.496 378.144 L 670.536 369.36 L 676.8 365.4 L 680.544 368.136 L 685.584 374.4 L 690.552 381.312 L 694.296 383.184 L 698.112 381.312 L 701.856 375.624 L 705.024 365.256 L 707.256 358.632 L 709.416 354.168 L 712.728 347.544 L 716.616 344.016 L 719.928 345.888 L 723.744 352.008 L 727.056 356.4 L 731.52 358.056 L 734.832 359.136 L 738.144 361.944 L 741.456 366.336 L 744.696 374.04 L 748.008 382.896 L 751.32 389.52 L 754.632 396.144 L 756 399.456 L 759.24 405.936 L 763.488 411.912 L 767.736 416.16 L 772.848 419.616 L 777.96 421.272 L 783.072 420.84 L 788.184 419.184 L 792.432 418.752 L 796.752 419.976 L 801.864 423 L 806.976 425.52 L 812.088 426.816 L 817.2 427.248 L 822.312 426.384 L 829.152 424.728 L 835.92 423.648 L 843.84 423.36" clip-path="url(#pd8fa815792)" style="fill: none; stroke-dasharray: 4.9,2.1; stroke-dashoffset: 0; stroke: #ff00ff; stroke-width: 1.4"/>
   </g>
   <g id="line2d_536">
    <path d="M 715.68 255.096 L 715.68 267.624" clip-path="url(#pd8fa815792)" style="fill: none; stroke: #000000; stroke-width: 1.1"/>
   </g>
   <g id="line2d_537">
    <path d="M 738.936 255.096 L 738.936 267.624" clip-path="url(#pd8fa815792)" style="fill: none; stroke: #000000; stroke-width: 1.1"/>
   </g>
   <g id="line2d_538">
    <path d="M 676.584 294.336 L 676.584 307.008" clip-path="url(#pd8fa815792)" style="fill: none; stroke: #000000; stroke-width: 1.1"/>
   </g>
   <g id="line2d_539">
    <path d="M 773.712 312.192 L 773.712 324.864" clip-path="url(#pd8fa815792)" style="fill: none; stroke: #000000; stroke-width: 1.1"/>
   </g>
   <g id="patch_36">
    <path d="M 582.336 432.792 L 582.336 221.4" style="fill: none; stroke: #000000; stroke-width: 1.25; stroke-linejoin: miter; stroke-linecap: square"/>
   </g>
   <g id="patch_37">
    <path d="M 843.624 432.792 L 843.624 221.4" style="fill: none; stroke: #000000; stroke-width: 1.25; stroke-linejoin: miter; stroke-linecap: square"/>
   </g>
   <g id="patch_38">
    <path d="M 582.336 432.792 L 843.624 432.792" style="fill: none; stroke: #000000; stroke-width: 1.25; stroke-linejoin: miter; stroke-linecap: square"/>
   </g>
   <g id="patch_39">
    <path d="M 582.336 221.4 L 843.624 221.4" style="fill: none; stroke: #000000; stroke-width: 1.25; stroke-linejoin: miter; stroke-linecap: square"/>
   </g>
   <g id="text_52">
    <text style="font-size: 9.65px; font-family: 'DejaVu Sans', sans-serif; text-anchor: start" x="677.016" y="249.264" transform="rotate(-0 677.016 249.264)">BC Si III]</text>
   </g>
   <g id="text_53">
    <text style="font-size: 9.65px; font-family: 'DejaVu Sans', sans-serif; text-anchor: start" x="735.912" y="249.264" transform="rotate(-0 735.912 249.264)">BC C III]</text>
   </g>
   <g id="text_54">
    <text style="font-size: 9.65px; font-family: 'DejaVu Sans', sans-serif; text-anchor: start" x="641.448" y="288.504" transform="rotate(-0 641.448 288.504)">BC Al III</text>
   </g>
   <g id="text_55">
    <text style="font-size: 9.65px; font-family: 'DejaVu Sans', sans-serif; text-anchor: start" x="771.408" y="305.928" transform="rotate(-0 771.408 305.928)">Fe III</text>
   </g>
  </g>
  <g id="axes_9">
   <g id="patch_40">
    <path d="M 582.336 475.344 L 843.624 475.344 L 843.624 432.792 L 582.336 432.792 z" style="fill: #ffffff"/>
   </g>
   <g id="matplotlib.axis_15">
    <g id="xtick_163">
     <g id="line2d_540">
      <g>
       <path d="M 0 0 L 0 -5" transform="translate(660.474157 475.344)" style="stroke: #000000; stroke-width: 1.3"/>
      </g>
     </g>
     <g id="line2d_541">
      <g>
       <path d="M 0 0 L 0 5" transform="translate(660.474157 432.792)" style="stroke: #000000; stroke-width: 1.3"/>
      </g>
     </g>
     <g id="text_56">
      <text style="font-size: 11px; font-family: 'DejaVu Sans', sans-serif; text-anchor: middle" x="660.474157" y="486.502281" transform="rotate(-0 660.474157 486.502281)">−10000</text>
     </g>
    </g>
    <g id="xtick_164">
     <g id="line2d_542">
      <g>
       <path d="M 0 0 L 0 -5" transform="translate(736.104671 475.344)" style="stroke: #000000; stroke-width: 1.3"/>
      </g>
     </g>
     <g id="line2d_543">
      <g>
       <path d="M 0 0 L 0 5" transform="translate(736.104671 432.792)" style="stroke: #000000; stroke-width: 1.3"/>
      </g>
     </g>
     <g id="text_57">
      <text style="font-size: 11px; font-family: 'DejaVu Sans', sans-serif; text-anchor: middle" x="736.104671" y="486.502281" transform="rotate(-0 736.104671 486.502281)">0</text>
     </g>
    </g>
    <g id="xtick_165">
     <g id="line2d_544">
      <g>
       <path d="M 0 0 L 0 -5" transform="translate(811.735185 475.344)" style="stroke: #000000; stroke-width: 1.3"/>
      </g>
     </g>
     <g id="line2d_545">
      <g>
       <path d="M 0 0 L 0 5" transform="translate(811.735185 432.792)" style="stroke: #000000; stroke-width: 1.3"/>
      </g>
     </g>
     <g id="text_58">
      <text style="font-size: 11px; font-family: 'DejaVu Sans', sans-serif; text-anchor: middle" x="811.735185" y="486.502281" transform="rotate(-0 811.735185 486.502281)">10000</text>
     </g>
    </g>
    <g id="xtick_166">
     <g id="line2d_546">
      <g>
       <path d="M 0 0 L 0 -2.6" transform="translate(584.843643 475.344)" style="stroke: #000000; stroke-width: 1.3"/>
      </g>
     </g>
     <g id="line2d_547">
      <g>
       <path d="M 0 0 L 0 2.6" transform="translate(584.843643 432.792)" style="stroke: #000000; stroke-width: 1.3"/>
      </g>
     </g>
    </g>
    <g id="xtick_167">
     <g id="line2d_548">
      <g>
       <path d="M 0 0 L 0 -2.6" transform="translate(599.969746 475.344)" style="stroke: #000000; stroke-width: 1.3"/>
      </g>
     </g>
     <g id="line2d_549">
      <g>
       <path d="M 0 0 L 0 2.6" transform="translate(599.969746 432.792)" style="stroke: #000000; stroke-width: 1.3"/>
      </g>
     </g>
    </g>
    <g id="xtick_168">
     <g id="line2d_550">
      <g>
       <path d="M 0 0 L 0 -2.6" transform="translate(615.095848 475.344)" style="stroke: #000000; stroke-width: 1.3"/>
      </g>
     </g>
     <g id="line2d_551">
      <g>
       <path d="M 0 0 L 0 2.6" transform="translate(615.095848 432.792)" style="stroke: #000000; stroke-width: 1.3"/>
      </g>
     </g>
    </g>
    <g id="xtick_169">
     <g id="line2d_552">
      <g>
       <path d="M 0 0 L 0 -2.6" transform="translate(630.221951 475.344)" style="stroke: #000000; stroke-width: 1.3"/>
      </g>
     </g>
     <g id="line2d_553">
      <g>
       <path d="M 0 0 L 0 2.6" transform="translate(630.221951 432.792)" style="stroke: #000000; stroke-width: 1.3"/>
      </g>
     </g>
    </g>
    <g id="xtick_170">
     <g id="line2d_554">
      <g>
       <path d="M 0 0 L 0 -2.6" transform="translate(645.348054 475.344)" style="stroke: #000000; stroke-width: 1.3"/>
      </g>
     </g>
     <g id="line2d_555">
      <g>
       <path d="M 0 0 L 0 2.6" transform="translate(645.348054 432.792)" style="stroke: #000000; stroke-width: 1.3"/>
      </g>
     </g>
    </g>
    <g id="xtick_171">
     <g id="line2d_556">
      <g>
       <path d="M 0 0 L 0 -2.6" transform="translate(675.60026 475.344)" style="stroke: #000000; stroke-width: 1.3"/>
      </g>
     </g>
     <g id="line2d_557">
      <g>
       <path d="M 0 0 L 0 2.6" transform="translate(675.60026 432.792)" style="stroke: #000000; stroke-width: 1.3"/>
      </g>
     </g>
    </g>
    <g id="xtick_172">
     <g id="line2d_558">
      <g>
       <path d="M 0 0 L 0 -2.6" transform="translate(690.726362 475.344)" style="stroke: #000000; stroke-width: 1.3"/>
      </g>
     </g>
     <g id="line2d_559">
      <g>
       <path d="M 0 0 L 0 2.6" transform="translate(690.726362 432.792)" style="stroke: #000000; stroke-width: 1.3"/>
      </g>
     </g>
    </g>
    <g id="xtick_173">
     <g id="line2d_560">
      <g>
       <path d="M 0 0 L 0 -2.6" transform="translate(705.852465 475.344)" style="stroke: #000000; stroke-width: 1.3"/>
      </g>
     </g>
     <g id="line2d_561">
      <g>
       <path d="M 0 0 L 0 2.6" transform="translate(705.852465 432.792)" style="stroke: #000000; stroke-width: 1.3"/>
      </g>
     </g>
    </g>
    <g id="xtick_174">
     <g id="line2d_562">
      <g>
       <path d="M 0 0 L 0 -2.6" transform="translate(720.978568 475.344)" style="stroke: #000000; stroke-width: 1.3"/>
      </g>
     </g>
     <g id="line2d_563">
      <g>
       <path d="M 0 0 L 0 2.6" transform="translate(720.978568 432.792)" style="stroke: #000000; stroke-width: 1.3"/>
      </g>
     </g>
    </g>
    <g id="xtick_175">
     <g id="line2d_564">
      <g>
       <path d="M 0 0 L 0 -2.6" transform="translate(751.230774 475.344)" style="stroke: #000000; stroke-width: 1.3"/>
      </g>
     </g>
     <g id="line2d_565">
      <g>
       <path d="M 0 0 L 0 2.6" transform="translate(751.230774 432.792)" style="stroke: #000000; stroke-width: 1.3"/>
      </g>
     </g>
    </g>
    <g id="xtick_176">
     <g id="line2d_566">
      <g>
       <path d="M 0 0 L 0 -2.6" transform="translate(766.356876 475.344)" style="stroke: #000000; stroke-width: 1.3"/>
      </g>
     </g>
     <g id="line2d_567">
      <g>
       <path d="M 0 0 L 0 2.6" transform="translate(766.356876 432.792)" style="stroke: #000000; stroke-width: 1.3"/>
      </g>
     </g>
    </g>
    <g id="xtick_177">
     <g id="line2d_568">
      <g>
       <path d="M 0 0 L 0 -2.6" transform="translate(781.482979 475.344)" style="stroke: #000000; stroke-width: 1.3"/>
      </g>
     </g>
     <g id="line2d_569">
      <g>
       <path d="M 0 0 L 0 2.6" transform="translate(781.482979 432.792)" style="stroke: #000000; stroke-width: 1.3"/>
      </g>
     </g>
    </g>
    <g id="xtick_178">
     <g id="line2d_570">
      <g>
       <path d="M 0 0 L 0 -2.6" transform="translate(796.609082 475.344)" style="stroke: #000000; stroke-width: 1.3"/>
      </g>
     </g>
     <g id="line2d_571">
      <g>
       <path d="M 0 0 L 0 2.6" transform="translate(796.609082 432.792)" style="stroke: #000000; stroke-width: 1.3"/>
      </g>
     </g>
    </g>
    <g id="xtick_179">
     <g id="line2d_572">
      <g>
       <path d="M 0 0 L 0 -2.6" transform="translate(826.861287 475.344)" style="stroke: #000000; stroke-width: 1.3"/>
      </g>
     </g>
     <g id="line2d_573">
      <g>
       <path d="M 0 0 L 0 2.6" transform="translate(826.861287 432.792)" style="stroke: #000000; stroke-width: 1.3"/>
      </g>
     </g>
    </g>
    <g id="xtick_180">
     <g id="line2d_574">
      <g>
       <path d="M 0 0 L 0 -2.6" transform="translate(841.98739 475.344)" style="stroke: #000000; stroke-width: 1.3"/>
      </g>
     </g>
     <g id="line2d_575">
      <g>
       <path d="M 0 0 L 0 2.6" transform="translate(841.98739 432.792)" style="stroke: #000000; stroke-width: 1.3"/>
      </g>
     </g>
    </g>
    <g id="text_59">
     
     <g transform="translate(680.666 501.213672)">
      <text><tspan x="0" y="-0.178125" style="font-size: 10.7px; font-family: 'DejaVu Sans', sans-serif">Δ </tspan><tspan x="9.09922" y="-0.178125" style="font-style: oblique; font-size: 10.7px; font-family: 'DejaVu Sans', sans-serif">v</tspan><tspan x="15.461" y="1.62656" style="font-style: oblique; font-size: 7.49px; font-family: 'DejaVu Sans', sans-serif">r </tspan><tspan x="20.6009" y="-0.178125" style="font-size: 10.7px; font-family: 'DejaVu Sans', sans-serif">[</tspan><tspan x="24.7949" y="-0.178125" style="font-style: oblique; font-size: 10.7px; font-family: 'DejaVu Sans', sans-serif">km </tspan><tspan x="43.2374" y="-0.178125" style="font-style: oblique; font-size: 10.7px; font-family: 'DejaVu Sans', sans-serif">s</tspan><tspan x="49.349" y="-4.38906" style="font-size: 7.49px; font-family: 'DejaVu Sans', sans-serif">−1</tspan><tspan x="60.7426" y="-0.178125" style="font-size: 10.7px; font-family: 'DejaVu Sans', sans-serif">]</tspan></text>
     </g>
    </g>
   </g>
   <g id="matplotlib.axis_16">
    <g id="ytick_154">
     <g id="line2d_576">
      <g>
       <path d="M 0 0 L 5 0" transform="translate(582.336 471.0888)" style="stroke: #000000; stroke-width: 1.3"/>
      </g>
     </g>
     <g id="line2d_577">
      <g>
       <path d="M 0 0 L -5 0" transform="translate(843.624 471.0888)" style="stroke: #000000; stroke-width: 1.3"/>
      </g>
     </g>
    </g>
    <g id="ytick_155">
     <g id="line2d_578">
      <g>
       <path d="M 0 0 L 5 0" transform="translate(582.336 454.068)" style="stroke: #000000; stroke-width: 1.3"/>
      </g>
     </g>
     <g id="line2d_579">
      <g>
       <path d="M 0 0 L -5 0" transform="translate(843.624 454.068)" style="stroke: #000000; stroke-width: 1.3"/>
      </g>
     </g>
    </g>
    <g id="ytick_156">
     <g id="line2d_580">
      <g>
       <path d="M 0 0 L 5 0" transform="translate(582.336 437.0472)" style="stroke: #000000; stroke-width: 1.3"/>
      </g>
     </g>
     <g id="line2d_581">
      <g>
       <path d="M 0 0 L -5 0" transform="translate(843.624 437.0472)" style="stroke: #000000; stroke-width: 1.3"/>
      </g>
     </g>
    </g>
    <g id="ytick_157">
     <g id="line2d_582">
      <g>
       <path d="M 0 0 L 2.6 0" transform="translate(582.336 475.344)" style="stroke: #000000; stroke-width: 1.3"/>
      </g>
     </g>
     <g id="line2d_583">
      <g>
       <path d="M 0 0 L -2.6 0" transform="translate(843.624 475.344)" style="stroke: #000000; stroke-width: 1.3"/>
      </g>
     </g>
    </g>
    <g id="ytick_158">
     <g id="line2d_584">
      <g>
       <path d="M 0 0 L 2.6 0" transform="translate(582.336 466.8336)" style="stroke: #000000; stroke-width: 1.3"/>
      </g>
     </g>
     <g id="line2d_585">
      <g>
       <path d="M 0 0 L -2.6 0" transform="translate(843.624 466.8336)" style="stroke: #000000; stroke-width: 1.3"/>
      </g>
     </g>
    </g>
    <g id="ytick_159">
     <g id="line2d_586">
      <g>
       <path d="M 0 0 L 2.6 0" transform="translate(582.336 462.5784)" style="stroke: #000000; stroke-width: 1.3"/>
      </g>
     </g>
     <g id="line2d_587">
      <g>
       <path d="M 0 0 L -2.6 0" transform="translate(843.624 462.5784)" style="stroke: #000000; stroke-width: 1.3"/>
      </g>
     </g>
    </g>
    <g id="ytick_160">
     <g id="line2d_588">
      <g>
       <path d="M 0 0 L 2.6 0" transform="translate(582.336 458.3232)" style="stroke: #000000; stroke-width: 1.3"/>
      </g>
     </g>
     <g id="line2d_589">
      <g>
       <path d="M 0 0 L -2.6 0" transform="translate(843.624 458.3232)" style="stroke: #000000; stroke-width: 1.3"/>
      </g>
     </g>
    </g>
    <g id="ytick_161">
     <g id="line2d_590">
      <g>
       <path d="M 0 0 L 2.6 0" transform="translate(582.336 449.8128)" style="stroke: #000000; stroke-width: 1.3"/>
      </g>
     </g>
     <g id="line2d_591">
      <g>
       <path d="M 0 0 L -2.6 0" transform="translate(843.624 449.8128)" style="stroke: #000000; stroke-width: 1.3"/>
      </g>
     </g>
    </g>
    <g id="ytick_162">
     <g id="line2d_592">
      <g>
       <path d="M 0 0 L 2.6 0" transform="translate(582.336 445.5576)" style="stroke: #000000; stroke-width: 1.3"/>
      </g>
     </g>
     <g id="line2d_593">
      <g>
       <path d="M 0 0 L -2.6 0" transform="translate(843.624 445.5576)" style="stroke: #000000; stroke-width: 1.3"/>
      </g>
     </g>
    </g>
    <g id="ytick_163">
     <g id="line2d_594">
      <g>
       <path d="M 0 0 L 2.6 0" transform="translate(582.336 441.3024)" style="stroke: #000000; stroke-width: 1.3"/>
      </g>
     </g>
     <g id="line2d_595">
      <g>
       <path d="M 0 0 L -2.6 0" transform="translate(843.624 441.3024)" style="stroke: #000000; stroke-width: 1.3"/>
      </g>
     </g>
    </g>
    <g id="ytick_164">
     <g id="line2d_596">
      <g>
       <path d="M 0 0 L 2.6 0" transform="translate(582.336 432.792)" style="stroke: #000000; stroke-width: 1.3"/>
      </g>
     </g>
     <g id="line2d_597">
      <g>
       <path d="M 0 0 L -2.6 0" transform="translate(843.624 432.792)" style="stroke: #000000; stroke-width: 1.3"/>
      </g>
     </g>
    </g>
   </g>
   <g id="line2d_598">
    <path d="M 736.104671 475.344 L 736.104671 432.792" clip-path="url(#pa240e95aad)" style="fill: none; stroke-dasharray: 4.18,2.145; stroke-dashoffset: 0; stroke: #000000; stroke-width: 1.1"/>
   </g>
   <g id="line2d_599">
    <path d="M 582.336 454.068 L 843.624 454.068" clip-path="url(#pa240e95aad)" style="fill: none; stroke-dasharray: 4.18,2.145; stroke-dashoffset: 0; stroke: #000000; stroke-width: 1.1"/>
   </g>
   <g id="line2d_600">
    <path d="M 583.2 453.672 L 585 453.672 L 587.16 451.872 L 588.6 453.672 L 590.04 459.432 L 591.48 452.952 L 593.712 451.872 L 598.392 456.552 L 600.552 455.112 L 602.712 455.112 L 604.512 456.552 L 606.312 457.272 L 608.472 455.112 L 610.632 454.392 L 612.792 454.032 L 614.664 452.952 L 616.464 455.112 L 617.904 456.192 L 619.344 454.032 L 621.144 452.592 L 622.944 455.472 L 625.104 453.672 L 626.544 454.392 L 628.344 451.512 L 630.144 452.952 L 631.944 454.752 L 634.104 453.672 L 635.904 453.312 L 637.416 451.152 L 638.856 457.992 L 639.936 453.672 L 641.736 454.392 L 643.536 452.952 L 645.696 455.832 L 647.856 453.672 L 650.016 454.392 L 651.816 455.832 L 653.976 454.392 L 656.136 453.312 L 658.368 451.152 L 659.808 453.672 L 664.128 452.952 L 665.568 453.672 L 667.008 456.912 L 668.16 455.112 L 670.32 456.192 L 671.76 456.552 L 672.84 458.712 L 674.28 456.192 L 675.72 455.832 L 676.8 453.672 L 678.6 454.392 L 680.472 454.392 L 681.552 455.112 L 682.632 457.272 L 683.712 453.672 L 685.512 452.952 L 687.312 451.872 L 689.112 452.952 L 690.552 453.312 L 691.992 451.152 L 693.432 452.952 L 695.232 452.232 L 697.032 453.672 L 698.832 454.752 L 700.272 452.952 L 702.144 451.512 L 703.584 453.312 L 705.384 450.792 L 706.824 452.592 L 708.624 451.152 L 710.064 453.672 L 711.504 455.472 L 712.944 456.192 L 714.744 455.112 L 716.544 455.112 L 717.984 456.552 L 721.224 456.552 L 723.096 453.312 L 725.256 454.032 L 727.056 456.912 L 728.496 458.352 L 729.936 456.192 L 731.736 457.272 L 733.536 457.632 L 735.336 456.912 L 736.416 454.392 L 737.856 454.392 L 739.656 454.032 L 740.736 454.752 L 741.816 451.512 L 742.896 455.112 L 743.976 451.152 L 745.488 455.832 L 746.928 454.032 L 748.368 453.312 L 749.808 451.872 L 751.248 449.712 L 753.048 450.432 L 754.56 451.8 L 756.072 450.936 L 757.944 449.568 L 759.888 450.936 L 761.76 449.28 L 763.272 452.088 L 764.784 454.032 L 766.296 455.544 L 768.24 453.6 L 770.112 450.216 L 771.984 451.368 L 773.928 452.88 L 776.16 454.392 L 778.464 452.88 L 780.336 452.088 L 782.28 454.752 L 784.512 450.576 L 786.384 451.368 L 788.328 453.24 L 790.2 451.728 L 792.072 452.88 L 794.016 455.904 L 795.888 454.752 L 798.192 455.544 L 800.424 454.032 L 802.368 456.624 L 804.6 454.752 L 806.544 454.392 L 808.416 456.624 L 810.72 453.6 L 812.952 456.264 L 815.256 454.752 L 817.488 454.392 L 819.792 454.752 L 821.664 457.056 L 823.176 454.032 L 825.12 454.752 L 826.632 455.544 L 828.504 457.056 L 832.32 455.544 L 833.832 453.6 L 834.984 456.264 L 836.496 454.032 L 841.032 454.752 L 842.904 456.264 L 843.84 455.76 L 843.84 455.76" clip-path="url(#pa240e95aad)" style="fill: none; stroke: #000000; stroke-width: 0.85; stroke-linecap: square"/>
   </g>
   <g id="patch_41">
    <path d="M 582.336 475.344 L 582.336 432.792" style="fill: none; stroke: #000000; stroke-width: 1.25; stroke-linejoin: miter; stroke-linecap: square"/>
   </g>
   <g id="patch_42">
    <path d="M 843.624 475.344 L 843.624 432.792" style="fill: none; stroke: #000000; stroke-width: 1.25; stroke-linejoin: miter; stroke-linecap: square"/>
   </g>
   <g id="patch_43">
    <path d="M 582.336 475.344 L 843.624 475.344" style="fill: none; stroke: #000000; stroke-width: 1.25; stroke-linejoin: miter; stroke-linecap: square"/>
   </g>
   <g id="patch_44">
    <path d="M 582.336 432.792 L 843.624 432.792" style="fill: none; stroke: #000000; stroke-width: 1.25; stroke-linejoin: miter; stroke-linecap: square"/>
   </g>
  </g>
  <g id="axes_10">
   <g id="matplotlib.axis_17">
    <g id="xtick_181">
     <g id="line2d_601">
      <g>
       <path d="M 0 0 L 0 5" transform="translate(606.084057 221.4)" style="stroke: #000000; stroke-width: 1.3"/>
      </g>
     </g>
     <g id="text_60">
      <text style="font-size: 11px; font-family: 'DejaVu Sans', sans-serif; text-anchor: middle" x="606.084057" y="217.512344" transform="rotate(-0 606.084057 217.512344)">1800</text>
     </g>
    </g>
    <g id="xtick_182">
     <g id="line2d_602">
      <g>
       <path d="M 0 0 L 0 5" transform="translate(665.4542 221.4)" style="stroke: #000000; stroke-width: 1.3"/>
      </g>
     </g>
     <g id="text_61">
      <text style="font-size: 11px; font-family: 'DejaVu Sans', sans-serif; text-anchor: middle" x="665.4542" y="217.512344" transform="rotate(-0 665.4542 217.512344)">1850</text>
     </g>
    </g>
    <g id="xtick_183">
     <g id="line2d_603">
      <g>
       <path d="M 0 0 L 0 5" transform="translate(724.824344 221.4)" style="stroke: #000000; stroke-width: 1.3"/>
      </g>
     </g>
     <g id="text_62">
      <text style="font-size: 11px; font-family: 'DejaVu Sans', sans-serif; text-anchor: middle" x="724.824344" y="217.512344" transform="rotate(-0 724.824344 217.512344)">1900</text>
     </g>
    </g>
    <g id="xtick_184">
     <g id="line2d_604">
      <g>
       <path d="M 0 0 L 0 5" transform="translate(784.194487 221.4)" style="stroke: #000000; stroke-width: 1.3"/>
      </g>
     </g>
     <g id="text_63">
      <text style="font-size: 11px; font-family: 'DejaVu Sans', sans-serif; text-anchor: middle" x="784.194487" y="217.512344" transform="rotate(-0 784.194487 217.512344)">1950</text>
     </g>
    </g>
    <g id="xtick_185">
     <g id="line2d_605">
      <g>
       <path d="M 0 0 L 0 5" transform="translate(843.56463 221.4)" style="stroke: #000000; stroke-width: 1.3"/>
      </g>
     </g>
     <g id="text_64">
      <text style="font-size: 11px; font-family: 'DejaVu Sans', sans-serif; text-anchor: middle" x="843.56463" y="217.512344" transform="rotate(-0 843.56463 217.512344)">2000</text>
     </g>
    </g>
    <g id="xtick_186">
     <g id="line2d_606">
      <g>
       <path d="M 0 0 L 0 2.6" transform="translate(582.336 221.4)" style="stroke: #000000; stroke-width: 1.3"/>
      </g>
     </g>
    </g>
    <g id="xtick_187">
     <g id="line2d_607">
      <g>
       <path d="M 0 0 L 0 2.6" transform="translate(594.210029 221.4)" style="stroke: #000000; stroke-width: 1.3"/>
      </g>
     </g>
    </g>
    <g id="xtick_188">
     <g id="line2d_608">
      <g>
       <path d="M 0 0 L 0 2.6" transform="translate(617.958086 221.4)" style="stroke: #000000; stroke-width: 1.3"/>
      </g>
     </g>
    </g>
    <g id="xtick_189">
     <g id="line2d_609">
      <g>
       <path d="M 0 0 L 0 2.6" transform="translate(629.832115 221.4)" style="stroke: #000000; stroke-width: 1.3"/>
      </g>
     </g>
    </g>
    <g id="xtick_190">
     <g id="line2d_610">
      <g>
       <path d="M 0 0 L 0 2.6" transform="translate(641.706143 221.4)" style="stroke: #000000; stroke-width: 1.3"/>
      </g>
     </g>
    </g>
    <g id="xtick_191">
     <g id="line2d_611">
      <g>
       <path d="M 0 0 L 0 2.6" transform="translate(653.580172 221.4)" style="stroke: #000000; stroke-width: 1.3"/>
      </g>
     </g>
    </g>
    <g id="xtick_192">
     <g id="line2d_612">
      <g>
       <path d="M 0 0 L 0 2.6" transform="translate(677.328229 221.4)" style="stroke: #000000; stroke-width: 1.3"/>
      </g>
     </g>
    </g>
    <g id="xtick_193">
     <g id="line2d_613">
      <g>
       <path d="M 0 0 L 0 2.6" transform="translate(689.202258 221.4)" style="stroke: #000000; stroke-width: 1.3"/>
      </g>
     </g>
    </g>
    <g id="xtick_194">
     <g id="line2d_614">
      <g>
       <path d="M 0 0 L 0 2.6" transform="translate(701.076286 221.4)" style="stroke: #000000; stroke-width: 1.3"/>
      </g>
     </g>
    </g>
    <g id="xtick_195">
     <g id="line2d_615">
      <g>
       <path d="M 0 0 L 0 2.6" transform="translate(712.950315 221.4)" style="stroke: #000000; stroke-width: 1.3"/>
      </g>
     </g>
    </g>
    <g id="xtick_196">
     <g id="line2d_616">
      <g>
       <path d="M 0 0 L 0 2.6" transform="translate(736.698372 221.4)" style="stroke: #000000; stroke-width: 1.3"/>
      </g>
     </g>
    </g>
    <g id="xtick_197">
     <g id="line2d_617">
      <g>
       <path d="M 0 0 L 0 2.6" transform="translate(748.572401 221.4)" style="stroke: #000000; stroke-width: 1.3"/>
      </g>
     </g>
    </g>
    <g id="xtick_198">
     <g id="line2d_618">
      <g>
       <path d="M 0 0 L 0 2.6" transform="translate(760.446429 221.4)" style="stroke: #000000; stroke-width: 1.3"/>
      </g>
     </g>
    </g>
    <g id="xtick_199">
     <g id="line2d_619">
      <g>
       <path d="M 0 0 L 0 2.6" transform="translate(772.320458 221.4)" style="stroke: #000000; stroke-width: 1.3"/>
      </g>
     </g>
    </g>
    <g id="xtick_200">
     <g id="line2d_620">
      <g>
       <path d="M 0 0 L 0 2.6" transform="translate(796.068515 221.4)" style="stroke: #000000; stroke-width: 1.3"/>
      </g>
     </g>
    </g>
    <g id="xtick_201">
     <g id="line2d_621">
      <g>
       <path d="M 0 0 L 0 2.6" transform="translate(807.942544 221.4)" style="stroke: #000000; stroke-width: 1.3"/>
      </g>
     </g>
    </g>
    <g id="xtick_202">
     <g id="line2d_622">
      <g>
       <path d="M 0 0 L 0 2.6" transform="translate(819.816573 221.4)" style="stroke: #000000; stroke-width: 1.3"/>
      </g>
     </g>
    </g>
    <g id="xtick_203">
     <g id="line2d_623">
      <g>
       <path d="M 0 0 L 0 2.6" transform="translate(831.690601 221.4)" style="stroke: #000000; stroke-width: 1.3"/>
      </g>
     </g>
    </g>
   </g>
   <g id="patch_45">
    <path d="M 582.336 432.792 L 582.336 221.4" style="fill: none; stroke: #000000; stroke-width: 1.25; stroke-linejoin: miter; stroke-linecap: square"/>
   </g>
   <g id="patch_46">
    <path d="M 843.624 432.792 L 843.624 221.4" style="fill: none; stroke: #000000; stroke-width: 1.25; stroke-linejoin: miter; stroke-linecap: square"/>
   </g>
   <g id="patch_47">
    <path d="M 582.336 432.792 L 843.624 432.792" style="fill: none; stroke: #000000; stroke-width: 1.25; stroke-linejoin: miter; stroke-linecap: square"/>
   </g>
   <g id="patch_48">
    <path d="M 582.336 221.4 L 843.624 221.4" style="fill: none; stroke: #000000; stroke-width: 1.25; stroke-linejoin: miter; stroke-linecap: square"/>
   </g>
  </g>
  <g id="text_65">
   
   <g transform="translate(17.99925 482.484) rotate(-90)">
    <text><tspan x="0" y="-0.875" style="font-style: oblique; font-size: 12px; font-family: 'DejaVu Sans', sans-serif">Residuals</tspan></text>
   </g>
  </g>
  <g id="text_66">
   
   <g transform="translate(17.56725 264.888) rotate(-90)">
    <text><tspan x="0" y="-0.875" style="font-style: oblique; font-size: 12px; font-family: 'DejaVu Sans', sans-serif">Normalized </tspan><tspan x="72.1582" y="-0.875" style="font-style: oblique; font-size: 12px; font-family: 'DejaVu Sans', sans-serif">Flux</tspan></text>
   </g>
  </g>
 </g>
 <defs>
  <clipPath id="p3af174a0c6">
   <rect x="60.48" y="51.552" width="783.144" height="139.752"/>
  </clipPath>
  <clipPath id="p72ddb34a2a">
   <rect x="60.48" y="221.4" width="261.216" height="211.392"/>
  </clipPath>
  <clipPath id="pa6996b7261">
   <rect x="60.48" y="432.792" width="261.216" height="42.552"/>
  </clipPath>
  <clipPath id="p6b570c8475">
   <rect x="321.696" y="221.4" width="260.64" height="211.392"/>
  </clipPath>
  <clipPath id="p6846031a18">
   <rect x="321.696" y="432.792" width="260.64" height="42.552"/>
  </clipPath>
  <clipPath id="pd8fa815792">
   <rect x="582.336" y="221.4" width="261.288" height="211.392"/>
  </clipPath>
  <clipPath id="pa240e95aad">
   <rect x="582.336" y="432.792" width="261.288" height="42.552"/>
  </clipPath>
 </defs>
</svg>

</body></html>
